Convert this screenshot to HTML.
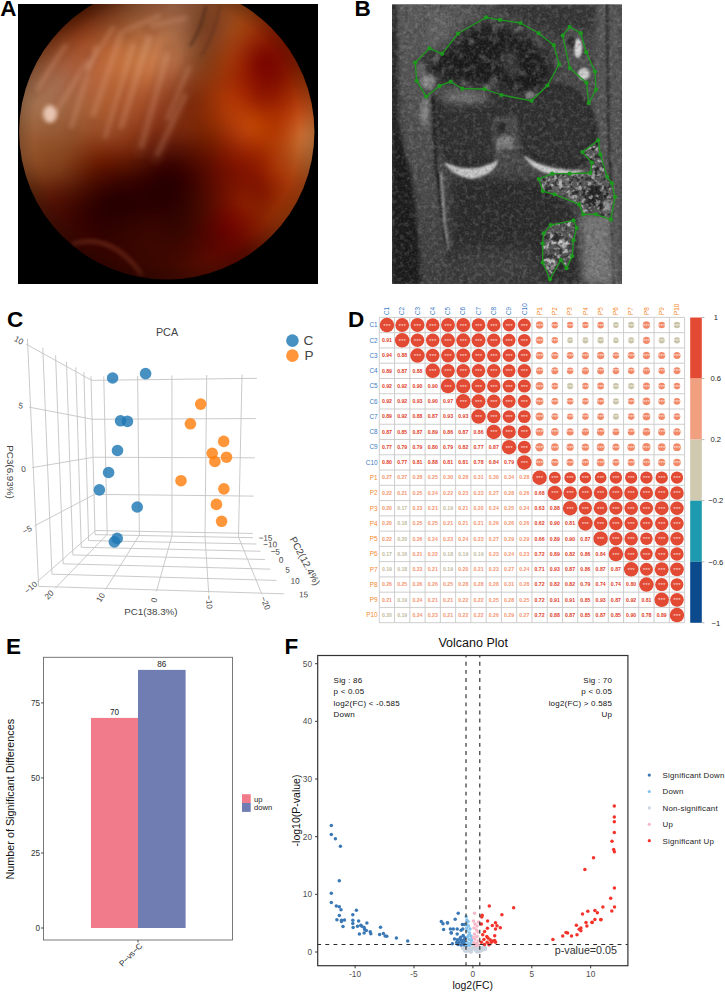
<!DOCTYPE html>
<html><head><meta charset="utf-8"><style>
html,body{margin:0;padding:0;background:#fff;}
svg{display:block;font-family:"Liberation Sans", sans-serif;}
</style></head><body>
<svg width="725" height="993" viewBox="0 0 725 993">
<rect width="725" height="993" fill="#fff"/>
<text x="0.3" y="16.3" font-size="22.5" font-weight="bold" fill="#000">A</text>
<defs>
<clipPath id="clipA"><circle cx="166.8" cy="132" r="147.6"/></clipPath>
<clipPath id="clipAr"><rect x="18" y="4" width="300" height="280"/></clipPath>
<filter id="bA1" x="-50%" y="-50%" width="200%" height="200%" color-interpolation-filters="sRGB"><feGaussianBlur stdDeviation="1.4"/></filter>
<filter id="bA2" x="-50%" y="-50%" width="200%" height="200%" color-interpolation-filters="sRGB"><feGaussianBlur stdDeviation="2"/></filter>
<filter id="bA4" x="-50%" y="-50%" width="200%" height="200%" color-interpolation-filters="sRGB"><feGaussianBlur stdDeviation="4"/></filter>
<filter id="bAm" x="0" y="0" width="100%" height="100%" color-interpolation-filters="sRGB"><feGaussianBlur stdDeviation="3" edgeMode="duplicate"/></filter>
<radialGradient id="vigA" cx="166.8" cy="132" r="147.6" gradientUnits="userSpaceOnUse">
<stop offset="0.9" stop-color="#000" stop-opacity="0"/>
<stop offset="1" stop-color="#000" stop-opacity="0.18"/>
</radialGradient>
</defs>
<rect x="18" y="4" width="300" height="280" fill="#000"/>
<g clip-path="url(#clipAr)"><g clip-path="url(#clipA)">
<g filter="url(#bAm)"><rect x="10" y="-8" width="6.5" height="6.5" fill="#420a00"/><rect x="16" y="-8" width="6.5" height="6.5" fill="#420900"/><rect x="22" y="-8" width="6.5" height="6.5" fill="#420900"/><rect x="28" y="-8" width="6.5" height="6.5" fill="#420800"/><rect x="34" y="-8" width="6.5" height="6.5" fill="#410800"/><rect x="40" y="-8" width="6.5" height="6.5" fill="#410700"/><rect x="46" y="-8" width="6.5" height="6.5" fill="#410700"/><rect x="52" y="-8" width="6.5" height="6.5" fill="#410700"/><rect x="58" y="-8" width="6.5" height="6.5" fill="#410800"/><rect x="64" y="-8" width="6.5" height="6.5" fill="#410900"/><rect x="70" y="-8" width="6.5" height="6.5" fill="#420b00"/><rect x="76" y="-8" width="6.5" height="6.5" fill="#440d00"/><rect x="82" y="-8" width="6.5" height="6.5" fill="#461100"/><rect x="88" y="-8" width="6.5" height="6.5" fill="#491500"/><rect x="94" y="-8" width="6.5" height="6.5" fill="#4d1904"/><rect x="100" y="-8" width="6.5" height="6.5" fill="#521e09"/><rect x="106" y="-8" width="6.5" height="6.5" fill="#56240d"/><rect x="112" y="-8" width="6.5" height="6.5" fill="#5c2912"/><rect x="118" y="-8" width="6.5" height="6.5" fill="#612f17"/><rect x="124" y="-8" width="6.5" height="6.5" fill="#66351c"/><rect x="130" y="-8" width="6.5" height="6.5" fill="#6c3a21"/><rect x="136" y="-8" width="6.5" height="6.5" fill="#714026"/><rect x="142" y="-8" width="6.5" height="6.5" fill="#76452a"/><rect x="148" y="-8" width="6.5" height="6.5" fill="#7b492e"/><rect x="154" y="-8" width="6.5" height="6.5" fill="#7f4d32"/><rect x="160" y="-8" width="6.5" height="6.5" fill="#815035"/><rect x="166" y="-8" width="6.5" height="6.5" fill="#835236"/><rect x="172" y="-8" width="6.5" height="6.5" fill="#845237"/><rect x="178" y="-8" width="6.5" height="6.5" fill="#835136"/><rect x="184" y="-8" width="6.5" height="6.5" fill="#814f33"/><rect x="190" y="-8" width="6.5" height="6.5" fill="#7f4c30"/><rect x="196" y="-8" width="6.5" height="6.5" fill="#7d492b"/><rect x="202" y="-8" width="6.5" height="6.5" fill="#7c4627"/><rect x="208" y="-8" width="6.5" height="6.5" fill="#7d4424"/><rect x="214" y="-8" width="6.5" height="6.5" fill="#7e4320"/><rect x="220" y="-8" width="6.5" height="6.5" fill="#81421d"/><rect x="226" y="-8" width="6.5" height="6.5" fill="#84411a"/><rect x="232" y="-8" width="6.5" height="6.5" fill="#874017"/><rect x="238" y="-8" width="6.5" height="6.5" fill="#893e15"/><rect x="244" y="-8" width="6.5" height="6.5" fill="#8b3c12"/><rect x="250" y="-8" width="6.5" height="6.5" fill="#8c3a0f"/><rect x="256" y="-8" width="6.5" height="6.5" fill="#8d380d"/><rect x="262" y="-8" width="6.5" height="6.5" fill="#8d360b"/><rect x="268" y="-8" width="6.5" height="6.5" fill="#8e3409"/><rect x="274" y="-8" width="6.5" height="6.5" fill="#8e3207"/><rect x="280" y="-8" width="6.5" height="6.5" fill="#8f3106"/><rect x="286" y="-8" width="6.5" height="6.5" fill="#903106"/><rect x="292" y="-8" width="6.5" height="6.5" fill="#913105"/><rect x="298" y="-8" width="6.5" height="6.5" fill="#933205"/><rect x="304" y="-8" width="6.5" height="6.5" fill="#953406"/><rect x="310" y="-8" width="6.5" height="6.5" fill="#973606"/><rect x="316" y="-8" width="6.5" height="6.5" fill="#993807"/><rect x="322" y="-8" width="6.5" height="6.5" fill="#9b3b08"/><rect x="10" y="-2" width="6.5" height="6.5" fill="#491000"/><rect x="16" y="-2" width="6.5" height="6.5" fill="#490f00"/><rect x="22" y="-2" width="6.5" height="6.5" fill="#490e00"/><rect x="28" y="-2" width="6.5" height="6.5" fill="#490d00"/><rect x="34" y="-2" width="6.5" height="6.5" fill="#480d00"/><rect x="40" y="-2" width="6.5" height="6.5" fill="#480c00"/><rect x="46" y="-2" width="6.5" height="6.5" fill="#480c00"/><rect x="52" y="-2" width="6.5" height="6.5" fill="#480c00"/><rect x="58" y="-2" width="6.5" height="6.5" fill="#480d00"/><rect x="64" y="-2" width="6.5" height="6.5" fill="#490e00"/><rect x="70" y="-2" width="6.5" height="6.5" fill="#490f00"/><rect x="76" y="-2" width="6.5" height="6.5" fill="#4b1200"/><rect x="82" y="-2" width="6.5" height="6.5" fill="#4e1500"/><rect x="88" y="-2" width="6.5" height="6.5" fill="#511903"/><rect x="94" y="-2" width="6.5" height="6.5" fill="#551e08"/><rect x="100" y="-2" width="6.5" height="6.5" fill="#59230c"/><rect x="106" y="-2" width="6.5" height="6.5" fill="#5e2911"/><rect x="112" y="-2" width="6.5" height="6.5" fill="#642f16"/><rect x="118" y="-2" width="6.5" height="6.5" fill="#69351b"/><rect x="124" y="-2" width="6.5" height="6.5" fill="#6f3b20"/><rect x="130" y="-2" width="6.5" height="6.5" fill="#744024"/><rect x="136" y="-2" width="6.5" height="6.5" fill="#7a4629"/><rect x="142" y="-2" width="6.5" height="6.5" fill="#7f4b2e"/><rect x="148" y="-2" width="6.5" height="6.5" fill="#834f32"/><rect x="154" y="-2" width="6.5" height="6.5" fill="#875336"/><rect x="160" y="-2" width="6.5" height="6.5" fill="#895639"/><rect x="166" y="-2" width="6.5" height="6.5" fill="#8b573b"/><rect x="172" y="-2" width="6.5" height="6.5" fill="#8b573b"/><rect x="178" y="-2" width="6.5" height="6.5" fill="#89563a"/><rect x="184" y="-2" width="6.5" height="6.5" fill="#865337"/><rect x="190" y="-2" width="6.5" height="6.5" fill="#824e32"/><rect x="196" y="-2" width="6.5" height="6.5" fill="#7f4a2c"/><rect x="202" y="-2" width="6.5" height="6.5" fill="#7d4628"/><rect x="208" y="-2" width="6.5" height="6.5" fill="#7d4424"/><rect x="214" y="-2" width="6.5" height="6.5" fill="#804321"/><rect x="220" y="-2" width="6.5" height="6.5" fill="#83431e"/><rect x="226" y="-2" width="6.5" height="6.5" fill="#87421b"/><rect x="232" y="-2" width="6.5" height="6.5" fill="#8a4118"/><rect x="238" y="-2" width="6.5" height="6.5" fill="#8c3f15"/><rect x="244" y="-2" width="6.5" height="6.5" fill="#8e3d12"/><rect x="250" y="-2" width="6.5" height="6.5" fill="#8f3a0f"/><rect x="256" y="-2" width="6.5" height="6.5" fill="#8f370c"/><rect x="262" y="-2" width="6.5" height="6.5" fill="#8f350a"/><rect x="268" y="-2" width="6.5" height="6.5" fill="#8f3208"/><rect x="274" y="-2" width="6.5" height="6.5" fill="#903107"/><rect x="280" y="-2" width="6.5" height="6.5" fill="#903005"/><rect x="286" y="-2" width="6.5" height="6.5" fill="#912f05"/><rect x="292" y="-2" width="6.5" height="6.5" fill="#923005"/><rect x="298" y="-2" width="6.5" height="6.5" fill="#933105"/><rect x="304" y="-2" width="6.5" height="6.5" fill="#953305"/><rect x="310" y="-2" width="6.5" height="6.5" fill="#973506"/><rect x="316" y="-2" width="6.5" height="6.5" fill="#9a3707"/><rect x="322" y="-2" width="6.5" height="6.5" fill="#9c3b08"/><rect x="10" y="4" width="6.5" height="6.5" fill="#501500"/><rect x="16" y="4" width="6.5" height="6.5" fill="#501500"/><rect x="22" y="4" width="6.5" height="6.5" fill="#501400"/><rect x="28" y="4" width="6.5" height="6.5" fill="#501300"/><rect x="34" y="4" width="6.5" height="6.5" fill="#501200"/><rect x="40" y="4" width="6.5" height="6.5" fill="#501200"/><rect x="46" y="4" width="6.5" height="6.5" fill="#501200"/><rect x="52" y="4" width="6.5" height="6.5" fill="#501200"/><rect x="58" y="4" width="6.5" height="6.5" fill="#501200"/><rect x="64" y="4" width="6.5" height="6.5" fill="#501300"/><rect x="70" y="4" width="6.5" height="6.5" fill="#511400"/><rect x="76" y="4" width="6.5" height="6.5" fill="#531700"/><rect x="82" y="4" width="6.5" height="6.5" fill="#561a03"/><rect x="88" y="4" width="6.5" height="6.5" fill="#591f07"/><rect x="94" y="4" width="6.5" height="6.5" fill="#5d240c"/><rect x="100" y="4" width="6.5" height="6.5" fill="#622910"/><rect x="106" y="4" width="6.5" height="6.5" fill="#672f15"/><rect x="112" y="4" width="6.5" height="6.5" fill="#6d351a"/><rect x="118" y="4" width="6.5" height="6.5" fill="#723b1f"/><rect x="124" y="4" width="6.5" height="6.5" fill="#784123"/><rect x="130" y="4" width="6.5" height="6.5" fill="#7d4628"/><rect x="136" y="4" width="6.5" height="6.5" fill="#824c2d"/><rect x="142" y="4" width="6.5" height="6.5" fill="#875132"/><rect x="148" y="4" width="6.5" height="6.5" fill="#8c5536"/><rect x="154" y="4" width="6.5" height="6.5" fill="#8f593a"/><rect x="160" y="4" width="6.5" height="6.5" fill="#915b3d"/><rect x="166" y="4" width="6.5" height="6.5" fill="#925d3f"/><rect x="172" y="4" width="6.5" height="6.5" fill="#925d40"/><rect x="178" y="4" width="6.5" height="6.5" fill="#8f5b3e"/><rect x="184" y="4" width="6.5" height="6.5" fill="#8a563a"/><rect x="190" y="4" width="6.5" height="6.5" fill="#845033"/><rect x="196" y="4" width="6.5" height="6.5" fill="#7f4a2c"/><rect x="202" y="4" width="6.5" height="6.5" fill="#7d4527"/><rect x="208" y="4" width="6.5" height="6.5" fill="#7d4323"/><rect x="214" y="4" width="6.5" height="6.5" fill="#804320"/><rect x="220" y="4" width="6.5" height="6.5" fill="#85431e"/><rect x="226" y="4" width="6.5" height="6.5" fill="#8a431b"/><rect x="232" y="4" width="6.5" height="6.5" fill="#8e4218"/><rect x="238" y="4" width="6.5" height="6.5" fill="#904014"/><rect x="244" y="4" width="6.5" height="6.5" fill="#913d11"/><rect x="250" y="4" width="6.5" height="6.5" fill="#913a0e"/><rect x="256" y="4" width="6.5" height="6.5" fill="#91360b"/><rect x="262" y="4" width="6.5" height="6.5" fill="#913309"/><rect x="268" y="4" width="6.5" height="6.5" fill="#913107"/><rect x="274" y="4" width="6.5" height="6.5" fill="#912f06"/><rect x="280" y="4" width="6.5" height="6.5" fill="#912e05"/><rect x="286" y="4" width="6.5" height="6.5" fill="#912d04"/><rect x="292" y="4" width="6.5" height="6.5" fill="#922e04"/><rect x="298" y="4" width="6.5" height="6.5" fill="#942f04"/><rect x="304" y="4" width="6.5" height="6.5" fill="#963105"/><rect x="310" y="4" width="6.5" height="6.5" fill="#983406"/><rect x="316" y="4" width="6.5" height="6.5" fill="#9a3707"/><rect x="322" y="4" width="6.5" height="6.5" fill="#9d3a08"/><rect x="10" y="10" width="6.5" height="6.5" fill="#571b00"/><rect x="16" y="10" width="6.5" height="6.5" fill="#571b00"/><rect x="22" y="10" width="6.5" height="6.5" fill="#581a00"/><rect x="28" y="10" width="6.5" height="6.5" fill="#581900"/><rect x="34" y="10" width="6.5" height="6.5" fill="#581800"/><rect x="40" y="10" width="6.5" height="6.5" fill="#581800"/><rect x="46" y="10" width="6.5" height="6.5" fill="#581800"/><rect x="52" y="10" width="6.5" height="6.5" fill="#581800"/><rect x="58" y="10" width="6.5" height="6.5" fill="#581800"/><rect x="64" y="10" width="6.5" height="6.5" fill="#591900"/><rect x="70" y="10" width="6.5" height="6.5" fill="#5a1a01"/><rect x="76" y="10" width="6.5" height="6.5" fill="#5c1d03"/><rect x="82" y="10" width="6.5" height="6.5" fill="#5f2007"/><rect x="88" y="10" width="6.5" height="6.5" fill="#63250b"/><rect x="94" y="10" width="6.5" height="6.5" fill="#672a10"/><rect x="100" y="10" width="6.5" height="6.5" fill="#6c3015"/><rect x="106" y="10" width="6.5" height="6.5" fill="#72361a"/><rect x="112" y="10" width="6.5" height="6.5" fill="#783c1e"/><rect x="118" y="10" width="6.5" height="6.5" fill="#7d4223"/><rect x="124" y="10" width="6.5" height="6.5" fill="#824827"/><rect x="130" y="10" width="6.5" height="6.5" fill="#874d2c"/><rect x="136" y="10" width="6.5" height="6.5" fill="#8c5231"/><rect x="142" y="10" width="6.5" height="6.5" fill="#915735"/><rect x="148" y="10" width="6.5" height="6.5" fill="#955b3a"/><rect x="154" y="10" width="6.5" height="6.5" fill="#975e3d"/><rect x="160" y="10" width="6.5" height="6.5" fill="#996040"/><rect x="166" y="10" width="6.5" height="6.5" fill="#9a6242"/><rect x="172" y="10" width="6.5" height="6.5" fill="#986143"/><rect x="178" y="10" width="6.5" height="6.5" fill="#955f42"/><rect x="184" y="10" width="6.5" height="6.5" fill="#8e593c"/><rect x="190" y="10" width="6.5" height="6.5" fill="#855033"/><rect x="196" y="10" width="6.5" height="6.5" fill="#7e482b"/><rect x="202" y="10" width="6.5" height="6.5" fill="#7b4325"/><rect x="208" y="10" width="6.5" height="6.5" fill="#7c4222"/><rect x="214" y="10" width="6.5" height="6.5" fill="#814220"/><rect x="220" y="10" width="6.5" height="6.5" fill="#87431e"/><rect x="226" y="10" width="6.5" height="6.5" fill="#8d441b"/><rect x="232" y="10" width="6.5" height="6.5" fill="#924417"/><rect x="238" y="10" width="6.5" height="6.5" fill="#944214"/><rect x="244" y="10" width="6.5" height="6.5" fill="#953e10"/><rect x="250" y="10" width="6.5" height="6.5" fill="#94390d"/><rect x="256" y="10" width="6.5" height="6.5" fill="#93350a"/><rect x="262" y="10" width="6.5" height="6.5" fill="#923108"/><rect x="268" y="10" width="6.5" height="6.5" fill="#912e06"/><rect x="274" y="10" width="6.5" height="6.5" fill="#912c05"/><rect x="280" y="10" width="6.5" height="6.5" fill="#912b04"/><rect x="286" y="10" width="6.5" height="6.5" fill="#912b03"/><rect x="292" y="10" width="6.5" height="6.5" fill="#922c03"/><rect x="298" y="10" width="6.5" height="6.5" fill="#942d03"/><rect x="304" y="10" width="6.5" height="6.5" fill="#963004"/><rect x="310" y="10" width="6.5" height="6.5" fill="#983205"/><rect x="316" y="10" width="6.5" height="6.5" fill="#9b3607"/><rect x="322" y="10" width="6.5" height="6.5" fill="#9e3a08"/><rect x="10" y="16" width="6.5" height="6.5" fill="#5e2203"/><rect x="16" y="16" width="6.5" height="6.5" fill="#5f2102"/><rect x="22" y="16" width="6.5" height="6.5" fill="#5f2002"/><rect x="28" y="16" width="6.5" height="6.5" fill="#601f01"/><rect x="34" y="16" width="6.5" height="6.5" fill="#601f01"/><rect x="40" y="16" width="6.5" height="6.5" fill="#601e01"/><rect x="46" y="16" width="6.5" height="6.5" fill="#611e01"/><rect x="52" y="16" width="6.5" height="6.5" fill="#611e02"/><rect x="58" y="16" width="6.5" height="6.5" fill="#621f03"/><rect x="64" y="16" width="6.5" height="6.5" fill="#632004"/><rect x="70" y="16" width="6.5" height="6.5" fill="#642106"/><rect x="76" y="16" width="6.5" height="6.5" fill="#662408"/><rect x="82" y="16" width="6.5" height="6.5" fill="#6a280c"/><rect x="88" y="16" width="6.5" height="6.5" fill="#6e2d10"/><rect x="94" y="16" width="6.5" height="6.5" fill="#733215"/><rect x="100" y="16" width="6.5" height="6.5" fill="#78381a"/><rect x="106" y="16" width="6.5" height="6.5" fill="#7e3f1f"/><rect x="112" y="16" width="6.5" height="6.5" fill="#844523"/><rect x="118" y="16" width="6.5" height="6.5" fill="#894a28"/><rect x="124" y="16" width="6.5" height="6.5" fill="#8d502c"/><rect x="130" y="16" width="6.5" height="6.5" fill="#925530"/><rect x="136" y="16" width="6.5" height="6.5" fill="#975a35"/><rect x="142" y="16" width="6.5" height="6.5" fill="#9b5e39"/><rect x="148" y="16" width="6.5" height="6.5" fill="#9e613d"/><rect x="154" y="16" width="6.5" height="6.5" fill="#a06340"/><rect x="160" y="16" width="6.5" height="6.5" fill="#a06543"/><rect x="166" y="16" width="6.5" height="6.5" fill="#a06645"/><rect x="172" y="16" width="6.5" height="6.5" fill="#9e6545"/><rect x="178" y="16" width="6.5" height="6.5" fill="#9a6244"/><rect x="184" y="16" width="6.5" height="6.5" fill="#915b3d"/><rect x="190" y="16" width="6.5" height="6.5" fill="#854f32"/><rect x="196" y="16" width="6.5" height="6.5" fill="#7b4527"/><rect x="202" y="16" width="6.5" height="6.5" fill="#784022"/><rect x="208" y="16" width="6.5" height="6.5" fill="#7b4021"/><rect x="214" y="16" width="6.5" height="6.5" fill="#824220"/><rect x="220" y="16" width="6.5" height="6.5" fill="#89441e"/><rect x="226" y="16" width="6.5" height="6.5" fill="#91451b"/><rect x="232" y="16" width="6.5" height="6.5" fill="#964517"/><rect x="238" y="16" width="6.5" height="6.5" fill="#994313"/><rect x="244" y="16" width="6.5" height="6.5" fill="#983e0f"/><rect x="250" y="16" width="6.5" height="6.5" fill="#97380c"/><rect x="256" y="16" width="6.5" height="6.5" fill="#943309"/><rect x="262" y="16" width="6.5" height="6.5" fill="#932f07"/><rect x="268" y="16" width="6.5" height="6.5" fill="#912b05"/><rect x="274" y="16" width="6.5" height="6.5" fill="#902903"/><rect x="280" y="16" width="6.5" height="6.5" fill="#902802"/><rect x="286" y="16" width="6.5" height="6.5" fill="#912802"/><rect x="292" y="16" width="6.5" height="6.5" fill="#922902"/><rect x="298" y="16" width="6.5" height="6.5" fill="#932b03"/><rect x="304" y="16" width="6.5" height="6.5" fill="#962e04"/><rect x="310" y="16" width="6.5" height="6.5" fill="#983105"/><rect x="316" y="16" width="6.5" height="6.5" fill="#9b3507"/><rect x="322" y="16" width="6.5" height="6.5" fill="#9e3909"/><rect x="10" y="22" width="6.5" height="6.5" fill="#662808"/><rect x="16" y="22" width="6.5" height="6.5" fill="#662708"/><rect x="22" y="22" width="6.5" height="6.5" fill="#672707"/><rect x="28" y="22" width="6.5" height="6.5" fill="#682607"/><rect x="34" y="22" width="6.5" height="6.5" fill="#682606"/><rect x="40" y="22" width="6.5" height="6.5" fill="#692506"/><rect x="46" y="22" width="6.5" height="6.5" fill="#6a2507"/><rect x="52" y="22" width="6.5" height="6.5" fill="#6b2607"/><rect x="58" y="22" width="6.5" height="6.5" fill="#6c2608"/><rect x="64" y="22" width="6.5" height="6.5" fill="#6d280a"/><rect x="70" y="22" width="6.5" height="6.5" fill="#6f290c"/><rect x="76" y="22" width="6.5" height="6.5" fill="#722c0e"/><rect x="82" y="22" width="6.5" height="6.5" fill="#773112"/><rect x="88" y="22" width="6.5" height="6.5" fill="#7c3616"/><rect x="94" y="22" width="6.5" height="6.5" fill="#813b1b"/><rect x="100" y="22" width="6.5" height="6.5" fill="#864120"/><rect x="106" y="22" width="6.5" height="6.5" fill="#8c4824"/><rect x="112" y="22" width="6.5" height="6.5" fill="#914e29"/><rect x="118" y="22" width="6.5" height="6.5" fill="#96532d"/><rect x="124" y="22" width="6.5" height="6.5" fill="#9a5831"/><rect x="130" y="22" width="6.5" height="6.5" fill="#9e5d35"/><rect x="136" y="22" width="6.5" height="6.5" fill="#a26139"/><rect x="142" y="22" width="6.5" height="6.5" fill="#a5653d"/><rect x="148" y="22" width="6.5" height="6.5" fill="#a76740"/><rect x="154" y="22" width="6.5" height="6.5" fill="#a86842"/><rect x="160" y="22" width="6.5" height="6.5" fill="#a76944"/><rect x="166" y="22" width="6.5" height="6.5" fill="#a56845"/><rect x="172" y="22" width="6.5" height="6.5" fill="#a26745"/><rect x="178" y="22" width="6.5" height="6.5" fill="#9c6343"/><rect x="184" y="22" width="6.5" height="6.5" fill="#915a3b"/><rect x="190" y="22" width="6.5" height="6.5" fill="#844e2f"/><rect x="196" y="22" width="6.5" height="6.5" fill="#794224"/><rect x="202" y="22" width="6.5" height="6.5" fill="#773e21"/><rect x="208" y="22" width="6.5" height="6.5" fill="#7b3f21"/><rect x="214" y="22" width="6.5" height="6.5" fill="#834121"/><rect x="220" y="22" width="6.5" height="6.5" fill="#8c441f"/><rect x="226" y="22" width="6.5" height="6.5" fill="#95461b"/><rect x="232" y="22" width="6.5" height="6.5" fill="#9b4616"/><rect x="238" y="22" width="6.5" height="6.5" fill="#9d4312"/><rect x="244" y="22" width="6.5" height="6.5" fill="#9b3d0e"/><rect x="250" y="22" width="6.5" height="6.5" fill="#98360b"/><rect x="256" y="22" width="6.5" height="6.5" fill="#953008"/><rect x="262" y="22" width="6.5" height="6.5" fill="#922b06"/><rect x="268" y="22" width="6.5" height="6.5" fill="#902704"/><rect x="274" y="22" width="6.5" height="6.5" fill="#8f2502"/><rect x="280" y="22" width="6.5" height="6.5" fill="#8f2401"/><rect x="286" y="22" width="6.5" height="6.5" fill="#902501"/><rect x="292" y="22" width="6.5" height="6.5" fill="#912601"/><rect x="298" y="22" width="6.5" height="6.5" fill="#932902"/><rect x="304" y="22" width="6.5" height="6.5" fill="#952c03"/><rect x="310" y="22" width="6.5" height="6.5" fill="#983005"/><rect x="316" y="22" width="6.5" height="6.5" fill="#9b3507"/><rect x="322" y="22" width="6.5" height="6.5" fill="#9f3909"/><rect x="10" y="28" width="6.5" height="6.5" fill="#6d2f0e"/><rect x="16" y="28" width="6.5" height="6.5" fill="#6e2e0d"/><rect x="22" y="28" width="6.5" height="6.5" fill="#6f2e0d"/><rect x="28" y="28" width="6.5" height="6.5" fill="#702d0d"/><rect x="34" y="28" width="6.5" height="6.5" fill="#712d0c"/><rect x="40" y="28" width="6.5" height="6.5" fill="#722d0c"/><rect x="46" y="28" width="6.5" height="6.5" fill="#732d0d"/><rect x="52" y="28" width="6.5" height="6.5" fill="#742d0e"/><rect x="58" y="28" width="6.5" height="6.5" fill="#762e0f"/><rect x="64" y="28" width="6.5" height="6.5" fill="#783010"/><rect x="70" y="28" width="6.5" height="6.5" fill="#7b3213"/><rect x="76" y="28" width="6.5" height="6.5" fill="#7f3615"/><rect x="82" y="28" width="6.5" height="6.5" fill="#843a19"/><rect x="88" y="28" width="6.5" height="6.5" fill="#8a401d"/><rect x="94" y="28" width="6.5" height="6.5" fill="#904621"/><rect x="100" y="28" width="6.5" height="6.5" fill="#964c26"/><rect x="106" y="28" width="6.5" height="6.5" fill="#9b512a"/><rect x="112" y="28" width="6.5" height="6.5" fill="#9f572e"/><rect x="118" y="28" width="6.5" height="6.5" fill="#a35c32"/><rect x="124" y="28" width="6.5" height="6.5" fill="#a76136"/><rect x="130" y="28" width="6.5" height="6.5" fill="#aa653a"/><rect x="136" y="28" width="6.5" height="6.5" fill="#ad693e"/><rect x="142" y="28" width="6.5" height="6.5" fill="#af6c41"/><rect x="148" y="28" width="6.5" height="6.5" fill="#b06d43"/><rect x="154" y="28" width="6.5" height="6.5" fill="#af6d45"/><rect x="160" y="28" width="6.5" height="6.5" fill="#ad6d46"/><rect x="166" y="28" width="6.5" height="6.5" fill="#aa6b46"/><rect x="172" y="28" width="6.5" height="6.5" fill="#a56845"/><rect x="178" y="28" width="6.5" height="6.5" fill="#9d6241"/><rect x="184" y="28" width="6.5" height="6.5" fill="#915939"/><rect x="190" y="28" width="6.5" height="6.5" fill="#854d2f"/><rect x="196" y="28" width="6.5" height="6.5" fill="#7b4325"/><rect x="202" y="28" width="6.5" height="6.5" fill="#793f22"/><rect x="208" y="28" width="6.5" height="6.5" fill="#7d3f22"/><rect x="214" y="28" width="6.5" height="6.5" fill="#854122"/><rect x="220" y="28" width="6.5" height="6.5" fill="#8e441e"/><rect x="226" y="28" width="6.5" height="6.5" fill="#984619"/><rect x="232" y="28" width="6.5" height="6.5" fill="#9e4615"/><rect x="238" y="28" width="6.5" height="6.5" fill="#a04110"/><rect x="244" y="28" width="6.5" height="6.5" fill="#9c3a0d"/><rect x="250" y="28" width="6.5" height="6.5" fill="#983209"/><rect x="256" y="28" width="6.5" height="6.5" fill="#932b07"/><rect x="262" y="28" width="6.5" height="6.5" fill="#902604"/><rect x="268" y="28" width="6.5" height="6.5" fill="#8e2202"/><rect x="274" y="28" width="6.5" height="6.5" fill="#8d2001"/><rect x="280" y="28" width="6.5" height="6.5" fill="#8d2000"/><rect x="286" y="28" width="6.5" height="6.5" fill="#8e2100"/><rect x="292" y="28" width="6.5" height="6.5" fill="#8f2401"/><rect x="298" y="28" width="6.5" height="6.5" fill="#922702"/><rect x="304" y="28" width="6.5" height="6.5" fill="#942b03"/><rect x="310" y="28" width="6.5" height="6.5" fill="#982f05"/><rect x="316" y="28" width="6.5" height="6.5" fill="#9b3407"/><rect x="322" y="28" width="6.5" height="6.5" fill="#9f3909"/><rect x="10" y="34" width="6.5" height="6.5" fill="#743614"/><rect x="16" y="34" width="6.5" height="6.5" fill="#753614"/><rect x="22" y="34" width="6.5" height="6.5" fill="#763513"/><rect x="28" y="34" width="6.5" height="6.5" fill="#773513"/><rect x="34" y="34" width="6.5" height="6.5" fill="#793413"/><rect x="40" y="34" width="6.5" height="6.5" fill="#7a3413"/><rect x="46" y="34" width="6.5" height="6.5" fill="#7c3513"/><rect x="52" y="34" width="6.5" height="6.5" fill="#7e3614"/><rect x="58" y="34" width="6.5" height="6.5" fill="#803716"/><rect x="64" y="34" width="6.5" height="6.5" fill="#833918"/><rect x="70" y="34" width="6.5" height="6.5" fill="#873c1a"/><rect x="76" y="34" width="6.5" height="6.5" fill="#8c3f1d"/><rect x="82" y="34" width="6.5" height="6.5" fill="#924420"/><rect x="88" y="34" width="6.5" height="6.5" fill="#994a24"/><rect x="94" y="34" width="6.5" height="6.5" fill="#9f5028"/><rect x="100" y="34" width="6.5" height="6.5" fill="#a5562c"/><rect x="106" y="34" width="6.5" height="6.5" fill="#a95b30"/><rect x="112" y="34" width="6.5" height="6.5" fill="#ad6033"/><rect x="118" y="34" width="6.5" height="6.5" fill="#b16537"/><rect x="124" y="34" width="6.5" height="6.5" fill="#b36a3b"/><rect x="130" y="34" width="6.5" height="6.5" fill="#b66d3e"/><rect x="136" y="34" width="6.5" height="6.5" fill="#b87042"/><rect x="142" y="34" width="6.5" height="6.5" fill="#b97244"/><rect x="148" y="34" width="6.5" height="6.5" fill="#b87346"/><rect x="154" y="34" width="6.5" height="6.5" fill="#b77248"/><rect x="160" y="34" width="6.5" height="6.5" fill="#b47148"/><rect x="166" y="34" width="6.5" height="6.5" fill="#af6e47"/><rect x="172" y="34" width="6.5" height="6.5" fill="#a86a45"/><rect x="178" y="34" width="6.5" height="6.5" fill="#9e6240"/><rect x="184" y="34" width="6.5" height="6.5" fill="#935938"/><rect x="190" y="34" width="6.5" height="6.5" fill="#874f2f"/><rect x="196" y="34" width="6.5" height="6.5" fill="#7f4627"/><rect x="202" y="34" width="6.5" height="6.5" fill="#7d4123"/><rect x="208" y="34" width="6.5" height="6.5" fill="#804021"/><rect x="214" y="34" width="6.5" height="6.5" fill="#88411f"/><rect x="220" y="34" width="6.5" height="6.5" fill="#91431b"/><rect x="226" y="34" width="6.5" height="6.5" fill="#994317"/><rect x="232" y="34" width="6.5" height="6.5" fill="#9e4213"/><rect x="238" y="34" width="6.5" height="6.5" fill="#9f3d0e"/><rect x="244" y="34" width="6.5" height="6.5" fill="#9b350b"/><rect x="250" y="34" width="6.5" height="6.5" fill="#962d08"/><rect x="256" y="34" width="6.5" height="6.5" fill="#902505"/><rect x="262" y="34" width="6.5" height="6.5" fill="#8c2003"/><rect x="268" y="34" width="6.5" height="6.5" fill="#8a1c01"/><rect x="274" y="34" width="6.5" height="6.5" fill="#891b00"/><rect x="280" y="34" width="6.5" height="6.5" fill="#8a1c00"/><rect x="286" y="34" width="6.5" height="6.5" fill="#8b1e00"/><rect x="292" y="34" width="6.5" height="6.5" fill="#8d2100"/><rect x="298" y="34" width="6.5" height="6.5" fill="#902501"/><rect x="304" y="34" width="6.5" height="6.5" fill="#942a03"/><rect x="310" y="34" width="6.5" height="6.5" fill="#972f05"/><rect x="316" y="34" width="6.5" height="6.5" fill="#9b3407"/><rect x="322" y="34" width="6.5" height="6.5" fill="#a03a0a"/><rect x="10" y="40" width="6.5" height="6.5" fill="#7b3d1a"/><rect x="16" y="40" width="6.5" height="6.5" fill="#7c3d1a"/><rect x="22" y="40" width="6.5" height="6.5" fill="#7d3d1a"/><rect x="28" y="40" width="6.5" height="6.5" fill="#7f3c1a"/><rect x="34" y="40" width="6.5" height="6.5" fill="#813c19"/><rect x="40" y="40" width="6.5" height="6.5" fill="#823c1a"/><rect x="46" y="40" width="6.5" height="6.5" fill="#843d1a"/><rect x="52" y="40" width="6.5" height="6.5" fill="#863e1c"/><rect x="58" y="40" width="6.5" height="6.5" fill="#893f1d"/><rect x="64" y="40" width="6.5" height="6.5" fill="#8d421f"/><rect x="70" y="40" width="6.5" height="6.5" fill="#924522"/><rect x="76" y="40" width="6.5" height="6.5" fill="#974924"/><rect x="82" y="40" width="6.5" height="6.5" fill="#9e4d27"/><rect x="88" y="40" width="6.5" height="6.5" fill="#a5532a"/><rect x="94" y="40" width="6.5" height="6.5" fill="#ad592e"/><rect x="100" y="40" width="6.5" height="6.5" fill="#b25f31"/><rect x="106" y="40" width="6.5" height="6.5" fill="#b66435"/><rect x="112" y="40" width="6.5" height="6.5" fill="#b96838"/><rect x="118" y="40" width="6.5" height="6.5" fill="#bc6d3c"/><rect x="124" y="40" width="6.5" height="6.5" fill="#be713f"/><rect x="130" y="40" width="6.5" height="6.5" fill="#c07542"/><rect x="136" y="40" width="6.5" height="6.5" fill="#c17745"/><rect x="142" y="40" width="6.5" height="6.5" fill="#c17848"/><rect x="148" y="40" width="6.5" height="6.5" fill="#c07849"/><rect x="154" y="40" width="6.5" height="6.5" fill="#be774a"/><rect x="160" y="40" width="6.5" height="6.5" fill="#ba754a"/><rect x="166" y="40" width="6.5" height="6.5" fill="#b47149"/><rect x="172" y="40" width="6.5" height="6.5" fill="#ac6c46"/><rect x="178" y="40" width="6.5" height="6.5" fill="#a16440"/><rect x="184" y="40" width="6.5" height="6.5" fill="#955a38"/><rect x="190" y="40" width="6.5" height="6.5" fill="#8a502f"/><rect x="196" y="40" width="6.5" height="6.5" fill="#824828"/><rect x="202" y="40" width="6.5" height="6.5" fill="#804222"/><rect x="208" y="40" width="6.5" height="6.5" fill="#83401f"/><rect x="214" y="40" width="6.5" height="6.5" fill="#8a401c"/><rect x="220" y="40" width="6.5" height="6.5" fill="#934018"/><rect x="226" y="40" width="6.5" height="6.5" fill="#9a4014"/><rect x="232" y="40" width="6.5" height="6.5" fill="#9d3d10"/><rect x="238" y="40" width="6.5" height="6.5" fill="#9c360c"/><rect x="244" y="40" width="6.5" height="6.5" fill="#982e09"/><rect x="250" y="40" width="6.5" height="6.5" fill="#922606"/><rect x="256" y="40" width="6.5" height="6.5" fill="#8c1e04"/><rect x="262" y="40" width="6.5" height="6.5" fill="#871902"/><rect x="268" y="40" width="6.5" height="6.5" fill="#851600"/><rect x="274" y="40" width="6.5" height="6.5" fill="#851600"/><rect x="280" y="40" width="6.5" height="6.5" fill="#861700"/><rect x="286" y="40" width="6.5" height="6.5" fill="#881b00"/><rect x="292" y="40" width="6.5" height="6.5" fill="#8b1f00"/><rect x="298" y="40" width="6.5" height="6.5" fill="#8f2401"/><rect x="304" y="40" width="6.5" height="6.5" fill="#932903"/><rect x="310" y="40" width="6.5" height="6.5" fill="#972f05"/><rect x="316" y="40" width="6.5" height="6.5" fill="#9c3508"/><rect x="322" y="40" width="6.5" height="6.5" fill="#a13b0b"/><rect x="10" y="46" width="6.5" height="6.5" fill="#814421"/><rect x="16" y="46" width="6.5" height="6.5" fill="#824421"/><rect x="22" y="46" width="6.5" height="6.5" fill="#844421"/><rect x="28" y="46" width="6.5" height="6.5" fill="#864421"/><rect x="34" y="46" width="6.5" height="6.5" fill="#884421"/><rect x="40" y="46" width="6.5" height="6.5" fill="#8a4421"/><rect x="46" y="46" width="6.5" height="6.5" fill="#8c4522"/><rect x="52" y="46" width="6.5" height="6.5" fill="#8e4624"/><rect x="58" y="46" width="6.5" height="6.5" fill="#914825"/><rect x="64" y="46" width="6.5" height="6.5" fill="#954a27"/><rect x="70" y="46" width="6.5" height="6.5" fill="#9a4d29"/><rect x="76" y="46" width="6.5" height="6.5" fill="#a0512b"/><rect x="82" y="46" width="6.5" height="6.5" fill="#a7552e"/><rect x="88" y="46" width="6.5" height="6.5" fill="#af5a30"/><rect x="94" y="46" width="6.5" height="6.5" fill="#b66033"/><rect x="100" y="46" width="6.5" height="6.5" fill="#bb6536"/><rect x="106" y="46" width="6.5" height="6.5" fill="#bf6a39"/><rect x="112" y="46" width="6.5" height="6.5" fill="#c26f3c"/><rect x="118" y="46" width="6.5" height="6.5" fill="#c5733f"/><rect x="124" y="46" width="6.5" height="6.5" fill="#c77843"/><rect x="130" y="46" width="6.5" height="6.5" fill="#c97b46"/><rect x="136" y="46" width="6.5" height="6.5" fill="#c97c48"/><rect x="142" y="46" width="6.5" height="6.5" fill="#c87d4a"/><rect x="148" y="46" width="6.5" height="6.5" fill="#c67c4b"/><rect x="154" y="46" width="6.5" height="6.5" fill="#c37a4c"/><rect x="160" y="46" width="6.5" height="6.5" fill="#bf784c"/><rect x="166" y="46" width="6.5" height="6.5" fill="#b8744a"/><rect x="172" y="46" width="6.5" height="6.5" fill="#b06e46"/><rect x="178" y="46" width="6.5" height="6.5" fill="#a46540"/><rect x="184" y="46" width="6.5" height="6.5" fill="#975b38"/><rect x="190" y="46" width="6.5" height="6.5" fill="#8c502f"/><rect x="196" y="46" width="6.5" height="6.5" fill="#844827"/><rect x="202" y="46" width="6.5" height="6.5" fill="#814221"/><rect x="208" y="46" width="6.5" height="6.5" fill="#85401c"/><rect x="214" y="46" width="6.5" height="6.5" fill="#8c3f18"/><rect x="220" y="46" width="6.5" height="6.5" fill="#953e14"/><rect x="226" y="46" width="6.5" height="6.5" fill="#9b3c10"/><rect x="232" y="46" width="6.5" height="6.5" fill="#9d380d"/><rect x="238" y="46" width="6.5" height="6.5" fill="#9a3009"/><rect x="244" y="46" width="6.5" height="6.5" fill="#942707"/><rect x="250" y="46" width="6.5" height="6.5" fill="#8d1e04"/><rect x="256" y="46" width="6.5" height="6.5" fill="#861602"/><rect x="262" y="46" width="6.5" height="6.5" fill="#821200"/><rect x="268" y="46" width="6.5" height="6.5" fill="#801000"/><rect x="274" y="46" width="6.5" height="6.5" fill="#811100"/><rect x="280" y="46" width="6.5" height="6.5" fill="#831400"/><rect x="286" y="46" width="6.5" height="6.5" fill="#861800"/><rect x="292" y="46" width="6.5" height="6.5" fill="#891d00"/><rect x="298" y="46" width="6.5" height="6.5" fill="#8e2301"/><rect x="304" y="46" width="6.5" height="6.5" fill="#922903"/><rect x="310" y="46" width="6.5" height="6.5" fill="#973006"/><rect x="316" y="46" width="6.5" height="6.5" fill="#9c3609"/><rect x="322" y="46" width="6.5" height="6.5" fill="#a23d0c"/><rect x="10" y="52" width="6.5" height="6.5" fill="#874b28"/><rect x="16" y="52" width="6.5" height="6.5" fill="#884b28"/><rect x="22" y="52" width="6.5" height="6.5" fill="#8a4c29"/><rect x="28" y="52" width="6.5" height="6.5" fill="#8c4c29"/><rect x="34" y="52" width="6.5" height="6.5" fill="#8e4c29"/><rect x="40" y="52" width="6.5" height="6.5" fill="#904c29"/><rect x="46" y="52" width="6.5" height="6.5" fill="#924d2b"/><rect x="52" y="52" width="6.5" height="6.5" fill="#954e2c"/><rect x="58" y="52" width="6.5" height="6.5" fill="#98502e"/><rect x="64" y="52" width="6.5" height="6.5" fill="#9c522f"/><rect x="70" y="52" width="6.5" height="6.5" fill="#a15431"/><rect x="76" y="52" width="6.5" height="6.5" fill="#a75832"/><rect x="82" y="52" width="6.5" height="6.5" fill="#ae5c34"/><rect x="88" y="52" width="6.5" height="6.5" fill="#b56036"/><rect x="94" y="52" width="6.5" height="6.5" fill="#bb6538"/><rect x="100" y="52" width="6.5" height="6.5" fill="#c16a3a"/><rect x="106" y="52" width="6.5" height="6.5" fill="#c56e3c"/><rect x="112" y="52" width="6.5" height="6.5" fill="#c8733f"/><rect x="118" y="52" width="6.5" height="6.5" fill="#cb7842"/><rect x="124" y="52" width="6.5" height="6.5" fill="#cd7c45"/><rect x="130" y="52" width="6.5" height="6.5" fill="#cf7e47"/><rect x="136" y="52" width="6.5" height="6.5" fill="#ce7f49"/><rect x="142" y="52" width="6.5" height="6.5" fill="#cc7f4b"/><rect x="148" y="52" width="6.5" height="6.5" fill="#ca7d4c"/><rect x="154" y="52" width="6.5" height="6.5" fill="#c67b4c"/><rect x="160" y="52" width="6.5" height="6.5" fill="#c2794c"/><rect x="166" y="52" width="6.5" height="6.5" fill="#bb754a"/><rect x="172" y="52" width="6.5" height="6.5" fill="#b36f47"/><rect x="178" y="52" width="6.5" height="6.5" fill="#a66540"/><rect x="184" y="52" width="6.5" height="6.5" fill="#995a37"/><rect x="190" y="52" width="6.5" height="6.5" fill="#8d502e"/><rect x="196" y="52" width="6.5" height="6.5" fill="#844725"/><rect x="202" y="52" width="6.5" height="6.5" fill="#82411e"/><rect x="208" y="52" width="6.5" height="6.5" fill="#863e19"/><rect x="214" y="52" width="6.5" height="6.5" fill="#8e3d14"/><rect x="220" y="52" width="6.5" height="6.5" fill="#973c10"/><rect x="226" y="52" width="6.5" height="6.5" fill="#9d390d"/><rect x="232" y="52" width="6.5" height="6.5" fill="#9e3409"/><rect x="238" y="52" width="6.5" height="6.5" fill="#992b07"/><rect x="244" y="52" width="6.5" height="6.5" fill="#912104"/><rect x="250" y="52" width="6.5" height="6.5" fill="#881702"/><rect x="256" y="52" width="6.5" height="6.5" fill="#810f01"/><rect x="262" y="52" width="6.5" height="6.5" fill="#7d0b00"/><rect x="268" y="52" width="6.5" height="6.5" fill="#7c0b00"/><rect x="274" y="52" width="6.5" height="6.5" fill="#7d0d00"/><rect x="280" y="52" width="6.5" height="6.5" fill="#801100"/><rect x="286" y="52" width="6.5" height="6.5" fill="#841600"/><rect x="292" y="52" width="6.5" height="6.5" fill="#881c00"/><rect x="298" y="52" width="6.5" height="6.5" fill="#8d2301"/><rect x="304" y="52" width="6.5" height="6.5" fill="#922a04"/><rect x="310" y="52" width="6.5" height="6.5" fill="#983107"/><rect x="316" y="52" width="6.5" height="6.5" fill="#9e380a"/><rect x="322" y="52" width="6.5" height="6.5" fill="#a43f0d"/><rect x="10" y="58" width="6.5" height="6.5" fill="#8c522e"/><rect x="16" y="58" width="6.5" height="6.5" fill="#8e532f"/><rect x="22" y="58" width="6.5" height="6.5" fill="#905330"/><rect x="28" y="58" width="6.5" height="6.5" fill="#915331"/><rect x="34" y="58" width="6.5" height="6.5" fill="#935431"/><rect x="40" y="58" width="6.5" height="6.5" fill="#955432"/><rect x="46" y="58" width="6.5" height="6.5" fill="#975533"/><rect x="52" y="58" width="6.5" height="6.5" fill="#9a5635"/><rect x="58" y="58" width="6.5" height="6.5" fill="#9d5736"/><rect x="64" y="58" width="6.5" height="6.5" fill="#a15937"/><rect x="70" y="58" width="6.5" height="6.5" fill="#a65b37"/><rect x="76" y="58" width="6.5" height="6.5" fill="#ac5d38"/><rect x="82" y="58" width="6.5" height="6.5" fill="#b26139"/><rect x="88" y="58" width="6.5" height="6.5" fill="#b8643a"/><rect x="94" y="58" width="6.5" height="6.5" fill="#be683b"/><rect x="100" y="58" width="6.5" height="6.5" fill="#c36c3c"/><rect x="106" y="58" width="6.5" height="6.5" fill="#c7713e"/><rect x="112" y="58" width="6.5" height="6.5" fill="#ca7540"/><rect x="118" y="58" width="6.5" height="6.5" fill="#cd7943"/><rect x="124" y="58" width="6.5" height="6.5" fill="#d07d45"/><rect x="130" y="58" width="6.5" height="6.5" fill="#d18048"/><rect x="136" y="58" width="6.5" height="6.5" fill="#d08049"/><rect x="142" y="58" width="6.5" height="6.5" fill="#ce7e4a"/><rect x="148" y="58" width="6.5" height="6.5" fill="#ca7c4a"/><rect x="154" y="58" width="6.5" height="6.5" fill="#c67a4b"/><rect x="160" y="58" width="6.5" height="6.5" fill="#c1774a"/><rect x="166" y="58" width="6.5" height="6.5" fill="#bb7348"/><rect x="172" y="58" width="6.5" height="6.5" fill="#b36d45"/><rect x="178" y="58" width="6.5" height="6.5" fill="#a6633d"/><rect x="184" y="58" width="6.5" height="6.5" fill="#995834"/><rect x="190" y="58" width="6.5" height="6.5" fill="#8d4e2b"/><rect x="196" y="58" width="6.5" height="6.5" fill="#844522"/><rect x="202" y="58" width="6.5" height="6.5" fill="#823f1b"/><rect x="208" y="58" width="6.5" height="6.5" fill="#883c15"/><rect x="214" y="58" width="6.5" height="6.5" fill="#903b11"/><rect x="220" y="58" width="6.5" height="6.5" fill="#993a0d"/><rect x="226" y="58" width="6.5" height="6.5" fill="#9f370a"/><rect x="232" y="58" width="6.5" height="6.5" fill="#9e3007"/><rect x="238" y="58" width="6.5" height="6.5" fill="#982705"/><rect x="244" y="58" width="6.5" height="6.5" fill="#901d03"/><rect x="250" y="58" width="6.5" height="6.5" fill="#861201"/><rect x="256" y="58" width="6.5" height="6.5" fill="#7d0a00"/><rect x="262" y="58" width="6.5" height="6.5" fill="#7a0700"/><rect x="268" y="58" width="6.5" height="6.5" fill="#7a0800"/><rect x="274" y="58" width="6.5" height="6.5" fill="#7b0b00"/><rect x="280" y="58" width="6.5" height="6.5" fill="#7f1000"/><rect x="286" y="58" width="6.5" height="6.5" fill="#831600"/><rect x="292" y="58" width="6.5" height="6.5" fill="#881d00"/><rect x="298" y="58" width="6.5" height="6.5" fill="#8d2402"/><rect x="304" y="58" width="6.5" height="6.5" fill="#932c04"/><rect x="310" y="58" width="6.5" height="6.5" fill="#993308"/><rect x="316" y="58" width="6.5" height="6.5" fill="#a03a0b"/><rect x="322" y="58" width="6.5" height="6.5" fill="#a6410f"/><rect x="10" y="64" width="6.5" height="6.5" fill="#915935"/><rect x="16" y="64" width="6.5" height="6.5" fill="#935936"/><rect x="22" y="64" width="6.5" height="6.5" fill="#955a38"/><rect x="28" y="64" width="6.5" height="6.5" fill="#965b39"/><rect x="34" y="64" width="6.5" height="6.5" fill="#985b3a"/><rect x="40" y="64" width="6.5" height="6.5" fill="#995c3b"/><rect x="46" y="64" width="6.5" height="6.5" fill="#9b5c3c"/><rect x="52" y="64" width="6.5" height="6.5" fill="#9e5d3d"/><rect x="58" y="64" width="6.5" height="6.5" fill="#a15e3e"/><rect x="64" y="64" width="6.5" height="6.5" fill="#a55f3e"/><rect x="70" y="64" width="6.5" height="6.5" fill="#aa603e"/><rect x="76" y="64" width="6.5" height="6.5" fill="#af623d"/><rect x="82" y="64" width="6.5" height="6.5" fill="#b5643d"/><rect x="88" y="64" width="6.5" height="6.5" fill="#ba673d"/><rect x="94" y="64" width="6.5" height="6.5" fill="#bf6a3d"/><rect x="100" y="64" width="6.5" height="6.5" fill="#c36d3e"/><rect x="106" y="64" width="6.5" height="6.5" fill="#c7713f"/><rect x="112" y="64" width="6.5" height="6.5" fill="#ca7440"/><rect x="118" y="64" width="6.5" height="6.5" fill="#cc7842"/><rect x="124" y="64" width="6.5" height="6.5" fill="#cf7b44"/><rect x="130" y="64" width="6.5" height="6.5" fill="#d07d46"/><rect x="136" y="64" width="6.5" height="6.5" fill="#cf7d47"/><rect x="142" y="64" width="6.5" height="6.5" fill="#cc7b47"/><rect x="148" y="64" width="6.5" height="6.5" fill="#c87847"/><rect x="154" y="64" width="6.5" height="6.5" fill="#c37547"/><rect x="160" y="64" width="6.5" height="6.5" fill="#be7246"/><rect x="166" y="64" width="6.5" height="6.5" fill="#b76d44"/><rect x="172" y="64" width="6.5" height="6.5" fill="#ae673f"/><rect x="178" y="64" width="6.5" height="6.5" fill="#a35e39"/><rect x="184" y="64" width="6.5" height="6.5" fill="#975430"/><rect x="190" y="64" width="6.5" height="6.5" fill="#8d4a27"/><rect x="196" y="64" width="6.5" height="6.5" fill="#86431f"/><rect x="202" y="64" width="6.5" height="6.5" fill="#863d18"/><rect x="208" y="64" width="6.5" height="6.5" fill="#8a3a13"/><rect x="214" y="64" width="6.5" height="6.5" fill="#92390e"/><rect x="220" y="64" width="6.5" height="6.5" fill="#9a370b"/><rect x="226" y="64" width="6.5" height="6.5" fill="#9e3308"/><rect x="232" y="64" width="6.5" height="6.5" fill="#9d2d05"/><rect x="238" y="64" width="6.5" height="6.5" fill="#982403"/><rect x="244" y="64" width="6.5" height="6.5" fill="#8f1a01"/><rect x="250" y="64" width="6.5" height="6.5" fill="#861100"/><rect x="256" y="64" width="6.5" height="6.5" fill="#7e0a00"/><rect x="262" y="64" width="6.5" height="6.5" fill="#7a0700"/><rect x="268" y="64" width="6.5" height="6.5" fill="#7a0700"/><rect x="274" y="64" width="6.5" height="6.5" fill="#7c0b00"/><rect x="280" y="64" width="6.5" height="6.5" fill="#7f1000"/><rect x="286" y="64" width="6.5" height="6.5" fill="#831700"/><rect x="292" y="64" width="6.5" height="6.5" fill="#891e00"/><rect x="298" y="64" width="6.5" height="6.5" fill="#8f2603"/><rect x="304" y="64" width="6.5" height="6.5" fill="#952e05"/><rect x="310" y="64" width="6.5" height="6.5" fill="#9c3609"/><rect x="316" y="64" width="6.5" height="6.5" fill="#a33d0d"/><rect x="322" y="64" width="6.5" height="6.5" fill="#a94511"/><rect x="10" y="70" width="6.5" height="6.5" fill="#965f3b"/><rect x="16" y="70" width="6.5" height="6.5" fill="#97603d"/><rect x="22" y="70" width="6.5" height="6.5" fill="#99613e"/><rect x="28" y="70" width="6.5" height="6.5" fill="#9a6140"/><rect x="34" y="70" width="6.5" height="6.5" fill="#9b6241"/><rect x="40" y="70" width="6.5" height="6.5" fill="#9d6242"/><rect x="46" y="70" width="6.5" height="6.5" fill="#9e6343"/><rect x="52" y="70" width="6.5" height="6.5" fill="#a06344"/><rect x="58" y="70" width="6.5" height="6.5" fill="#a36344"/><rect x="64" y="70" width="6.5" height="6.5" fill="#a76444"/><rect x="70" y="70" width="6.5" height="6.5" fill="#ac6443"/><rect x="76" y="70" width="6.5" height="6.5" fill="#b06541"/><rect x="82" y="70" width="6.5" height="6.5" fill="#b56740"/><rect x="88" y="70" width="6.5" height="6.5" fill="#ba683f"/><rect x="94" y="70" width="6.5" height="6.5" fill="#be6a3e"/><rect x="100" y="70" width="6.5" height="6.5" fill="#c26d3e"/><rect x="106" y="70" width="6.5" height="6.5" fill="#c56f3e"/><rect x="112" y="70" width="6.5" height="6.5" fill="#c7713e"/><rect x="118" y="70" width="6.5" height="6.5" fill="#c9743f"/><rect x="124" y="70" width="6.5" height="6.5" fill="#ca7641"/><rect x="130" y="70" width="6.5" height="6.5" fill="#cb7742"/><rect x="136" y="70" width="6.5" height="6.5" fill="#ca7743"/><rect x="142" y="70" width="6.5" height="6.5" fill="#c77543"/><rect x="148" y="70" width="6.5" height="6.5" fill="#c37243"/><rect x="154" y="70" width="6.5" height="6.5" fill="#be6e42"/><rect x="160" y="70" width="6.5" height="6.5" fill="#b86a40"/><rect x="166" y="70" width="6.5" height="6.5" fill="#b0653d"/><rect x="172" y="70" width="6.5" height="6.5" fill="#a85e39"/><rect x="178" y="70" width="6.5" height="6.5" fill="#9e5632"/><rect x="184" y="70" width="6.5" height="6.5" fill="#944e2b"/><rect x="190" y="70" width="6.5" height="6.5" fill="#8c4623"/><rect x="196" y="70" width="6.5" height="6.5" fill="#883f1c"/><rect x="202" y="70" width="6.5" height="6.5" fill="#893b15"/><rect x="208" y="70" width="6.5" height="6.5" fill="#8d3910"/><rect x="214" y="70" width="6.5" height="6.5" fill="#94370c"/><rect x="220" y="70" width="6.5" height="6.5" fill="#9a3509"/><rect x="226" y="70" width="6.5" height="6.5" fill="#9e3106"/><rect x="232" y="70" width="6.5" height="6.5" fill="#9d2b04"/><rect x="238" y="70" width="6.5" height="6.5" fill="#982302"/><rect x="244" y="70" width="6.5" height="6.5" fill="#911a01"/><rect x="250" y="70" width="6.5" height="6.5" fill="#881200"/><rect x="256" y="70" width="6.5" height="6.5" fill="#810b00"/><rect x="262" y="70" width="6.5" height="6.5" fill="#7d0800"/><rect x="268" y="70" width="6.5" height="6.5" fill="#7c0900"/><rect x="274" y="70" width="6.5" height="6.5" fill="#7e0d00"/><rect x="280" y="70" width="6.5" height="6.5" fill="#811200"/><rect x="286" y="70" width="6.5" height="6.5" fill="#861900"/><rect x="292" y="70" width="6.5" height="6.5" fill="#8b2101"/><rect x="298" y="70" width="6.5" height="6.5" fill="#912904"/><rect x="304" y="70" width="6.5" height="6.5" fill="#983107"/><rect x="310" y="70" width="6.5" height="6.5" fill="#9f390b"/><rect x="316" y="70" width="6.5" height="6.5" fill="#a6410f"/><rect x="322" y="70" width="6.5" height="6.5" fill="#ad4913"/><rect x="10" y="76" width="6.5" height="6.5" fill="#996440"/><rect x="16" y="76" width="6.5" height="6.5" fill="#9b6542"/><rect x="22" y="76" width="6.5" height="6.5" fill="#9c6744"/><rect x="28" y="76" width="6.5" height="6.5" fill="#9e6746"/><rect x="34" y="76" width="6.5" height="6.5" fill="#9f6847"/><rect x="40" y="76" width="6.5" height="6.5" fill="#a06848"/><rect x="46" y="76" width="6.5" height="6.5" fill="#a16849"/><rect x="52" y="76" width="6.5" height="6.5" fill="#a2684a"/><rect x="58" y="76" width="6.5" height="6.5" fill="#a5684a"/><rect x="64" y="76" width="6.5" height="6.5" fill="#a86848"/><rect x="70" y="76" width="6.5" height="6.5" fill="#ac6746"/><rect x="76" y="76" width="6.5" height="6.5" fill="#b16844"/><rect x="82" y="76" width="6.5" height="6.5" fill="#b56842"/><rect x="88" y="76" width="6.5" height="6.5" fill="#b96940"/><rect x="94" y="76" width="6.5" height="6.5" fill="#bd6a3f"/><rect x="100" y="76" width="6.5" height="6.5" fill="#c06b3d"/><rect x="106" y="76" width="6.5" height="6.5" fill="#c26c3c"/><rect x="112" y="76" width="6.5" height="6.5" fill="#c36d3c"/><rect x="118" y="76" width="6.5" height="6.5" fill="#c46f3c"/><rect x="124" y="76" width="6.5" height="6.5" fill="#c5703d"/><rect x="130" y="76" width="6.5" height="6.5" fill="#c5703e"/><rect x="136" y="76" width="6.5" height="6.5" fill="#c36f3e"/><rect x="142" y="76" width="6.5" height="6.5" fill="#c06c3d"/><rect x="148" y="76" width="6.5" height="6.5" fill="#bc693d"/><rect x="154" y="76" width="6.5" height="6.5" fill="#b6653b"/><rect x="160" y="76" width="6.5" height="6.5" fill="#b06139"/><rect x="166" y="76" width="6.5" height="6.5" fill="#a85b36"/><rect x="172" y="76" width="6.5" height="6.5" fill="#a05531"/><rect x="178" y="76" width="6.5" height="6.5" fill="#974e2b"/><rect x="184" y="76" width="6.5" height="6.5" fill="#904724"/><rect x="190" y="76" width="6.5" height="6.5" fill="#8a401e"/><rect x="196" y="76" width="6.5" height="6.5" fill="#883b17"/><rect x="202" y="76" width="6.5" height="6.5" fill="#8b3812"/><rect x="208" y="76" width="6.5" height="6.5" fill="#90370e"/><rect x="214" y="76" width="6.5" height="6.5" fill="#96350a"/><rect x="220" y="76" width="6.5" height="6.5" fill="#9c3307"/><rect x="226" y="76" width="6.5" height="6.5" fill="#9f3005"/><rect x="232" y="76" width="6.5" height="6.5" fill="#9f2a03"/><rect x="238" y="76" width="6.5" height="6.5" fill="#9a2302"/><rect x="244" y="76" width="6.5" height="6.5" fill="#931b00"/><rect x="250" y="76" width="6.5" height="6.5" fill="#8b1400"/><rect x="256" y="76" width="6.5" height="6.5" fill="#850e00"/><rect x="262" y="76" width="6.5" height="6.5" fill="#810b00"/><rect x="268" y="76" width="6.5" height="6.5" fill="#800c00"/><rect x="274" y="76" width="6.5" height="6.5" fill="#810f00"/><rect x="280" y="76" width="6.5" height="6.5" fill="#851500"/><rect x="286" y="76" width="6.5" height="6.5" fill="#8a1c00"/><rect x="292" y="76" width="6.5" height="6.5" fill="#8f2502"/><rect x="298" y="76" width="6.5" height="6.5" fill="#962d05"/><rect x="304" y="76" width="6.5" height="6.5" fill="#9d3508"/><rect x="310" y="76" width="6.5" height="6.5" fill="#a43d0d"/><rect x="316" y="76" width="6.5" height="6.5" fill="#ab4511"/><rect x="322" y="76" width="6.5" height="6.5" fill="#b24d16"/><rect x="10" y="82" width="6.5" height="6.5" fill="#9d6844"/><rect x="16" y="82" width="6.5" height="6.5" fill="#9e6a47"/><rect x="22" y="82" width="6.5" height="6.5" fill="#a06b49"/><rect x="28" y="82" width="6.5" height="6.5" fill="#a16c4b"/><rect x="34" y="82" width="6.5" height="6.5" fill="#a16d4c"/><rect x="40" y="82" width="6.5" height="6.5" fill="#a26c4d"/><rect x="46" y="82" width="6.5" height="6.5" fill="#a36c4d"/><rect x="52" y="82" width="6.5" height="6.5" fill="#a46b4d"/><rect x="58" y="82" width="6.5" height="6.5" fill="#a66b4c"/><rect x="64" y="82" width="6.5" height="6.5" fill="#a96a4a"/><rect x="70" y="82" width="6.5" height="6.5" fill="#ac6948"/><rect x="76" y="82" width="6.5" height="6.5" fill="#b06945"/><rect x="82" y="82" width="6.5" height="6.5" fill="#b46842"/><rect x="88" y="82" width="6.5" height="6.5" fill="#b86840"/><rect x="94" y="82" width="6.5" height="6.5" fill="#bb693e"/><rect x="100" y="82" width="6.5" height="6.5" fill="#bd693c"/><rect x="106" y="82" width="6.5" height="6.5" fill="#be6a3a"/><rect x="112" y="82" width="6.5" height="6.5" fill="#bf6a39"/><rect x="118" y="82" width="6.5" height="6.5" fill="#bf6a39"/><rect x="124" y="82" width="6.5" height="6.5" fill="#bf6a39"/><rect x="130" y="82" width="6.5" height="6.5" fill="#be6939"/><rect x="136" y="82" width="6.5" height="6.5" fill="#bc6739"/><rect x="142" y="82" width="6.5" height="6.5" fill="#b96438"/><rect x="148" y="82" width="6.5" height="6.5" fill="#b46036"/><rect x="154" y="82" width="6.5" height="6.5" fill="#ae5c35"/><rect x="160" y="82" width="6.5" height="6.5" fill="#a85732"/><rect x="166" y="82" width="6.5" height="6.5" fill="#a0522e"/><rect x="172" y="82" width="6.5" height="6.5" fill="#984c2a"/><rect x="178" y="82" width="6.5" height="6.5" fill="#904524"/><rect x="184" y="82" width="6.5" height="6.5" fill="#8a3f1e"/><rect x="190" y="82" width="6.5" height="6.5" fill="#873a18"/><rect x="196" y="82" width="6.5" height="6.5" fill="#873713"/><rect x="202" y="82" width="6.5" height="6.5" fill="#8b350f"/><rect x="208" y="82" width="6.5" height="6.5" fill="#92350b"/><rect x="214" y="82" width="6.5" height="6.5" fill="#993409"/><rect x="220" y="82" width="6.5" height="6.5" fill="#9f3306"/><rect x="226" y="82" width="6.5" height="6.5" fill="#a33005"/><rect x="232" y="82" width="6.5" height="6.5" fill="#a22c03"/><rect x="238" y="82" width="6.5" height="6.5" fill="#9e2502"/><rect x="244" y="82" width="6.5" height="6.5" fill="#971e00"/><rect x="250" y="82" width="6.5" height="6.5" fill="#8f1700"/><rect x="256" y="82" width="6.5" height="6.5" fill="#891200"/><rect x="262" y="82" width="6.5" height="6.5" fill="#850f00"/><rect x="268" y="82" width="6.5" height="6.5" fill="#851000"/><rect x="274" y="82" width="6.5" height="6.5" fill="#861300"/><rect x="280" y="82" width="6.5" height="6.5" fill="#8a1900"/><rect x="286" y="82" width="6.5" height="6.5" fill="#8f2001"/><rect x="292" y="82" width="6.5" height="6.5" fill="#952903"/><rect x="298" y="82" width="6.5" height="6.5" fill="#9c3107"/><rect x="304" y="82" width="6.5" height="6.5" fill="#a33a0b"/><rect x="310" y="82" width="6.5" height="6.5" fill="#ab420f"/><rect x="316" y="82" width="6.5" height="6.5" fill="#b14a14"/><rect x="322" y="82" width="6.5" height="6.5" fill="#b85219"/><rect x="10" y="88" width="6.5" height="6.5" fill="#9f6c47"/><rect x="16" y="88" width="6.5" height="6.5" fill="#a16e4a"/><rect x="22" y="88" width="6.5" height="6.5" fill="#a26f4c"/><rect x="28" y="88" width="6.5" height="6.5" fill="#a3704e"/><rect x="34" y="88" width="6.5" height="6.5" fill="#a3704f"/><rect x="40" y="88" width="6.5" height="6.5" fill="#a36f4f"/><rect x="46" y="88" width="6.5" height="6.5" fill="#a46e4f"/><rect x="52" y="88" width="6.5" height="6.5" fill="#a56d4e"/><rect x="58" y="88" width="6.5" height="6.5" fill="#a66c4d"/><rect x="64" y="88" width="6.5" height="6.5" fill="#a96b4b"/><rect x="70" y="88" width="6.5" height="6.5" fill="#ac6a48"/><rect x="76" y="88" width="6.5" height="6.5" fill="#af6945"/><rect x="82" y="88" width="6.5" height="6.5" fill="#b36841"/><rect x="88" y="88" width="6.5" height="6.5" fill="#b6683e"/><rect x="94" y="88" width="6.5" height="6.5" fill="#b8673c"/><rect x="100" y="88" width="6.5" height="6.5" fill="#ba673a"/><rect x="106" y="88" width="6.5" height="6.5" fill="#bb6738"/><rect x="112" y="88" width="6.5" height="6.5" fill="#bb6637"/><rect x="118" y="88" width="6.5" height="6.5" fill="#bb6536"/><rect x="124" y="88" width="6.5" height="6.5" fill="#ba6435"/><rect x="130" y="88" width="6.5" height="6.5" fill="#b86235"/><rect x="136" y="88" width="6.5" height="6.5" fill="#b65f34"/><rect x="142" y="88" width="6.5" height="6.5" fill="#b15c32"/><rect x="148" y="88" width="6.5" height="6.5" fill="#ac5830"/><rect x="154" y="88" width="6.5" height="6.5" fill="#a7532e"/><rect x="160" y="88" width="6.5" height="6.5" fill="#a04f2b"/><rect x="166" y="88" width="6.5" height="6.5" fill="#994928"/><rect x="172" y="88" width="6.5" height="6.5" fill="#914323"/><rect x="178" y="88" width="6.5" height="6.5" fill="#8a3d1e"/><rect x="184" y="88" width="6.5" height="6.5" fill="#843718"/><rect x="190" y="88" width="6.5" height="6.5" fill="#833413"/><rect x="196" y="88" width="6.5" height="6.5" fill="#85320f"/><rect x="202" y="88" width="6.5" height="6.5" fill="#8b320c"/><rect x="208" y="88" width="6.5" height="6.5" fill="#933309"/><rect x="214" y="88" width="6.5" height="6.5" fill="#9b3407"/><rect x="220" y="88" width="6.5" height="6.5" fill="#a33406"/><rect x="226" y="88" width="6.5" height="6.5" fill="#a73204"/><rect x="232" y="88" width="6.5" height="6.5" fill="#a72f03"/><rect x="238" y="88" width="6.5" height="6.5" fill="#a32902"/><rect x="244" y="88" width="6.5" height="6.5" fill="#9c2201"/><rect x="250" y="88" width="6.5" height="6.5" fill="#941b00"/><rect x="256" y="88" width="6.5" height="6.5" fill="#8e1600"/><rect x="262" y="88" width="6.5" height="6.5" fill="#8a1400"/><rect x="268" y="88" width="6.5" height="6.5" fill="#8a1400"/><rect x="274" y="88" width="6.5" height="6.5" fill="#8d1800"/><rect x="280" y="88" width="6.5" height="6.5" fill="#911e00"/><rect x="286" y="88" width="6.5" height="6.5" fill="#972502"/><rect x="292" y="88" width="6.5" height="6.5" fill="#9d2d05"/><rect x="298" y="88" width="6.5" height="6.5" fill="#a43609"/><rect x="304" y="88" width="6.5" height="6.5" fill="#ab3e0d"/><rect x="310" y="88" width="6.5" height="6.5" fill="#b24712"/><rect x="316" y="88" width="6.5" height="6.5" fill="#b84f18"/><rect x="322" y="88" width="6.5" height="6.5" fill="#be571d"/><rect x="10" y="94" width="6.5" height="6.5" fill="#a16e49"/><rect x="16" y="94" width="6.5" height="6.5" fill="#a3704b"/><rect x="22" y="94" width="6.5" height="6.5" fill="#a4714e"/><rect x="28" y="94" width="6.5" height="6.5" fill="#a47250"/><rect x="34" y="94" width="6.5" height="6.5" fill="#a47250"/><rect x="40" y="94" width="6.5" height="6.5" fill="#a47150"/><rect x="46" y="94" width="6.5" height="6.5" fill="#a46f4f"/><rect x="52" y="94" width="6.5" height="6.5" fill="#a56e4e"/><rect x="58" y="94" width="6.5" height="6.5" fill="#a66d4c"/><rect x="64" y="94" width="6.5" height="6.5" fill="#a86b49"/><rect x="70" y="94" width="6.5" height="6.5" fill="#aa6a46"/><rect x="76" y="94" width="6.5" height="6.5" fill="#ad6843"/><rect x="82" y="94" width="6.5" height="6.5" fill="#b06740"/><rect x="88" y="94" width="6.5" height="6.5" fill="#b3663c"/><rect x="94" y="94" width="6.5" height="6.5" fill="#b56539"/><rect x="100" y="94" width="6.5" height="6.5" fill="#b76537"/><rect x="106" y="94" width="6.5" height="6.5" fill="#b76435"/><rect x="112" y="94" width="6.5" height="6.5" fill="#b76234"/><rect x="118" y="94" width="6.5" height="6.5" fill="#b66133"/><rect x="124" y="94" width="6.5" height="6.5" fill="#b55f32"/><rect x="130" y="94" width="6.5" height="6.5" fill="#b35c31"/><rect x="136" y="94" width="6.5" height="6.5" fill="#af592f"/><rect x="142" y="94" width="6.5" height="6.5" fill="#ab552d"/><rect x="148" y="94" width="6.5" height="6.5" fill="#a6502b"/><rect x="154" y="94" width="6.5" height="6.5" fill="#a04c29"/><rect x="160" y="94" width="6.5" height="6.5" fill="#994726"/><rect x="166" y="94" width="6.5" height="6.5" fill="#924222"/><rect x="172" y="94" width="6.5" height="6.5" fill="#8b3c1d"/><rect x="178" y="94" width="6.5" height="6.5" fill="#843618"/><rect x="184" y="94" width="6.5" height="6.5" fill="#7f3113"/><rect x="190" y="94" width="6.5" height="6.5" fill="#7f2e0f"/><rect x="196" y="94" width="6.5" height="6.5" fill="#832e0c"/><rect x="202" y="94" width="6.5" height="6.5" fill="#8b3009"/><rect x="208" y="94" width="6.5" height="6.5" fill="#943208"/><rect x="214" y="94" width="6.5" height="6.5" fill="#9e3406"/><rect x="220" y="94" width="6.5" height="6.5" fill="#a63505"/><rect x="226" y="94" width="6.5" height="6.5" fill="#ac3504"/><rect x="232" y="94" width="6.5" height="6.5" fill="#ac3204"/><rect x="238" y="94" width="6.5" height="6.5" fill="#a82d02"/><rect x="244" y="94" width="6.5" height="6.5" fill="#a22701"/><rect x="250" y="94" width="6.5" height="6.5" fill="#9a2000"/><rect x="256" y="94" width="6.5" height="6.5" fill="#931b00"/><rect x="262" y="94" width="6.5" height="6.5" fill="#901900"/><rect x="268" y="94" width="6.5" height="6.5" fill="#911a00"/><rect x="274" y="94" width="6.5" height="6.5" fill="#941d00"/><rect x="280" y="94" width="6.5" height="6.5" fill="#982301"/><rect x="286" y="94" width="6.5" height="6.5" fill="#9e2a04"/><rect x="292" y="94" width="6.5" height="6.5" fill="#a53207"/><rect x="298" y="94" width="6.5" height="6.5" fill="#ad3b0b"/><rect x="304" y="94" width="6.5" height="6.5" fill="#b34411"/><rect x="310" y="94" width="6.5" height="6.5" fill="#ba4d16"/><rect x="316" y="94" width="6.5" height="6.5" fill="#bf551c"/><rect x="322" y="94" width="6.5" height="6.5" fill="#c45d21"/><rect x="10" y="100" width="6.5" height="6.5" fill="#a26e49"/><rect x="16" y="100" width="6.5" height="6.5" fill="#a3704b"/><rect x="22" y="100" width="6.5" height="6.5" fill="#a4714d"/><rect x="28" y="100" width="6.5" height="6.5" fill="#a4724f"/><rect x="34" y="100" width="6.5" height="6.5" fill="#a4714f"/><rect x="40" y="100" width="6.5" height="6.5" fill="#a4704e"/><rect x="46" y="100" width="6.5" height="6.5" fill="#a46f4d"/><rect x="52" y="100" width="6.5" height="6.5" fill="#a46d4c"/><rect x="58" y="100" width="6.5" height="6.5" fill="#a56b49"/><rect x="64" y="100" width="6.5" height="6.5" fill="#a66a47"/><rect x="70" y="100" width="6.5" height="6.5" fill="#a86844"/><rect x="76" y="100" width="6.5" height="6.5" fill="#ab6740"/><rect x="82" y="100" width="6.5" height="6.5" fill="#ae653d"/><rect x="88" y="100" width="6.5" height="6.5" fill="#b06439"/><rect x="94" y="100" width="6.5" height="6.5" fill="#b26336"/><rect x="100" y="100" width="6.5" height="6.5" fill="#b46234"/><rect x="106" y="100" width="6.5" height="6.5" fill="#b46032"/><rect x="112" y="100" width="6.5" height="6.5" fill="#b35e31"/><rect x="118" y="100" width="6.5" height="6.5" fill="#b25c30"/><rect x="124" y="100" width="6.5" height="6.5" fill="#b05a2f"/><rect x="130" y="100" width="6.5" height="6.5" fill="#ad562d"/><rect x="136" y="100" width="6.5" height="6.5" fill="#a9532b"/><rect x="142" y="100" width="6.5" height="6.5" fill="#a54f29"/><rect x="148" y="100" width="6.5" height="6.5" fill="#9f4a27"/><rect x="154" y="100" width="6.5" height="6.5" fill="#9a4624"/><rect x="160" y="100" width="6.5" height="6.5" fill="#934121"/><rect x="166" y="100" width="6.5" height="6.5" fill="#8d3c1d"/><rect x="172" y="100" width="6.5" height="6.5" fill="#863619"/><rect x="178" y="100" width="6.5" height="6.5" fill="#803114"/><rect x="184" y="100" width="6.5" height="6.5" fill="#7d2d0f"/><rect x="190" y="100" width="6.5" height="6.5" fill="#7d2b0c"/><rect x="196" y="100" width="6.5" height="6.5" fill="#832c09"/><rect x="202" y="100" width="6.5" height="6.5" fill="#8b2e08"/><rect x="208" y="100" width="6.5" height="6.5" fill="#943106"/><rect x="214" y="100" width="6.5" height="6.5" fill="#9e3406"/><rect x="220" y="100" width="6.5" height="6.5" fill="#a83605"/><rect x="226" y="100" width="6.5" height="6.5" fill="#af3805"/><rect x="232" y="100" width="6.5" height="6.5" fill="#b03604"/><rect x="238" y="100" width="6.5" height="6.5" fill="#ae3303"/><rect x="244" y="100" width="6.5" height="6.5" fill="#a82e02"/><rect x="250" y="100" width="6.5" height="6.5" fill="#a12801"/><rect x="256" y="100" width="6.5" height="6.5" fill="#9b2200"/><rect x="262" y="100" width="6.5" height="6.5" fill="#982000"/><rect x="268" y="100" width="6.5" height="6.5" fill="#992100"/><rect x="274" y="100" width="6.5" height="6.5" fill="#9c2400"/><rect x="280" y="100" width="6.5" height="6.5" fill="#a02902"/><rect x="286" y="100" width="6.5" height="6.5" fill="#a73005"/><rect x="292" y="100" width="6.5" height="6.5" fill="#ae380a"/><rect x="298" y="100" width="6.5" height="6.5" fill="#b5410f"/><rect x="304" y="100" width="6.5" height="6.5" fill="#bc4a15"/><rect x="310" y="100" width="6.5" height="6.5" fill="#c1531b"/><rect x="316" y="100" width="6.5" height="6.5" fill="#c65c21"/><rect x="322" y="100" width="6.5" height="6.5" fill="#ca6426"/><rect x="10" y="106" width="6.5" height="6.5" fill="#a36d47"/><rect x="16" y="106" width="6.5" height="6.5" fill="#a36f49"/><rect x="22" y="106" width="6.5" height="6.5" fill="#a4704b"/><rect x="28" y="106" width="6.5" height="6.5" fill="#a4704c"/><rect x="34" y="106" width="6.5" height="6.5" fill="#a36f4c"/><rect x="40" y="106" width="6.5" height="6.5" fill="#a36e4b"/><rect x="46" y="106" width="6.5" height="6.5" fill="#a26d4a"/><rect x="52" y="106" width="6.5" height="6.5" fill="#a26b48"/><rect x="58" y="106" width="6.5" height="6.5" fill="#a26946"/><rect x="64" y="106" width="6.5" height="6.5" fill="#a36743"/><rect x="70" y="106" width="6.5" height="6.5" fill="#a56640"/><rect x="76" y="106" width="6.5" height="6.5" fill="#a7643d"/><rect x="82" y="106" width="6.5" height="6.5" fill="#aa633a"/><rect x="88" y="106" width="6.5" height="6.5" fill="#ac6136"/><rect x="94" y="106" width="6.5" height="6.5" fill="#ae6033"/><rect x="100" y="106" width="6.5" height="6.5" fill="#b05e31"/><rect x="106" y="106" width="6.5" height="6.5" fill="#b05d30"/><rect x="112" y="106" width="6.5" height="6.5" fill="#af5b2f"/><rect x="118" y="106" width="6.5" height="6.5" fill="#ad582d"/><rect x="124" y="106" width="6.5" height="6.5" fill="#ab552b"/><rect x="130" y="106" width="6.5" height="6.5" fill="#a7512a"/><rect x="136" y="106" width="6.5" height="6.5" fill="#a34d27"/><rect x="142" y="106" width="6.5" height="6.5" fill="#9f4925"/><rect x="148" y="106" width="6.5" height="6.5" fill="#9a4423"/><rect x="154" y="106" width="6.5" height="6.5" fill="#944020"/><rect x="160" y="106" width="6.5" height="6.5" fill="#8e3c1d"/><rect x="166" y="106" width="6.5" height="6.5" fill="#89371a"/><rect x="172" y="106" width="6.5" height="6.5" fill="#833316"/><rect x="178" y="106" width="6.5" height="6.5" fill="#7f2e12"/><rect x="184" y="106" width="6.5" height="6.5" fill="#7d2b0e"/><rect x="190" y="106" width="6.5" height="6.5" fill="#7e2a0a"/><rect x="196" y="106" width="6.5" height="6.5" fill="#822b08"/><rect x="202" y="106" width="6.5" height="6.5" fill="#8a2d06"/><rect x="208" y="106" width="6.5" height="6.5" fill="#933006"/><rect x="214" y="106" width="6.5" height="6.5" fill="#9e3305"/><rect x="220" y="106" width="6.5" height="6.5" fill="#a73705"/><rect x="226" y="106" width="6.5" height="6.5" fill="#af3905"/><rect x="232" y="106" width="6.5" height="6.5" fill="#b23a05"/><rect x="238" y="106" width="6.5" height="6.5" fill="#b23804"/><rect x="244" y="106" width="6.5" height="6.5" fill="#af3503"/><rect x="250" y="106" width="6.5" height="6.5" fill="#aa3101"/><rect x="256" y="106" width="6.5" height="6.5" fill="#a52c00"/><rect x="262" y="106" width="6.5" height="6.5" fill="#a22900"/><rect x="268" y="106" width="6.5" height="6.5" fill="#a22800"/><rect x="274" y="106" width="6.5" height="6.5" fill="#a42a00"/><rect x="280" y="106" width="6.5" height="6.5" fill="#a82f03"/><rect x="286" y="106" width="6.5" height="6.5" fill="#ae3608"/><rect x="292" y="106" width="6.5" height="6.5" fill="#b53f0d"/><rect x="298" y="106" width="6.5" height="6.5" fill="#bd4813"/><rect x="304" y="106" width="6.5" height="6.5" fill="#c3511a"/><rect x="310" y="106" width="6.5" height="6.5" fill="#c85b21"/><rect x="316" y="106" width="6.5" height="6.5" fill="#cc6327"/><rect x="322" y="106" width="6.5" height="6.5" fill="#d06b2c"/><rect x="10" y="112" width="6.5" height="6.5" fill="#a26c45"/><rect x="16" y="112" width="6.5" height="6.5" fill="#a36c46"/><rect x="22" y="112" width="6.5" height="6.5" fill="#a36d47"/><rect x="28" y="112" width="6.5" height="6.5" fill="#a26c47"/><rect x="34" y="112" width="6.5" height="6.5" fill="#a16c47"/><rect x="40" y="112" width="6.5" height="6.5" fill="#a16b46"/><rect x="46" y="112" width="6.5" height="6.5" fill="#a06945"/><rect x="52" y="112" width="6.5" height="6.5" fill="#9f6844"/><rect x="58" y="112" width="6.5" height="6.5" fill="#9f6642"/><rect x="64" y="112" width="6.5" height="6.5" fill="#a0643f"/><rect x="70" y="112" width="6.5" height="6.5" fill="#a1623c"/><rect x="76" y="112" width="6.5" height="6.5" fill="#a36139"/><rect x="82" y="112" width="6.5" height="6.5" fill="#a65f36"/><rect x="88" y="112" width="6.5" height="6.5" fill="#a85e33"/><rect x="94" y="112" width="6.5" height="6.5" fill="#aa5c31"/><rect x="100" y="112" width="6.5" height="6.5" fill="#ab5b2f"/><rect x="106" y="112" width="6.5" height="6.5" fill="#ab592d"/><rect x="112" y="112" width="6.5" height="6.5" fill="#aa562c"/><rect x="118" y="112" width="6.5" height="6.5" fill="#a8532a"/><rect x="124" y="112" width="6.5" height="6.5" fill="#a55028"/><rect x="130" y="112" width="6.5" height="6.5" fill="#a24c26"/><rect x="136" y="112" width="6.5" height="6.5" fill="#9e4824"/><rect x="142" y="112" width="6.5" height="6.5" fill="#994422"/><rect x="148" y="112" width="6.5" height="6.5" fill="#943f1f"/><rect x="154" y="112" width="6.5" height="6.5" fill="#8f3b1d"/><rect x="160" y="112" width="6.5" height="6.5" fill="#8a371a"/><rect x="166" y="112" width="6.5" height="6.5" fill="#853317"/><rect x="172" y="112" width="6.5" height="6.5" fill="#813014"/><rect x="178" y="112" width="6.5" height="6.5" fill="#7e2d10"/><rect x="184" y="112" width="6.5" height="6.5" fill="#7d2b0d"/><rect x="190" y="112" width="6.5" height="6.5" fill="#7e2a0a"/><rect x="196" y="112" width="6.5" height="6.5" fill="#822a07"/><rect x="202" y="112" width="6.5" height="6.5" fill="#892c06"/><rect x="208" y="112" width="6.5" height="6.5" fill="#912f05"/><rect x="214" y="112" width="6.5" height="6.5" fill="#9b3205"/><rect x="220" y="112" width="6.5" height="6.5" fill="#a53606"/><rect x="226" y="112" width="6.5" height="6.5" fill="#ad3a06"/><rect x="232" y="112" width="6.5" height="6.5" fill="#b33c06"/><rect x="238" y="112" width="6.5" height="6.5" fill="#b63d06"/><rect x="244" y="112" width="6.5" height="6.5" fill="#b63d04"/><rect x="250" y="112" width="6.5" height="6.5" fill="#b33a01"/><rect x="256" y="112" width="6.5" height="6.5" fill="#af3500"/><rect x="262" y="112" width="6.5" height="6.5" fill="#ab3100"/><rect x="268" y="112" width="6.5" height="6.5" fill="#aa2f00"/><rect x="274" y="112" width="6.5" height="6.5" fill="#ab3001"/><rect x="280" y="112" width="6.5" height="6.5" fill="#ae3505"/><rect x="286" y="112" width="6.5" height="6.5" fill="#b43d0b"/><rect x="292" y="112" width="6.5" height="6.5" fill="#bb4612"/><rect x="298" y="112" width="6.5" height="6.5" fill="#c2501a"/><rect x="304" y="112" width="6.5" height="6.5" fill="#c95a21"/><rect x="310" y="112" width="6.5" height="6.5" fill="#cd6328"/><rect x="316" y="112" width="6.5" height="6.5" fill="#d16b2e"/><rect x="322" y="112" width="6.5" height="6.5" fill="#d47233"/><rect x="10" y="118" width="6.5" height="6.5" fill="#a26941"/><rect x="16" y="118" width="6.5" height="6.5" fill="#a26942"/><rect x="22" y="118" width="6.5" height="6.5" fill="#a16942"/><rect x="28" y="118" width="6.5" height="6.5" fill="#a06842"/><rect x="34" y="118" width="6.5" height="6.5" fill="#9f6742"/><rect x="40" y="118" width="6.5" height="6.5" fill="#9e6641"/><rect x="46" y="118" width="6.5" height="6.5" fill="#9d6540"/><rect x="52" y="118" width="6.5" height="6.5" fill="#9c633f"/><rect x="58" y="118" width="6.5" height="6.5" fill="#9c623d"/><rect x="64" y="118" width="6.5" height="6.5" fill="#9c603b"/><rect x="70" y="118" width="6.5" height="6.5" fill="#9d5e38"/><rect x="76" y="118" width="6.5" height="6.5" fill="#9f5c35"/><rect x="82" y="118" width="6.5" height="6.5" fill="#a15b32"/><rect x="88" y="118" width="6.5" height="6.5" fill="#a35930"/><rect x="94" y="118" width="6.5" height="6.5" fill="#a4572e"/><rect x="100" y="118" width="6.5" height="6.5" fill="#a5562c"/><rect x="106" y="118" width="6.5" height="6.5" fill="#a5542b"/><rect x="112" y="118" width="6.5" height="6.5" fill="#a4522a"/><rect x="118" y="118" width="6.5" height="6.5" fill="#a24f28"/><rect x="124" y="118" width="6.5" height="6.5" fill="#9f4b25"/><rect x="130" y="118" width="6.5" height="6.5" fill="#9c4723"/><rect x="136" y="118" width="6.5" height="6.5" fill="#974320"/><rect x="142" y="118" width="6.5" height="6.5" fill="#933e1e"/><rect x="148" y="118" width="6.5" height="6.5" fill="#8e3a1c"/><rect x="154" y="118" width="6.5" height="6.5" fill="#893619"/><rect x="160" y="118" width="6.5" height="6.5" fill="#843317"/><rect x="166" y="118" width="6.5" height="6.5" fill="#813014"/><rect x="172" y="118" width="6.5" height="6.5" fill="#7e2d12"/><rect x="178" y="118" width="6.5" height="6.5" fill="#7d2c0f"/><rect x="184" y="118" width="6.5" height="6.5" fill="#7c2a0c"/><rect x="190" y="118" width="6.5" height="6.5" fill="#7d2909"/><rect x="196" y="118" width="6.5" height="6.5" fill="#802906"/><rect x="202" y="118" width="6.5" height="6.5" fill="#862a05"/><rect x="208" y="118" width="6.5" height="6.5" fill="#8e2d04"/><rect x="214" y="118" width="6.5" height="6.5" fill="#973005"/><rect x="220" y="118" width="6.5" height="6.5" fill="#a13506"/><rect x="226" y="118" width="6.5" height="6.5" fill="#ab3907"/><rect x="232" y="118" width="6.5" height="6.5" fill="#b23d08"/><rect x="238" y="118" width="6.5" height="6.5" fill="#b84007"/><rect x="244" y="118" width="6.5" height="6.5" fill="#bb4205"/><rect x="250" y="118" width="6.5" height="6.5" fill="#ba4102"/><rect x="256" y="118" width="6.5" height="6.5" fill="#b63c00"/><rect x="262" y="118" width="6.5" height="6.5" fill="#b23700"/><rect x="268" y="118" width="6.5" height="6.5" fill="#af3500"/><rect x="274" y="118" width="6.5" height="6.5" fill="#b03501"/><rect x="280" y="118" width="6.5" height="6.5" fill="#b33a06"/><rect x="286" y="118" width="6.5" height="6.5" fill="#b8430e"/><rect x="292" y="118" width="6.5" height="6.5" fill="#bf4e18"/><rect x="298" y="118" width="6.5" height="6.5" fill="#c65a21"/><rect x="304" y="118" width="6.5" height="6.5" fill="#cc6429"/><rect x="310" y="118" width="6.5" height="6.5" fill="#d16c30"/><rect x="316" y="118" width="6.5" height="6.5" fill="#d47335"/><rect x="322" y="118" width="6.5" height="6.5" fill="#d77939"/><rect x="10" y="124" width="6.5" height="6.5" fill="#a1663e"/><rect x="16" y="124" width="6.5" height="6.5" fill="#a0653e"/><rect x="22" y="124" width="6.5" height="6.5" fill="#9f653d"/><rect x="28" y="124" width="6.5" height="6.5" fill="#9e643d"/><rect x="34" y="124" width="6.5" height="6.5" fill="#9d633c"/><rect x="40" y="124" width="6.5" height="6.5" fill="#9b613b"/><rect x="46" y="124" width="6.5" height="6.5" fill="#9a603a"/><rect x="52" y="124" width="6.5" height="6.5" fill="#995f39"/><rect x="58" y="124" width="6.5" height="6.5" fill="#985d37"/><rect x="64" y="124" width="6.5" height="6.5" fill="#985b35"/><rect x="70" y="124" width="6.5" height="6.5" fill="#985933"/><rect x="76" y="124" width="6.5" height="6.5" fill="#9a5730"/><rect x="82" y="124" width="6.5" height="6.5" fill="#9b552e"/><rect x="88" y="124" width="6.5" height="6.5" fill="#9d532c"/><rect x="94" y="124" width="6.5" height="6.5" fill="#9e522a"/><rect x="100" y="124" width="6.5" height="6.5" fill="#9f5029"/><rect x="106" y="124" width="6.5" height="6.5" fill="#9f4f28"/><rect x="112" y="124" width="6.5" height="6.5" fill="#9e4c27"/><rect x="118" y="124" width="6.5" height="6.5" fill="#9c4924"/><rect x="124" y="124" width="6.5" height="6.5" fill="#994521"/><rect x="130" y="124" width="6.5" height="6.5" fill="#95411f"/><rect x="136" y="124" width="6.5" height="6.5" fill="#903d1c"/><rect x="142" y="124" width="6.5" height="6.5" fill="#8c391a"/><rect x="148" y="124" width="6.5" height="6.5" fill="#873418"/><rect x="154" y="124" width="6.5" height="6.5" fill="#823116"/><rect x="160" y="124" width="6.5" height="6.5" fill="#7e2e14"/><rect x="166" y="124" width="6.5" height="6.5" fill="#7b2c12"/><rect x="172" y="124" width="6.5" height="6.5" fill="#7a2a10"/><rect x="178" y="124" width="6.5" height="6.5" fill="#7a290e"/><rect x="184" y="124" width="6.5" height="6.5" fill="#7a290b"/><rect x="190" y="124" width="6.5" height="6.5" fill="#7a2708"/><rect x="196" y="124" width="6.5" height="6.5" fill="#7d2705"/><rect x="202" y="124" width="6.5" height="6.5" fill="#812804"/><rect x="208" y="124" width="6.5" height="6.5" fill="#892a03"/><rect x="214" y="124" width="6.5" height="6.5" fill="#922d04"/><rect x="220" y="124" width="6.5" height="6.5" fill="#9c3105"/><rect x="226" y="124" width="6.5" height="6.5" fill="#a63607"/><rect x="232" y="124" width="6.5" height="6.5" fill="#af3b09"/><rect x="238" y="124" width="6.5" height="6.5" fill="#b73f0a"/><rect x="244" y="124" width="6.5" height="6.5" fill="#bc4407"/><rect x="250" y="124" width="6.5" height="6.5" fill="#bd4403"/><rect x="256" y="124" width="6.5" height="6.5" fill="#b94000"/><rect x="262" y="124" width="6.5" height="6.5" fill="#b53b00"/><rect x="268" y="124" width="6.5" height="6.5" fill="#b23800"/><rect x="274" y="124" width="6.5" height="6.5" fill="#b23801"/><rect x="280" y="124" width="6.5" height="6.5" fill="#b53e08"/><rect x="286" y="124" width="6.5" height="6.5" fill="#ba4912"/><rect x="292" y="124" width="6.5" height="6.5" fill="#c1551d"/><rect x="298" y="124" width="6.5" height="6.5" fill="#c86228"/><rect x="304" y="124" width="6.5" height="6.5" fill="#ce6d31"/><rect x="310" y="124" width="6.5" height="6.5" fill="#d37537"/><rect x="316" y="124" width="6.5" height="6.5" fill="#d67a3b"/><rect x="322" y="124" width="6.5" height="6.5" fill="#d97f3e"/><rect x="10" y="130" width="6.5" height="6.5" fill="#a0633b"/><rect x="16" y="130" width="6.5" height="6.5" fill="#9f623a"/><rect x="22" y="130" width="6.5" height="6.5" fill="#9e6139"/><rect x="28" y="130" width="6.5" height="6.5" fill="#9c5f38"/><rect x="34" y="130" width="6.5" height="6.5" fill="#9a5e37"/><rect x="40" y="130" width="6.5" height="6.5" fill="#985c35"/><rect x="46" y="130" width="6.5" height="6.5" fill="#975b34"/><rect x="52" y="130" width="6.5" height="6.5" fill="#955933"/><rect x="58" y="130" width="6.5" height="6.5" fill="#945832"/><rect x="64" y="130" width="6.5" height="6.5" fill="#945630"/><rect x="70" y="130" width="6.5" height="6.5" fill="#94542d"/><rect x="76" y="130" width="6.5" height="6.5" fill="#94512b"/><rect x="82" y="130" width="6.5" height="6.5" fill="#964f28"/><rect x="88" y="130" width="6.5" height="6.5" fill="#974c26"/><rect x="94" y="130" width="6.5" height="6.5" fill="#984b25"/><rect x="100" y="130" width="6.5" height="6.5" fill="#984a25"/><rect x="106" y="130" width="6.5" height="6.5" fill="#984824"/><rect x="112" y="130" width="6.5" height="6.5" fill="#974622"/><rect x="118" y="130" width="6.5" height="6.5" fill="#954320"/><rect x="124" y="130" width="6.5" height="6.5" fill="#923f1d"/><rect x="130" y="130" width="6.5" height="6.5" fill="#8e3b1a"/><rect x="136" y="130" width="6.5" height="6.5" fill="#893718"/><rect x="142" y="130" width="6.5" height="6.5" fill="#843216"/><rect x="148" y="130" width="6.5" height="6.5" fill="#7f2f14"/><rect x="154" y="130" width="6.5" height="6.5" fill="#7a2b13"/><rect x="160" y="130" width="6.5" height="6.5" fill="#772811"/><rect x="166" y="130" width="6.5" height="6.5" fill="#74270f"/><rect x="172" y="130" width="6.5" height="6.5" fill="#73260e"/><rect x="178" y="130" width="6.5" height="6.5" fill="#74250c"/><rect x="184" y="130" width="6.5" height="6.5" fill="#74250a"/><rect x="190" y="130" width="6.5" height="6.5" fill="#752407"/><rect x="196" y="130" width="6.5" height="6.5" fill="#772304"/><rect x="202" y="130" width="6.5" height="6.5" fill="#7b2402"/><rect x="208" y="130" width="6.5" height="6.5" fill="#822602"/><rect x="214" y="130" width="6.5" height="6.5" fill="#8b2903"/><rect x="220" y="130" width="6.5" height="6.5" fill="#952d04"/><rect x="226" y="130" width="6.5" height="6.5" fill="#a03107"/><rect x="232" y="130" width="6.5" height="6.5" fill="#a93609"/><rect x="238" y="130" width="6.5" height="6.5" fill="#b13b0a"/><rect x="244" y="130" width="6.5" height="6.5" fill="#b73f08"/><rect x="250" y="130" width="6.5" height="6.5" fill="#b94004"/><rect x="256" y="130" width="6.5" height="6.5" fill="#b73e01"/><rect x="262" y="130" width="6.5" height="6.5" fill="#b43b00"/><rect x="268" y="130" width="6.5" height="6.5" fill="#b33900"/><rect x="274" y="130" width="6.5" height="6.5" fill="#b33b03"/><rect x="280" y="130" width="6.5" height="6.5" fill="#b6420a"/><rect x="286" y="130" width="6.5" height="6.5" fill="#bb4d15"/><rect x="292" y="130" width="6.5" height="6.5" fill="#c25b22"/><rect x="298" y="130" width="6.5" height="6.5" fill="#c9692e"/><rect x="304" y="130" width="6.5" height="6.5" fill="#cf7438"/><rect x="310" y="130" width="6.5" height="6.5" fill="#d37a3d"/><rect x="316" y="130" width="6.5" height="6.5" fill="#d67f40"/><rect x="322" y="130" width="6.5" height="6.5" fill="#d98342"/><rect x="10" y="136" width="6.5" height="6.5" fill="#9f6138"/><rect x="16" y="136" width="6.5" height="6.5" fill="#9e6037"/><rect x="22" y="136" width="6.5" height="6.5" fill="#9c5e35"/><rect x="28" y="136" width="6.5" height="6.5" fill="#9a5b33"/><rect x="34" y="136" width="6.5" height="6.5" fill="#975931"/><rect x="40" y="136" width="6.5" height="6.5" fill="#955730"/><rect x="46" y="136" width="6.5" height="6.5" fill="#93562e"/><rect x="52" y="136" width="6.5" height="6.5" fill="#92542d"/><rect x="58" y="136" width="6.5" height="6.5" fill="#91532c"/><rect x="64" y="136" width="6.5" height="6.5" fill="#90502a"/><rect x="70" y="136" width="6.5" height="6.5" fill="#8f4e27"/><rect x="76" y="136" width="6.5" height="6.5" fill="#8f4a25"/><rect x="82" y="136" width="6.5" height="6.5" fill="#8f4722"/><rect x="88" y="136" width="6.5" height="6.5" fill="#904420"/><rect x="94" y="136" width="6.5" height="6.5" fill="#90421e"/><rect x="100" y="136" width="6.5" height="6.5" fill="#90411e"/><rect x="106" y="136" width="6.5" height="6.5" fill="#90401e"/><rect x="112" y="136" width="6.5" height="6.5" fill="#8f3e1c"/><rect x="118" y="136" width="6.5" height="6.5" fill="#8d3b1a"/><rect x="124" y="136" width="6.5" height="6.5" fill="#893817"/><rect x="130" y="136" width="6.5" height="6.5" fill="#853415"/><rect x="136" y="136" width="6.5" height="6.5" fill="#803013"/><rect x="142" y="136" width="6.5" height="6.5" fill="#7b2c12"/><rect x="148" y="136" width="6.5" height="6.5" fill="#752810"/><rect x="154" y="136" width="6.5" height="6.5" fill="#71250f"/><rect x="160" y="136" width="6.5" height="6.5" fill="#6d220e"/><rect x="166" y="136" width="6.5" height="6.5" fill="#6b210c"/><rect x="172" y="136" width="6.5" height="6.5" fill="#6a200b"/><rect x="178" y="136" width="6.5" height="6.5" fill="#6b2009"/><rect x="184" y="136" width="6.5" height="6.5" fill="#6c1f07"/><rect x="190" y="136" width="6.5" height="6.5" fill="#6d1f05"/><rect x="196" y="136" width="6.5" height="6.5" fill="#701f02"/><rect x="202" y="136" width="6.5" height="6.5" fill="#741f00"/><rect x="208" y="136" width="6.5" height="6.5" fill="#7a2100"/><rect x="214" y="136" width="6.5" height="6.5" fill="#832401"/><rect x="220" y="136" width="6.5" height="6.5" fill="#8e2703"/><rect x="226" y="136" width="6.5" height="6.5" fill="#982b05"/><rect x="232" y="136" width="6.5" height="6.5" fill="#a13007"/><rect x="238" y="136" width="6.5" height="6.5" fill="#a93408"/><rect x="244" y="136" width="6.5" height="6.5" fill="#ae3707"/><rect x="250" y="136" width="6.5" height="6.5" fill="#b13904"/><rect x="256" y="136" width="6.5" height="6.5" fill="#b13902"/><rect x="262" y="136" width="6.5" height="6.5" fill="#b13901"/><rect x="268" y="136" width="6.5" height="6.5" fill="#b13902"/><rect x="274" y="136" width="6.5" height="6.5" fill="#b23d06"/><rect x="280" y="136" width="6.5" height="6.5" fill="#b5450d"/><rect x="286" y="136" width="6.5" height="6.5" fill="#ba5018"/><rect x="292" y="136" width="6.5" height="6.5" fill="#c05d24"/><rect x="298" y="136" width="6.5" height="6.5" fill="#c66b30"/><rect x="304" y="136" width="6.5" height="6.5" fill="#cc7539"/><rect x="310" y="136" width="6.5" height="6.5" fill="#d07c3e"/><rect x="316" y="136" width="6.5" height="6.5" fill="#d48042"/><rect x="322" y="136" width="6.5" height="6.5" fill="#d78444"/><rect x="10" y="142" width="6.5" height="6.5" fill="#9e5f36"/><rect x="16" y="142" width="6.5" height="6.5" fill="#9d5d34"/><rect x="22" y="142" width="6.5" height="6.5" fill="#9b5b32"/><rect x="28" y="142" width="6.5" height="6.5" fill="#98582f"/><rect x="34" y="142" width="6.5" height="6.5" fill="#95542c"/><rect x="40" y="142" width="6.5" height="6.5" fill="#92522a"/><rect x="46" y="142" width="6.5" height="6.5" fill="#905129"/><rect x="52" y="142" width="6.5" height="6.5" fill="#8f5028"/><rect x="58" y="142" width="6.5" height="6.5" fill="#8e4e27"/><rect x="64" y="142" width="6.5" height="6.5" fill="#8c4b25"/><rect x="70" y="142" width="6.5" height="6.5" fill="#8b4722"/><rect x="76" y="142" width="6.5" height="6.5" fill="#8a431e"/><rect x="82" y="142" width="6.5" height="6.5" fill="#893f1b"/><rect x="88" y="142" width="6.5" height="6.5" fill="#883b18"/><rect x="94" y="142" width="6.5" height="6.5" fill="#883816"/><rect x="100" y="142" width="6.5" height="6.5" fill="#873715"/><rect x="106" y="142" width="6.5" height="6.5" fill="#863515"/><rect x="112" y="142" width="6.5" height="6.5" fill="#853414"/><rect x="118" y="142" width="6.5" height="6.5" fill="#833213"/><rect x="124" y="142" width="6.5" height="6.5" fill="#803011"/><rect x="130" y="142" width="6.5" height="6.5" fill="#7c2d10"/><rect x="136" y="142" width="6.5" height="6.5" fill="#76290e"/><rect x="142" y="142" width="6.5" height="6.5" fill="#70250d"/><rect x="148" y="142" width="6.5" height="6.5" fill="#6b210d"/><rect x="154" y="142" width="6.5" height="6.5" fill="#661e0c"/><rect x="160" y="142" width="6.5" height="6.5" fill="#621c0b"/><rect x="166" y="142" width="6.5" height="6.5" fill="#601a09"/><rect x="172" y="142" width="6.5" height="6.5" fill="#5f1908"/><rect x="178" y="142" width="6.5" height="6.5" fill="#601907"/><rect x="184" y="142" width="6.5" height="6.5" fill="#621905"/><rect x="190" y="142" width="6.5" height="6.5" fill="#641903"/><rect x="196" y="142" width="6.5" height="6.5" fill="#681901"/><rect x="202" y="142" width="6.5" height="6.5" fill="#6d1a00"/><rect x="208" y="142" width="6.5" height="6.5" fill="#731c00"/><rect x="214" y="142" width="6.5" height="6.5" fill="#7c1e00"/><rect x="220" y="142" width="6.5" height="6.5" fill="#862102"/><rect x="226" y="142" width="6.5" height="6.5" fill="#902403"/><rect x="232" y="142" width="6.5" height="6.5" fill="#982805"/><rect x="238" y="142" width="6.5" height="6.5" fill="#9f2c05"/><rect x="244" y="142" width="6.5" height="6.5" fill="#a42f04"/><rect x="250" y="142" width="6.5" height="6.5" fill="#a73103"/><rect x="256" y="142" width="6.5" height="6.5" fill="#a93201"/><rect x="262" y="142" width="6.5" height="6.5" fill="#ab3401"/><rect x="268" y="142" width="6.5" height="6.5" fill="#ad3803"/><rect x="274" y="142" width="6.5" height="6.5" fill="#b03e08"/><rect x="280" y="142" width="6.5" height="6.5" fill="#b3460f"/><rect x="286" y="142" width="6.5" height="6.5" fill="#b85019"/><rect x="292" y="142" width="6.5" height="6.5" fill="#bc5d23"/><rect x="298" y="142" width="6.5" height="6.5" fill="#c2682e"/><rect x="304" y="142" width="6.5" height="6.5" fill="#c77237"/><rect x="310" y="142" width="6.5" height="6.5" fill="#cc7a3d"/><rect x="316" y="142" width="6.5" height="6.5" fill="#d07f41"/><rect x="322" y="142" width="6.5" height="6.5" fill="#d48343"/><rect x="10" y="148" width="6.5" height="6.5" fill="#9c5d33"/><rect x="16" y="148" width="6.5" height="6.5" fill="#9b5b32"/><rect x="22" y="148" width="6.5" height="6.5" fill="#995930"/><rect x="28" y="148" width="6.5" height="6.5" fill="#96552d"/><rect x="34" y="148" width="6.5" height="6.5" fill="#925129"/><rect x="40" y="148" width="6.5" height="6.5" fill="#8f4e26"/><rect x="46" y="148" width="6.5" height="6.5" fill="#8d4d25"/><rect x="52" y="148" width="6.5" height="6.5" fill="#8c4b24"/><rect x="58" y="148" width="6.5" height="6.5" fill="#8a4922"/><rect x="64" y="148" width="6.5" height="6.5" fill="#884620"/><rect x="70" y="148" width="6.5" height="6.5" fill="#86411c"/><rect x="76" y="148" width="6.5" height="6.5" fill="#843c18"/><rect x="82" y="148" width="6.5" height="6.5" fill="#823714"/><rect x="88" y="148" width="6.5" height="6.5" fill="#803211"/><rect x="94" y="148" width="6.5" height="6.5" fill="#7e2e0e"/><rect x="100" y="148" width="6.5" height="6.5" fill="#7d2c0c"/><rect x="106" y="148" width="6.5" height="6.5" fill="#7b2a0c"/><rect x="112" y="148" width="6.5" height="6.5" fill="#7a2a0c"/><rect x="118" y="148" width="6.5" height="6.5" fill="#78290c"/><rect x="124" y="148" width="6.5" height="6.5" fill="#75270b"/><rect x="130" y="148" width="6.5" height="6.5" fill="#71250a"/><rect x="136" y="148" width="6.5" height="6.5" fill="#6b210a"/><rect x="142" y="148" width="6.5" height="6.5" fill="#651e09"/><rect x="148" y="148" width="6.5" height="6.5" fill="#5f1a09"/><rect x="154" y="148" width="6.5" height="6.5" fill="#5a1708"/><rect x="160" y="148" width="6.5" height="6.5" fill="#561507"/><rect x="166" y="148" width="6.5" height="6.5" fill="#541306"/><rect x="172" y="148" width="6.5" height="6.5" fill="#541205"/><rect x="178" y="148" width="6.5" height="6.5" fill="#551204"/><rect x="184" y="148" width="6.5" height="6.5" fill="#581303"/><rect x="190" y="148" width="6.5" height="6.5" fill="#5c1401"/><rect x="196" y="148" width="6.5" height="6.5" fill="#601400"/><rect x="202" y="148" width="6.5" height="6.5" fill="#661500"/><rect x="208" y="148" width="6.5" height="6.5" fill="#6d1700"/><rect x="214" y="148" width="6.5" height="6.5" fill="#761900"/><rect x="220" y="148" width="6.5" height="6.5" fill="#7f1b00"/><rect x="226" y="148" width="6.5" height="6.5" fill="#881e02"/><rect x="232" y="148" width="6.5" height="6.5" fill="#902103"/><rect x="238" y="148" width="6.5" height="6.5" fill="#962403"/><rect x="244" y="148" width="6.5" height="6.5" fill="#9a2602"/><rect x="250" y="148" width="6.5" height="6.5" fill="#9e2901"/><rect x="256" y="148" width="6.5" height="6.5" fill="#a12b01"/><rect x="262" y="148" width="6.5" height="6.5" fill="#a42f01"/><rect x="268" y="148" width="6.5" height="6.5" fill="#a93504"/><rect x="274" y="148" width="6.5" height="6.5" fill="#ad3c08"/><rect x="280" y="148" width="6.5" height="6.5" fill="#b1450f"/><rect x="286" y="148" width="6.5" height="6.5" fill="#b44f18"/><rect x="292" y="148" width="6.5" height="6.5" fill="#b85921"/><rect x="298" y="148" width="6.5" height="6.5" fill="#bc642b"/><rect x="304" y="148" width="6.5" height="6.5" fill="#c16d33"/><rect x="310" y="148" width="6.5" height="6.5" fill="#c77539"/><rect x="316" y="148" width="6.5" height="6.5" fill="#cc7b3e"/><rect x="322" y="148" width="6.5" height="6.5" fill="#d18041"/><rect x="10" y="154" width="6.5" height="6.5" fill="#995a31"/><rect x="16" y="154" width="6.5" height="6.5" fill="#995830"/><rect x="22" y="154" width="6.5" height="6.5" fill="#97562e"/><rect x="28" y="154" width="6.5" height="6.5" fill="#94522a"/><rect x="34" y="154" width="6.5" height="6.5" fill="#8f4e26"/><rect x="40" y="154" width="6.5" height="6.5" fill="#8c4b23"/><rect x="46" y="154" width="6.5" height="6.5" fill="#8a4922"/><rect x="52" y="154" width="6.5" height="6.5" fill="#894821"/><rect x="58" y="154" width="6.5" height="6.5" fill="#87451f"/><rect x="64" y="154" width="6.5" height="6.5" fill="#84411c"/><rect x="70" y="154" width="6.5" height="6.5" fill="#813c18"/><rect x="76" y="154" width="6.5" height="6.5" fill="#7d3513"/><rect x="82" y="154" width="6.5" height="6.5" fill="#7a2f0e"/><rect x="88" y="154" width="6.5" height="6.5" fill="#77290a"/><rect x="94" y="154" width="6.5" height="6.5" fill="#742406"/><rect x="100" y="154" width="6.5" height="6.5" fill="#722104"/><rect x="106" y="154" width="6.5" height="6.5" fill="#702005"/><rect x="112" y="154" width="6.5" height="6.5" fill="#6e2005"/><rect x="118" y="154" width="6.5" height="6.5" fill="#6c1f06"/><rect x="124" y="154" width="6.5" height="6.5" fill="#691e06"/><rect x="130" y="154" width="6.5" height="6.5" fill="#651c06"/><rect x="136" y="154" width="6.5" height="6.5" fill="#5f1906"/><rect x="142" y="154" width="6.5" height="6.5" fill="#591606"/><rect x="148" y="154" width="6.5" height="6.5" fill="#531306"/><rect x="154" y="154" width="6.5" height="6.5" fill="#4e1005"/><rect x="160" y="154" width="6.5" height="6.5" fill="#4a0d05"/><rect x="166" y="154" width="6.5" height="6.5" fill="#480c04"/><rect x="172" y="154" width="6.5" height="6.5" fill="#480c03"/><rect x="178" y="154" width="6.5" height="6.5" fill="#4b0c02"/><rect x="184" y="154" width="6.5" height="6.5" fill="#4e0d01"/><rect x="190" y="154" width="6.5" height="6.5" fill="#530e00"/><rect x="196" y="154" width="6.5" height="6.5" fill="#590f00"/><rect x="202" y="154" width="6.5" height="6.5" fill="#601100"/><rect x="208" y="154" width="6.5" height="6.5" fill="#681200"/><rect x="214" y="154" width="6.5" height="6.5" fill="#701400"/><rect x="220" y="154" width="6.5" height="6.5" fill="#791600"/><rect x="226" y="154" width="6.5" height="6.5" fill="#811800"/><rect x="232" y="154" width="6.5" height="6.5" fill="#881a01"/><rect x="238" y="154" width="6.5" height="6.5" fill="#8d1d01"/><rect x="244" y="154" width="6.5" height="6.5" fill="#911f00"/><rect x="250" y="154" width="6.5" height="6.5" fill="#952100"/><rect x="256" y="154" width="6.5" height="6.5" fill="#982500"/><rect x="262" y="154" width="6.5" height="6.5" fill="#9e2a01"/><rect x="268" y="154" width="6.5" height="6.5" fill="#a53204"/><rect x="274" y="154" width="6.5" height="6.5" fill="#ab3a08"/><rect x="280" y="154" width="6.5" height="6.5" fill="#ae430e"/><rect x="286" y="154" width="6.5" height="6.5" fill="#b14c16"/><rect x="292" y="154" width="6.5" height="6.5" fill="#b3551e"/><rect x="298" y="154" width="6.5" height="6.5" fill="#b75e26"/><rect x="304" y="154" width="6.5" height="6.5" fill="#bc672e"/><rect x="310" y="154" width="6.5" height="6.5" fill="#c26f34"/><rect x="316" y="154" width="6.5" height="6.5" fill="#c87539"/><rect x="322" y="154" width="6.5" height="6.5" fill="#cd7b3e"/><rect x="10" y="160" width="6.5" height="6.5" fill="#94552d"/><rect x="16" y="160" width="6.5" height="6.5" fill="#94542c"/><rect x="22" y="160" width="6.5" height="6.5" fill="#93522a"/><rect x="28" y="160" width="6.5" height="6.5" fill="#8f4e27"/><rect x="34" y="160" width="6.5" height="6.5" fill="#8b4a23"/><rect x="40" y="160" width="6.5" height="6.5" fill="#894721"/><rect x="46" y="160" width="6.5" height="6.5" fill="#87451f"/><rect x="52" y="160" width="6.5" height="6.5" fill="#85441e"/><rect x="58" y="160" width="6.5" height="6.5" fill="#83411c"/><rect x="64" y="160" width="6.5" height="6.5" fill="#7f3c18"/><rect x="70" y="160" width="6.5" height="6.5" fill="#7a3614"/><rect x="76" y="160" width="6.5" height="6.5" fill="#762f0f"/><rect x="82" y="160" width="6.5" height="6.5" fill="#71280a"/><rect x="88" y="160" width="6.5" height="6.5" fill="#6d2105"/><rect x="94" y="160" width="6.5" height="6.5" fill="#6a1c01"/><rect x="100" y="160" width="6.5" height="6.5" fill="#671900"/><rect x="106" y="160" width="6.5" height="6.5" fill="#641800"/><rect x="112" y="160" width="6.5" height="6.5" fill="#621701"/><rect x="118" y="160" width="6.5" height="6.5" fill="#5f1702"/><rect x="124" y="160" width="6.5" height="6.5" fill="#5c1602"/><rect x="130" y="160" width="6.5" height="6.5" fill="#581403"/><rect x="136" y="160" width="6.5" height="6.5" fill="#531203"/><rect x="142" y="160" width="6.5" height="6.5" fill="#4e0f03"/><rect x="148" y="160" width="6.5" height="6.5" fill="#480c03"/><rect x="154" y="160" width="6.5" height="6.5" fill="#430903"/><rect x="160" y="160" width="6.5" height="6.5" fill="#3f0702"/><rect x="166" y="160" width="6.5" height="6.5" fill="#3d0501"/><rect x="172" y="160" width="6.5" height="6.5" fill="#3e0501"/><rect x="178" y="160" width="6.5" height="6.5" fill="#410700"/><rect x="184" y="160" width="6.5" height="6.5" fill="#460800"/><rect x="190" y="160" width="6.5" height="6.5" fill="#4c0a00"/><rect x="196" y="160" width="6.5" height="6.5" fill="#530c00"/><rect x="202" y="160" width="6.5" height="6.5" fill="#5b0d00"/><rect x="208" y="160" width="6.5" height="6.5" fill="#630f00"/><rect x="214" y="160" width="6.5" height="6.5" fill="#6c1000"/><rect x="220" y="160" width="6.5" height="6.5" fill="#741200"/><rect x="226" y="160" width="6.5" height="6.5" fill="#7c1300"/><rect x="232" y="160" width="6.5" height="6.5" fill="#821500"/><rect x="238" y="160" width="6.5" height="6.5" fill="#871700"/><rect x="244" y="160" width="6.5" height="6.5" fill="#8a1900"/><rect x="250" y="160" width="6.5" height="6.5" fill="#8e1c00"/><rect x="256" y="160" width="6.5" height="6.5" fill="#922000"/><rect x="262" y="160" width="6.5" height="6.5" fill="#9a2600"/><rect x="268" y="160" width="6.5" height="6.5" fill="#a22f03"/><rect x="274" y="160" width="6.5" height="6.5" fill="#a93807"/><rect x="280" y="160" width="6.5" height="6.5" fill="#ac400d"/><rect x="286" y="160" width="6.5" height="6.5" fill="#ae4813"/><rect x="292" y="160" width="6.5" height="6.5" fill="#b0501a"/><rect x="298" y="160" width="6.5" height="6.5" fill="#b35821"/><rect x="304" y="160" width="6.5" height="6.5" fill="#b86028"/><rect x="310" y="160" width="6.5" height="6.5" fill="#be682f"/><rect x="316" y="160" width="6.5" height="6.5" fill="#c46f35"/><rect x="322" y="160" width="6.5" height="6.5" fill="#ca7639"/><rect x="10" y="166" width="6.5" height="6.5" fill="#8e5028"/><rect x="16" y="166" width="6.5" height="6.5" fill="#8d4e27"/><rect x="22" y="166" width="6.5" height="6.5" fill="#8b4b25"/><rect x="28" y="166" width="6.5" height="6.5" fill="#884822"/><rect x="34" y="166" width="6.5" height="6.5" fill="#85441f"/><rect x="40" y="166" width="6.5" height="6.5" fill="#83421d"/><rect x="46" y="166" width="6.5" height="6.5" fill="#81401c"/><rect x="52" y="166" width="6.5" height="6.5" fill="#7f3f1a"/><rect x="58" y="166" width="6.5" height="6.5" fill="#7d3c19"/><rect x="64" y="166" width="6.5" height="6.5" fill="#783615"/><rect x="70" y="166" width="6.5" height="6.5" fill="#732f10"/><rect x="76" y="166" width="6.5" height="6.5" fill="#6d280b"/><rect x="82" y="166" width="6.5" height="6.5" fill="#682106"/><rect x="88" y="166" width="6.5" height="6.5" fill="#631b02"/><rect x="94" y="166" width="6.5" height="6.5" fill="#5f1600"/><rect x="100" y="166" width="6.5" height="6.5" fill="#5b1200"/><rect x="106" y="166" width="6.5" height="6.5" fill="#581100"/><rect x="112" y="166" width="6.5" height="6.5" fill="#551000"/><rect x="118" y="166" width="6.5" height="6.5" fill="#531000"/><rect x="124" y="166" width="6.5" height="6.5" fill="#500f00"/><rect x="130" y="166" width="6.5" height="6.5" fill="#4c0e01"/><rect x="136" y="166" width="6.5" height="6.5" fill="#480c01"/><rect x="142" y="166" width="6.5" height="6.5" fill="#430901"/><rect x="148" y="166" width="6.5" height="6.5" fill="#3e0701"/><rect x="154" y="166" width="6.5" height="6.5" fill="#390401"/><rect x="160" y="166" width="6.5" height="6.5" fill="#350200"/><rect x="166" y="166" width="6.5" height="6.5" fill="#330000"/><rect x="172" y="166" width="6.5" height="6.5" fill="#350100"/><rect x="178" y="166" width="6.5" height="6.5" fill="#390200"/><rect x="184" y="166" width="6.5" height="6.5" fill="#3f0400"/><rect x="190" y="166" width="6.5" height="6.5" fill="#460700"/><rect x="196" y="166" width="6.5" height="6.5" fill="#4e0900"/><rect x="202" y="166" width="6.5" height="6.5" fill="#560b00"/><rect x="208" y="166" width="6.5" height="6.5" fill="#5f0c00"/><rect x="214" y="166" width="6.5" height="6.5" fill="#680e00"/><rect x="220" y="166" width="6.5" height="6.5" fill="#701000"/><rect x="226" y="166" width="6.5" height="6.5" fill="#771100"/><rect x="232" y="166" width="6.5" height="6.5" fill="#7d1300"/><rect x="238" y="166" width="6.5" height="6.5" fill="#821400"/><rect x="244" y="166" width="6.5" height="6.5" fill="#851600"/><rect x="250" y="166" width="6.5" height="6.5" fill="#891800"/><rect x="256" y="166" width="6.5" height="6.5" fill="#8e1c00"/><rect x="262" y="166" width="6.5" height="6.5" fill="#962300"/><rect x="268" y="166" width="6.5" height="6.5" fill="#9f2c02"/><rect x="274" y="166" width="6.5" height="6.5" fill="#a73506"/><rect x="280" y="166" width="6.5" height="6.5" fill="#aa3c0b"/><rect x="286" y="166" width="6.5" height="6.5" fill="#ac4310"/><rect x="292" y="166" width="6.5" height="6.5" fill="#ae4a16"/><rect x="298" y="166" width="6.5" height="6.5" fill="#b1521d"/><rect x="304" y="166" width="6.5" height="6.5" fill="#b55a23"/><rect x="310" y="166" width="6.5" height="6.5" fill="#bb622a"/><rect x="316" y="166" width="6.5" height="6.5" fill="#c16930"/><rect x="322" y="166" width="6.5" height="6.5" fill="#c77035"/><rect x="10" y="172" width="6.5" height="6.5" fill="#864a23"/><rect x="16" y="172" width="6.5" height="6.5" fill="#844721"/><rect x="22" y="172" width="6.5" height="6.5" fill="#82441f"/><rect x="28" y="172" width="6.5" height="6.5" fill="#7f401c"/><rect x="34" y="172" width="6.5" height="6.5" fill="#7d3d1a"/><rect x="40" y="172" width="6.5" height="6.5" fill="#7b3a18"/><rect x="46" y="172" width="6.5" height="6.5" fill="#793817"/><rect x="52" y="172" width="6.5" height="6.5" fill="#773616"/><rect x="58" y="172" width="6.5" height="6.5" fill="#753414"/><rect x="64" y="172" width="6.5" height="6.5" fill="#702e11"/><rect x="70" y="172" width="6.5" height="6.5" fill="#6a280d"/><rect x="76" y="172" width="6.5" height="6.5" fill="#642209"/><rect x="82" y="172" width="6.5" height="6.5" fill="#5f1b04"/><rect x="88" y="172" width="6.5" height="6.5" fill="#591501"/><rect x="94" y="172" width="6.5" height="6.5" fill="#541100"/><rect x="100" y="172" width="6.5" height="6.5" fill="#500e00"/><rect x="106" y="172" width="6.5" height="6.5" fill="#4d0c00"/><rect x="112" y="172" width="6.5" height="6.5" fill="#4a0b00"/><rect x="118" y="172" width="6.5" height="6.5" fill="#470a00"/><rect x="124" y="172" width="6.5" height="6.5" fill="#440900"/><rect x="130" y="172" width="6.5" height="6.5" fill="#410800"/><rect x="136" y="172" width="6.5" height="6.5" fill="#3d0700"/><rect x="142" y="172" width="6.5" height="6.5" fill="#390500"/><rect x="148" y="172" width="6.5" height="6.5" fill="#350200"/><rect x="154" y="172" width="6.5" height="6.5" fill="#310000"/><rect x="160" y="172" width="6.5" height="6.5" fill="#2e0000"/><rect x="166" y="172" width="6.5" height="6.5" fill="#2d0000"/><rect x="172" y="172" width="6.5" height="6.5" fill="#2f0000"/><rect x="178" y="172" width="6.5" height="6.5" fill="#340000"/><rect x="184" y="172" width="6.5" height="6.5" fill="#3a0200"/><rect x="190" y="172" width="6.5" height="6.5" fill="#410500"/><rect x="196" y="172" width="6.5" height="6.5" fill="#4a0700"/><rect x="202" y="172" width="6.5" height="6.5" fill="#530900"/><rect x="208" y="172" width="6.5" height="6.5" fill="#5c0b00"/><rect x="214" y="172" width="6.5" height="6.5" fill="#650d00"/><rect x="220" y="172" width="6.5" height="6.5" fill="#6d0f00"/><rect x="226" y="172" width="6.5" height="6.5" fill="#741000"/><rect x="232" y="172" width="6.5" height="6.5" fill="#7a1200"/><rect x="238" y="172" width="6.5" height="6.5" fill="#7e1300"/><rect x="244" y="172" width="6.5" height="6.5" fill="#821400"/><rect x="250" y="172" width="6.5" height="6.5" fill="#851600"/><rect x="256" y="172" width="6.5" height="6.5" fill="#891900"/><rect x="262" y="172" width="6.5" height="6.5" fill="#912000"/><rect x="268" y="172" width="6.5" height="6.5" fill="#9a2802"/><rect x="274" y="172" width="6.5" height="6.5" fill="#a13005"/><rect x="280" y="172" width="6.5" height="6.5" fill="#a63809"/><rect x="286" y="172" width="6.5" height="6.5" fill="#a93e0d"/><rect x="292" y="172" width="6.5" height="6.5" fill="#ab4513"/><rect x="298" y="172" width="6.5" height="6.5" fill="#af4c18"/><rect x="304" y="172" width="6.5" height="6.5" fill="#b3541f"/><rect x="310" y="172" width="6.5" height="6.5" fill="#b95b25"/><rect x="316" y="172" width="6.5" height="6.5" fill="#bf632b"/><rect x="322" y="172" width="6.5" height="6.5" fill="#c56b31"/><rect x="10" y="178" width="6.5" height="6.5" fill="#7e431e"/><rect x="16" y="178" width="6.5" height="6.5" fill="#7c3f1b"/><rect x="22" y="178" width="6.5" height="6.5" fill="#793c19"/><rect x="28" y="178" width="6.5" height="6.5" fill="#763816"/><rect x="34" y="178" width="6.5" height="6.5" fill="#733414"/><rect x="40" y="178" width="6.5" height="6.5" fill="#723113"/><rect x="46" y="178" width="6.5" height="6.5" fill="#702f12"/><rect x="52" y="178" width="6.5" height="6.5" fill="#6e2d11"/><rect x="58" y="178" width="6.5" height="6.5" fill="#6b2a0f"/><rect x="64" y="178" width="6.5" height="6.5" fill="#66260d"/><rect x="70" y="178" width="6.5" height="6.5" fill="#61200a"/><rect x="76" y="178" width="6.5" height="6.5" fill="#5b1b06"/><rect x="82" y="178" width="6.5" height="6.5" fill="#551503"/><rect x="88" y="178" width="6.5" height="6.5" fill="#4f1000"/><rect x="94" y="178" width="6.5" height="6.5" fill="#4a0c00"/><rect x="100" y="178" width="6.5" height="6.5" fill="#460900"/><rect x="106" y="178" width="6.5" height="6.5" fill="#420700"/><rect x="112" y="178" width="6.5" height="6.5" fill="#3f0600"/><rect x="118" y="178" width="6.5" height="6.5" fill="#3c0600"/><rect x="124" y="178" width="6.5" height="6.5" fill="#3a0500"/><rect x="130" y="178" width="6.5" height="6.5" fill="#380400"/><rect x="136" y="178" width="6.5" height="6.5" fill="#350300"/><rect x="142" y="178" width="6.5" height="6.5" fill="#320100"/><rect x="148" y="178" width="6.5" height="6.5" fill="#2f0000"/><rect x="154" y="178" width="6.5" height="6.5" fill="#2c0000"/><rect x="160" y="178" width="6.5" height="6.5" fill="#2a0000"/><rect x="166" y="178" width="6.5" height="6.5" fill="#2a0000"/><rect x="172" y="178" width="6.5" height="6.5" fill="#2c0000"/><rect x="178" y="178" width="6.5" height="6.5" fill="#300000"/><rect x="184" y="178" width="6.5" height="6.5" fill="#370100"/><rect x="190" y="178" width="6.5" height="6.5" fill="#3e0400"/><rect x="196" y="178" width="6.5" height="6.5" fill="#470600"/><rect x="202" y="178" width="6.5" height="6.5" fill="#500900"/><rect x="208" y="178" width="6.5" height="6.5" fill="#5a0b00"/><rect x="214" y="178" width="6.5" height="6.5" fill="#630d00"/><rect x="220" y="178" width="6.5" height="6.5" fill="#6c0f00"/><rect x="226" y="178" width="6.5" height="6.5" fill="#731100"/><rect x="232" y="178" width="6.5" height="6.5" fill="#791300"/><rect x="238" y="178" width="6.5" height="6.5" fill="#7d1400"/><rect x="244" y="178" width="6.5" height="6.5" fill="#801400"/><rect x="250" y="178" width="6.5" height="6.5" fill="#811500"/><rect x="256" y="178" width="6.5" height="6.5" fill="#841700"/><rect x="262" y="178" width="6.5" height="6.5" fill="#8b1c00"/><rect x="268" y="178" width="6.5" height="6.5" fill="#932401"/><rect x="274" y="178" width="6.5" height="6.5" fill="#9b2c04"/><rect x="280" y="178" width="6.5" height="6.5" fill="#a13307"/><rect x="286" y="178" width="6.5" height="6.5" fill="#a53a0b"/><rect x="292" y="178" width="6.5" height="6.5" fill="#a9400f"/><rect x="298" y="178" width="6.5" height="6.5" fill="#ad4714"/><rect x="304" y="178" width="6.5" height="6.5" fill="#b24e1a"/><rect x="310" y="178" width="6.5" height="6.5" fill="#b75620"/><rect x="316" y="178" width="6.5" height="6.5" fill="#bd5e27"/><rect x="322" y="178" width="6.5" height="6.5" fill="#c4662d"/><rect x="10" y="184" width="6.5" height="6.5" fill="#773d19"/><rect x="16" y="184" width="6.5" height="6.5" fill="#733916"/><rect x="22" y="184" width="6.5" height="6.5" fill="#703413"/><rect x="28" y="184" width="6.5" height="6.5" fill="#6c2f10"/><rect x="34" y="184" width="6.5" height="6.5" fill="#6a2c0f"/><rect x="40" y="184" width="6.5" height="6.5" fill="#68280e"/><rect x="46" y="184" width="6.5" height="6.5" fill="#66250d"/><rect x="52" y="184" width="6.5" height="6.5" fill="#64230c"/><rect x="58" y="184" width="6.5" height="6.5" fill="#61200b"/><rect x="64" y="184" width="6.5" height="6.5" fill="#5c1d09"/><rect x="70" y="184" width="6.5" height="6.5" fill="#571907"/><rect x="76" y="184" width="6.5" height="6.5" fill="#511404"/><rect x="82" y="184" width="6.5" height="6.5" fill="#4b1002"/><rect x="88" y="184" width="6.5" height="6.5" fill="#460c00"/><rect x="94" y="184" width="6.5" height="6.5" fill="#400800"/><rect x="100" y="184" width="6.5" height="6.5" fill="#3c0600"/><rect x="106" y="184" width="6.5" height="6.5" fill="#380400"/><rect x="112" y="184" width="6.5" height="6.5" fill="#350300"/><rect x="118" y="184" width="6.5" height="6.5" fill="#330200"/><rect x="124" y="184" width="6.5" height="6.5" fill="#320200"/><rect x="130" y="184" width="6.5" height="6.5" fill="#310100"/><rect x="136" y="184" width="6.5" height="6.5" fill="#2f0000"/><rect x="142" y="184" width="6.5" height="6.5" fill="#2d0000"/><rect x="148" y="184" width="6.5" height="6.5" fill="#2b0000"/><rect x="154" y="184" width="6.5" height="6.5" fill="#290000"/><rect x="160" y="184" width="6.5" height="6.5" fill="#280000"/><rect x="166" y="184" width="6.5" height="6.5" fill="#280000"/><rect x="172" y="184" width="6.5" height="6.5" fill="#2b0000"/><rect x="178" y="184" width="6.5" height="6.5" fill="#2f0000"/><rect x="184" y="184" width="6.5" height="6.5" fill="#350200"/><rect x="190" y="184" width="6.5" height="6.5" fill="#3d0400"/><rect x="196" y="184" width="6.5" height="6.5" fill="#450600"/><rect x="202" y="184" width="6.5" height="6.5" fill="#4f0900"/><rect x="208" y="184" width="6.5" height="6.5" fill="#580b00"/><rect x="214" y="184" width="6.5" height="6.5" fill="#620d00"/><rect x="220" y="184" width="6.5" height="6.5" fill="#6b0f00"/><rect x="226" y="184" width="6.5" height="6.5" fill="#741200"/><rect x="232" y="184" width="6.5" height="6.5" fill="#7a1400"/><rect x="238" y="184" width="6.5" height="6.5" fill="#7e1600"/><rect x="244" y="184" width="6.5" height="6.5" fill="#801600"/><rect x="250" y="184" width="6.5" height="6.5" fill="#801500"/><rect x="256" y="184" width="6.5" height="6.5" fill="#801500"/><rect x="262" y="184" width="6.5" height="6.5" fill="#861a00"/><rect x="268" y="184" width="6.5" height="6.5" fill="#8e2101"/><rect x="274" y="184" width="6.5" height="6.5" fill="#962903"/><rect x="280" y="184" width="6.5" height="6.5" fill="#9c3006"/><rect x="286" y="184" width="6.5" height="6.5" fill="#a23709"/><rect x="292" y="184" width="6.5" height="6.5" fill="#a73d0d"/><rect x="298" y="184" width="6.5" height="6.5" fill="#ac4311"/><rect x="304" y="184" width="6.5" height="6.5" fill="#b14917"/><rect x="310" y="184" width="6.5" height="6.5" fill="#b7521d"/><rect x="316" y="184" width="6.5" height="6.5" fill="#bd5a23"/><rect x="322" y="184" width="6.5" height="6.5" fill="#c3622a"/><rect x="10" y="190" width="6.5" height="6.5" fill="#703715"/><rect x="16" y="190" width="6.5" height="6.5" fill="#6c3312"/><rect x="22" y="190" width="6.5" height="6.5" fill="#682e0f"/><rect x="28" y="190" width="6.5" height="6.5" fill="#65290c"/><rect x="34" y="190" width="6.5" height="6.5" fill="#62240b"/><rect x="40" y="190" width="6.5" height="6.5" fill="#602009"/><rect x="46" y="190" width="6.5" height="6.5" fill="#5d1c08"/><rect x="52" y="190" width="6.5" height="6.5" fill="#5b1907"/><rect x="58" y="190" width="6.5" height="6.5" fill="#571707"/><rect x="64" y="190" width="6.5" height="6.5" fill="#531506"/><rect x="70" y="190" width="6.5" height="6.5" fill="#4e1204"/><rect x="76" y="190" width="6.5" height="6.5" fill="#490e02"/><rect x="82" y="190" width="6.5" height="6.5" fill="#430b01"/><rect x="88" y="190" width="6.5" height="6.5" fill="#3d0800"/><rect x="94" y="190" width="6.5" height="6.5" fill="#380500"/><rect x="100" y="190" width="6.5" height="6.5" fill="#340300"/><rect x="106" y="190" width="6.5" height="6.5" fill="#300200"/><rect x="112" y="190" width="6.5" height="6.5" fill="#2d0100"/><rect x="118" y="190" width="6.5" height="6.5" fill="#2c0000"/><rect x="124" y="190" width="6.5" height="6.5" fill="#2c0000"/><rect x="130" y="190" width="6.5" height="6.5" fill="#2c0000"/><rect x="136" y="190" width="6.5" height="6.5" fill="#2b0000"/><rect x="142" y="190" width="6.5" height="6.5" fill="#2a0000"/><rect x="148" y="190" width="6.5" height="6.5" fill="#290000"/><rect x="154" y="190" width="6.5" height="6.5" fill="#280000"/><rect x="160" y="190" width="6.5" height="6.5" fill="#270000"/><rect x="166" y="190" width="6.5" height="6.5" fill="#280000"/><rect x="172" y="190" width="6.5" height="6.5" fill="#2b0000"/><rect x="178" y="190" width="6.5" height="6.5" fill="#2f0100"/><rect x="184" y="190" width="6.5" height="6.5" fill="#340300"/><rect x="190" y="190" width="6.5" height="6.5" fill="#3c0500"/><rect x="196" y="190" width="6.5" height="6.5" fill="#440700"/><rect x="202" y="190" width="6.5" height="6.5" fill="#4e0900"/><rect x="208" y="190" width="6.5" height="6.5" fill="#580b00"/><rect x="214" y="190" width="6.5" height="6.5" fill="#620d00"/><rect x="220" y="190" width="6.5" height="6.5" fill="#6c1000"/><rect x="226" y="190" width="6.5" height="6.5" fill="#751300"/><rect x="232" y="190" width="6.5" height="6.5" fill="#7c1600"/><rect x="238" y="190" width="6.5" height="6.5" fill="#811900"/><rect x="244" y="190" width="6.5" height="6.5" fill="#821900"/><rect x="250" y="190" width="6.5" height="6.5" fill="#811800"/><rect x="256" y="190" width="6.5" height="6.5" fill="#801700"/><rect x="262" y="190" width="6.5" height="6.5" fill="#841a00"/><rect x="268" y="190" width="6.5" height="6.5" fill="#8b2101"/><rect x="274" y="190" width="6.5" height="6.5" fill="#922803"/><rect x="280" y="190" width="6.5" height="6.5" fill="#992f05"/><rect x="286" y="190" width="6.5" height="6.5" fill="#a03608"/><rect x="292" y="190" width="6.5" height="6.5" fill="#a53b0b"/><rect x="298" y="190" width="6.5" height="6.5" fill="#ab4110"/><rect x="304" y="190" width="6.5" height="6.5" fill="#b04715"/><rect x="310" y="190" width="6.5" height="6.5" fill="#b64f1b"/><rect x="316" y="190" width="6.5" height="6.5" fill="#bc5721"/><rect x="322" y="190" width="6.5" height="6.5" fill="#c25f27"/><rect x="10" y="196" width="6.5" height="6.5" fill="#6a3313"/><rect x="16" y="196" width="6.5" height="6.5" fill="#662e10"/><rect x="22" y="196" width="6.5" height="6.5" fill="#62290d"/><rect x="28" y="196" width="6.5" height="6.5" fill="#5f240a"/><rect x="34" y="196" width="6.5" height="6.5" fill="#5c1f08"/><rect x="40" y="196" width="6.5" height="6.5" fill="#591a07"/><rect x="46" y="196" width="6.5" height="6.5" fill="#561505"/><rect x="52" y="196" width="6.5" height="6.5" fill="#531204"/><rect x="58" y="196" width="6.5" height="6.5" fill="#501104"/><rect x="64" y="196" width="6.5" height="6.5" fill="#4c0f03"/><rect x="70" y="196" width="6.5" height="6.5" fill="#470c02"/><rect x="76" y="196" width="6.5" height="6.5" fill="#420a01"/><rect x="82" y="196" width="6.5" height="6.5" fill="#3c0700"/><rect x="88" y="196" width="6.5" height="6.5" fill="#370500"/><rect x="94" y="196" width="6.5" height="6.5" fill="#320300"/><rect x="100" y="196" width="6.5" height="6.5" fill="#2e0100"/><rect x="106" y="196" width="6.5" height="6.5" fill="#2a0000"/><rect x="112" y="196" width="6.5" height="6.5" fill="#280000"/><rect x="118" y="196" width="6.5" height="6.5" fill="#280000"/><rect x="124" y="196" width="6.5" height="6.5" fill="#280000"/><rect x="130" y="196" width="6.5" height="6.5" fill="#290000"/><rect x="136" y="196" width="6.5" height="6.5" fill="#290000"/><rect x="142" y="196" width="6.5" height="6.5" fill="#290000"/><rect x="148" y="196" width="6.5" height="6.5" fill="#290000"/><rect x="154" y="196" width="6.5" height="6.5" fill="#280000"/><rect x="160" y="196" width="6.5" height="6.5" fill="#280000"/><rect x="166" y="196" width="6.5" height="6.5" fill="#290000"/><rect x="172" y="196" width="6.5" height="6.5" fill="#2b0000"/><rect x="178" y="196" width="6.5" height="6.5" fill="#2f0200"/><rect x="184" y="196" width="6.5" height="6.5" fill="#340400"/><rect x="190" y="196" width="6.5" height="6.5" fill="#3b0600"/><rect x="196" y="196" width="6.5" height="6.5" fill="#440800"/><rect x="202" y="196" width="6.5" height="6.5" fill="#4d0a00"/><rect x="208" y="196" width="6.5" height="6.5" fill="#580b00"/><rect x="214" y="196" width="6.5" height="6.5" fill="#620d00"/><rect x="220" y="196" width="6.5" height="6.5" fill="#6c1000"/><rect x="226" y="196" width="6.5" height="6.5" fill="#761300"/><rect x="232" y="196" width="6.5" height="6.5" fill="#7e1700"/><rect x="238" y="196" width="6.5" height="6.5" fill="#841b00"/><rect x="244" y="196" width="6.5" height="6.5" fill="#861d00"/><rect x="250" y="196" width="6.5" height="6.5" fill="#841c00"/><rect x="256" y="196" width="6.5" height="6.5" fill="#831b00"/><rect x="262" y="196" width="6.5" height="6.5" fill="#861e00"/><rect x="268" y="196" width="6.5" height="6.5" fill="#8b2301"/><rect x="274" y="196" width="6.5" height="6.5" fill="#912a02"/><rect x="280" y="196" width="6.5" height="6.5" fill="#983005"/><rect x="286" y="196" width="6.5" height="6.5" fill="#9f3608"/><rect x="292" y="196" width="6.5" height="6.5" fill="#a53b0b"/><rect x="298" y="196" width="6.5" height="6.5" fill="#ab410f"/><rect x="304" y="196" width="6.5" height="6.5" fill="#b04714"/><rect x="310" y="196" width="6.5" height="6.5" fill="#b64e1a"/><rect x="316" y="196" width="6.5" height="6.5" fill="#bd5620"/><rect x="322" y="196" width="6.5" height="6.5" fill="#c35e26"/><rect x="10" y="202" width="6.5" height="6.5" fill="#652f11"/><rect x="16" y="202" width="6.5" height="6.5" fill="#622b0e"/><rect x="22" y="202" width="6.5" height="6.5" fill="#5e260c"/><rect x="28" y="202" width="6.5" height="6.5" fill="#5b2109"/><rect x="34" y="202" width="6.5" height="6.5" fill="#571c07"/><rect x="40" y="202" width="6.5" height="6.5" fill="#541605"/><rect x="46" y="202" width="6.5" height="6.5" fill="#511204"/><rect x="52" y="202" width="6.5" height="6.5" fill="#4e0f03"/><rect x="58" y="202" width="6.5" height="6.5" fill="#4a0d02"/><rect x="64" y="202" width="6.5" height="6.5" fill="#460b02"/><rect x="70" y="202" width="6.5" height="6.5" fill="#410901"/><rect x="76" y="202" width="6.5" height="6.5" fill="#3c0600"/><rect x="82" y="202" width="6.5" height="6.5" fill="#370400"/><rect x="88" y="202" width="6.5" height="6.5" fill="#320300"/><rect x="94" y="202" width="6.5" height="6.5" fill="#2e0100"/><rect x="100" y="202" width="6.5" height="6.5" fill="#2b0000"/><rect x="106" y="202" width="6.5" height="6.5" fill="#280000"/><rect x="112" y="202" width="6.5" height="6.5" fill="#260000"/><rect x="118" y="202" width="6.5" height="6.5" fill="#270000"/><rect x="124" y="202" width="6.5" height="6.5" fill="#280000"/><rect x="130" y="202" width="6.5" height="6.5" fill="#290000"/><rect x="136" y="202" width="6.5" height="6.5" fill="#2a0000"/><rect x="142" y="202" width="6.5" height="6.5" fill="#2a0000"/><rect x="148" y="202" width="6.5" height="6.5" fill="#2a0000"/><rect x="154" y="202" width="6.5" height="6.5" fill="#2a0000"/><rect x="160" y="202" width="6.5" height="6.5" fill="#2a0000"/><rect x="166" y="202" width="6.5" height="6.5" fill="#2b0000"/><rect x="172" y="202" width="6.5" height="6.5" fill="#2d0200"/><rect x="178" y="202" width="6.5" height="6.5" fill="#300300"/><rect x="184" y="202" width="6.5" height="6.5" fill="#350500"/><rect x="190" y="202" width="6.5" height="6.5" fill="#3c0700"/><rect x="196" y="202" width="6.5" height="6.5" fill="#440900"/><rect x="202" y="202" width="6.5" height="6.5" fill="#4d0a00"/><rect x="208" y="202" width="6.5" height="6.5" fill="#580b00"/><rect x="214" y="202" width="6.5" height="6.5" fill="#620c00"/><rect x="220" y="202" width="6.5" height="6.5" fill="#6c0e00"/><rect x="226" y="202" width="6.5" height="6.5" fill="#761100"/><rect x="232" y="202" width="6.5" height="6.5" fill="#7e1500"/><rect x="238" y="202" width="6.5" height="6.5" fill="#841a00"/><rect x="244" y="202" width="6.5" height="6.5" fill="#871d00"/><rect x="250" y="202" width="6.5" height="6.5" fill="#861d00"/><rect x="256" y="202" width="6.5" height="6.5" fill="#861e00"/><rect x="262" y="202" width="6.5" height="6.5" fill="#882100"/><rect x="268" y="202" width="6.5" height="6.5" fill="#8c2601"/><rect x="274" y="202" width="6.5" height="6.5" fill="#922c03"/><rect x="280" y="202" width="6.5" height="6.5" fill="#983205"/><rect x="286" y="202" width="6.5" height="6.5" fill="#9f3808"/><rect x="292" y="202" width="6.5" height="6.5" fill="#a53d0c"/><rect x="298" y="202" width="6.5" height="6.5" fill="#ab4210"/><rect x="304" y="202" width="6.5" height="6.5" fill="#b14815"/><rect x="310" y="202" width="6.5" height="6.5" fill="#b74f1a"/><rect x="316" y="202" width="6.5" height="6.5" fill="#bd5620"/><rect x="322" y="202" width="6.5" height="6.5" fill="#c35d25"/><rect x="10" y="208" width="6.5" height="6.5" fill="#612c0f"/><rect x="16" y="208" width="6.5" height="6.5" fill="#5e280d"/><rect x="22" y="208" width="6.5" height="6.5" fill="#5b240b"/><rect x="28" y="208" width="6.5" height="6.5" fill="#581f09"/><rect x="34" y="208" width="6.5" height="6.5" fill="#541b07"/><rect x="40" y="208" width="6.5" height="6.5" fill="#511606"/><rect x="46" y="208" width="6.5" height="6.5" fill="#4d1104"/><rect x="52" y="208" width="6.5" height="6.5" fill="#4a0d03"/><rect x="58" y="208" width="6.5" height="6.5" fill="#460b02"/><rect x="64" y="208" width="6.5" height="6.5" fill="#420801"/><rect x="70" y="208" width="6.5" height="6.5" fill="#3e0600"/><rect x="76" y="208" width="6.5" height="6.5" fill="#390500"/><rect x="82" y="208" width="6.5" height="6.5" fill="#350300"/><rect x="88" y="208" width="6.5" height="6.5" fill="#300100"/><rect x="94" y="208" width="6.5" height="6.5" fill="#2d0000"/><rect x="100" y="208" width="6.5" height="6.5" fill="#2a0000"/><rect x="106" y="208" width="6.5" height="6.5" fill="#280000"/><rect x="112" y="208" width="6.5" height="6.5" fill="#270000"/><rect x="118" y="208" width="6.5" height="6.5" fill="#280000"/><rect x="124" y="208" width="6.5" height="6.5" fill="#290000"/><rect x="130" y="208" width="6.5" height="6.5" fill="#2b0000"/><rect x="136" y="208" width="6.5" height="6.5" fill="#2c0100"/><rect x="142" y="208" width="6.5" height="6.5" fill="#2d0100"/><rect x="148" y="208" width="6.5" height="6.5" fill="#2d0100"/><rect x="154" y="208" width="6.5" height="6.5" fill="#2d0100"/><rect x="160" y="208" width="6.5" height="6.5" fill="#2d0100"/><rect x="166" y="208" width="6.5" height="6.5" fill="#2d0200"/><rect x="172" y="208" width="6.5" height="6.5" fill="#2f0300"/><rect x="178" y="208" width="6.5" height="6.5" fill="#310400"/><rect x="184" y="208" width="6.5" height="6.5" fill="#360600"/><rect x="190" y="208" width="6.5" height="6.5" fill="#3c0800"/><rect x="196" y="208" width="6.5" height="6.5" fill="#440900"/><rect x="202" y="208" width="6.5" height="6.5" fill="#4d0a00"/><rect x="208" y="208" width="6.5" height="6.5" fill="#570a00"/><rect x="214" y="208" width="6.5" height="6.5" fill="#620a00"/><rect x="220" y="208" width="6.5" height="6.5" fill="#6c0b00"/><rect x="226" y="208" width="6.5" height="6.5" fill="#750d00"/><rect x="232" y="208" width="6.5" height="6.5" fill="#7c1100"/><rect x="238" y="208" width="6.5" height="6.5" fill="#821600"/><rect x="244" y="208" width="6.5" height="6.5" fill="#851a00"/><rect x="250" y="208" width="6.5" height="6.5" fill="#861d00"/><rect x="256" y="208" width="6.5" height="6.5" fill="#871f00"/><rect x="262" y="208" width="6.5" height="6.5" fill="#892301"/><rect x="268" y="208" width="6.5" height="6.5" fill="#8d2902"/><rect x="274" y="208" width="6.5" height="6.5" fill="#932f04"/><rect x="280" y="208" width="6.5" height="6.5" fill="#993506"/><rect x="286" y="208" width="6.5" height="6.5" fill="#9f3a09"/><rect x="292" y="208" width="6.5" height="6.5" fill="#a63f0d"/><rect x="298" y="208" width="6.5" height="6.5" fill="#ac4411"/><rect x="304" y="208" width="6.5" height="6.5" fill="#b24a16"/><rect x="310" y="208" width="6.5" height="6.5" fill="#b8501b"/><rect x="316" y="208" width="6.5" height="6.5" fill="#be5720"/><rect x="322" y="208" width="6.5" height="6.5" fill="#c45e25"/><rect x="10" y="214" width="6.5" height="6.5" fill="#5e2a0e"/><rect x="16" y="214" width="6.5" height="6.5" fill="#5b260d"/><rect x="22" y="214" width="6.5" height="6.5" fill="#58220b"/><rect x="28" y="214" width="6.5" height="6.5" fill="#551f09"/><rect x="34" y="214" width="6.5" height="6.5" fill="#521b08"/><rect x="40" y="214" width="6.5" height="6.5" fill="#4f1606"/><rect x="46" y="214" width="6.5" height="6.5" fill="#4b1104"/><rect x="52" y="214" width="6.5" height="6.5" fill="#470d03"/><rect x="58" y="214" width="6.5" height="6.5" fill="#430a02"/><rect x="64" y="214" width="6.5" height="6.5" fill="#3f0701"/><rect x="70" y="214" width="6.5" height="6.5" fill="#3b0500"/><rect x="76" y="214" width="6.5" height="6.5" fill="#370400"/><rect x="82" y="214" width="6.5" height="6.5" fill="#340200"/><rect x="88" y="214" width="6.5" height="6.5" fill="#300100"/><rect x="94" y="214" width="6.5" height="6.5" fill="#2d0000"/><rect x="100" y="214" width="6.5" height="6.5" fill="#2b0000"/><rect x="106" y="214" width="6.5" height="6.5" fill="#2a0000"/><rect x="112" y="214" width="6.5" height="6.5" fill="#2a0100"/><rect x="118" y="214" width="6.5" height="6.5" fill="#2b0100"/><rect x="124" y="214" width="6.5" height="6.5" fill="#2c0100"/><rect x="130" y="214" width="6.5" height="6.5" fill="#2e0200"/><rect x="136" y="214" width="6.5" height="6.5" fill="#2f0200"/><rect x="142" y="214" width="6.5" height="6.5" fill="#300200"/><rect x="148" y="214" width="6.5" height="6.5" fill="#310200"/><rect x="154" y="214" width="6.5" height="6.5" fill="#310200"/><rect x="160" y="214" width="6.5" height="6.5" fill="#300300"/><rect x="166" y="214" width="6.5" height="6.5" fill="#300300"/><rect x="172" y="214" width="6.5" height="6.5" fill="#310400"/><rect x="178" y="214" width="6.5" height="6.5" fill="#330500"/><rect x="184" y="214" width="6.5" height="6.5" fill="#370600"/><rect x="190" y="214" width="6.5" height="6.5" fill="#3d0700"/><rect x="196" y="214" width="6.5" height="6.5" fill="#450800"/><rect x="202" y="214" width="6.5" height="6.5" fill="#4e0800"/><rect x="208" y="214" width="6.5" height="6.5" fill="#570800"/><rect x="214" y="214" width="6.5" height="6.5" fill="#610700"/><rect x="220" y="214" width="6.5" height="6.5" fill="#6a0800"/><rect x="226" y="214" width="6.5" height="6.5" fill="#730900"/><rect x="232" y="214" width="6.5" height="6.5" fill="#790d00"/><rect x="238" y="214" width="6.5" height="6.5" fill="#7e1200"/><rect x="244" y="214" width="6.5" height="6.5" fill="#811600"/><rect x="250" y="214" width="6.5" height="6.5" fill="#841b00"/><rect x="256" y="214" width="6.5" height="6.5" fill="#861f01"/><rect x="262" y="214" width="6.5" height="6.5" fill="#892402"/><rect x="268" y="214" width="6.5" height="6.5" fill="#8d2a03"/><rect x="274" y="214" width="6.5" height="6.5" fill="#933005"/><rect x="280" y="214" width="6.5" height="6.5" fill="#9a3608"/><rect x="286" y="214" width="6.5" height="6.5" fill="#a03c0b"/><rect x="292" y="214" width="6.5" height="6.5" fill="#a7410f"/><rect x="298" y="214" width="6.5" height="6.5" fill="#ad4613"/><rect x="304" y="214" width="6.5" height="6.5" fill="#b44c18"/><rect x="310" y="214" width="6.5" height="6.5" fill="#b9521c"/><rect x="316" y="214" width="6.5" height="6.5" fill="#bf5821"/><rect x="322" y="214" width="6.5" height="6.5" fill="#c55e26"/><rect x="10" y="220" width="6.5" height="6.5" fill="#5b280e"/><rect x="16" y="220" width="6.5" height="6.5" fill="#59250c"/><rect x="22" y="220" width="6.5" height="6.5" fill="#56210b"/><rect x="28" y="220" width="6.5" height="6.5" fill="#531e0a"/><rect x="34" y="220" width="6.5" height="6.5" fill="#501a08"/><rect x="40" y="220" width="6.5" height="6.5" fill="#4d1607"/><rect x="46" y="220" width="6.5" height="6.5" fill="#491205"/><rect x="52" y="220" width="6.5" height="6.5" fill="#450d03"/><rect x="58" y="220" width="6.5" height="6.5" fill="#420a02"/><rect x="64" y="220" width="6.5" height="6.5" fill="#3e0701"/><rect x="70" y="220" width="6.5" height="6.5" fill="#3a0500"/><rect x="76" y="220" width="6.5" height="6.5" fill="#370300"/><rect x="82" y="220" width="6.5" height="6.5" fill="#330200"/><rect x="88" y="220" width="6.5" height="6.5" fill="#310100"/><rect x="94" y="220" width="6.5" height="6.5" fill="#2e0100"/><rect x="100" y="220" width="6.5" height="6.5" fill="#2d0100"/><rect x="106" y="220" width="6.5" height="6.5" fill="#2c0100"/><rect x="112" y="220" width="6.5" height="6.5" fill="#2d0200"/><rect x="118" y="220" width="6.5" height="6.5" fill="#2e0200"/><rect x="124" y="220" width="6.5" height="6.5" fill="#2f0300"/><rect x="130" y="220" width="6.5" height="6.5" fill="#310300"/><rect x="136" y="220" width="6.5" height="6.5" fill="#330300"/><rect x="142" y="220" width="6.5" height="6.5" fill="#350400"/><rect x="148" y="220" width="6.5" height="6.5" fill="#350400"/><rect x="154" y="220" width="6.5" height="6.5" fill="#340400"/><rect x="160" y="220" width="6.5" height="6.5" fill="#330400"/><rect x="166" y="220" width="6.5" height="6.5" fill="#320400"/><rect x="172" y="220" width="6.5" height="6.5" fill="#330500"/><rect x="178" y="220" width="6.5" height="6.5" fill="#350500"/><rect x="184" y="220" width="6.5" height="6.5" fill="#390600"/><rect x="190" y="220" width="6.5" height="6.5" fill="#3f0700"/><rect x="196" y="220" width="6.5" height="6.5" fill="#460700"/><rect x="202" y="220" width="6.5" height="6.5" fill="#4e0700"/><rect x="208" y="220" width="6.5" height="6.5" fill="#570600"/><rect x="214" y="220" width="6.5" height="6.5" fill="#600600"/><rect x="220" y="220" width="6.5" height="6.5" fill="#680500"/><rect x="226" y="220" width="6.5" height="6.5" fill="#700600"/><rect x="232" y="220" width="6.5" height="6.5" fill="#750900"/><rect x="238" y="220" width="6.5" height="6.5" fill="#7a0e00"/><rect x="244" y="220" width="6.5" height="6.5" fill="#7d1300"/><rect x="250" y="220" width="6.5" height="6.5" fill="#801800"/><rect x="256" y="220" width="6.5" height="6.5" fill="#831e01"/><rect x="262" y="220" width="6.5" height="6.5" fill="#882302"/><rect x="268" y="220" width="6.5" height="6.5" fill="#8d2a04"/><rect x="274" y="220" width="6.5" height="6.5" fill="#933007"/><rect x="280" y="220" width="6.5" height="6.5" fill="#9a370a"/><rect x="286" y="220" width="6.5" height="6.5" fill="#a13d0e"/><rect x="292" y="220" width="6.5" height="6.5" fill="#a84312"/><rect x="298" y="220" width="6.5" height="6.5" fill="#af4816"/><rect x="304" y="220" width="6.5" height="6.5" fill="#b54e1a"/><rect x="310" y="220" width="6.5" height="6.5" fill="#bb531e"/><rect x="316" y="220" width="6.5" height="6.5" fill="#c05923"/><rect x="322" y="220" width="6.5" height="6.5" fill="#c55f27"/><rect x="10" y="226" width="6.5" height="6.5" fill="#59270d"/><rect x="16" y="226" width="6.5" height="6.5" fill="#56240c"/><rect x="22" y="226" width="6.5" height="6.5" fill="#54200b"/><rect x="28" y="226" width="6.5" height="6.5" fill="#511d09"/><rect x="34" y="226" width="6.5" height="6.5" fill="#4e1a08"/><rect x="40" y="226" width="6.5" height="6.5" fill="#4b1607"/><rect x="46" y="226" width="6.5" height="6.5" fill="#481205"/><rect x="52" y="226" width="6.5" height="6.5" fill="#440e03"/><rect x="58" y="226" width="6.5" height="6.5" fill="#410a02"/><rect x="64" y="226" width="6.5" height="6.5" fill="#3d0801"/><rect x="70" y="226" width="6.5" height="6.5" fill="#3a0500"/><rect x="76" y="226" width="6.5" height="6.5" fill="#370400"/><rect x="82" y="226" width="6.5" height="6.5" fill="#340200"/><rect x="88" y="226" width="6.5" height="6.5" fill="#320200"/><rect x="94" y="226" width="6.5" height="6.5" fill="#300100"/><rect x="100" y="226" width="6.5" height="6.5" fill="#2f0200"/><rect x="106" y="226" width="6.5" height="6.5" fill="#2f0200"/><rect x="112" y="226" width="6.5" height="6.5" fill="#300300"/><rect x="118" y="226" width="6.5" height="6.5" fill="#310300"/><rect x="124" y="226" width="6.5" height="6.5" fill="#330400"/><rect x="130" y="226" width="6.5" height="6.5" fill="#340400"/><rect x="136" y="226" width="6.5" height="6.5" fill="#360500"/><rect x="142" y="226" width="6.5" height="6.5" fill="#380500"/><rect x="148" y="226" width="6.5" height="6.5" fill="#390500"/><rect x="154" y="226" width="6.5" height="6.5" fill="#380500"/><rect x="160" y="226" width="6.5" height="6.5" fill="#360500"/><rect x="166" y="226" width="6.5" height="6.5" fill="#350500"/><rect x="172" y="226" width="6.5" height="6.5" fill="#350500"/><rect x="178" y="226" width="6.5" height="6.5" fill="#370600"/><rect x="184" y="226" width="6.5" height="6.5" fill="#3b0600"/><rect x="190" y="226" width="6.5" height="6.5" fill="#410600"/><rect x="196" y="226" width="6.5" height="6.5" fill="#470600"/><rect x="202" y="226" width="6.5" height="6.5" fill="#4f0600"/><rect x="208" y="226" width="6.5" height="6.5" fill="#570500"/><rect x="214" y="226" width="6.5" height="6.5" fill="#5e0400"/><rect x="220" y="226" width="6.5" height="6.5" fill="#650400"/><rect x="226" y="226" width="6.5" height="6.5" fill="#6b0500"/><rect x="232" y="226" width="6.5" height="6.5" fill="#700800"/><rect x="238" y="226" width="6.5" height="6.5" fill="#740c00"/><rect x="244" y="226" width="6.5" height="6.5" fill="#781100"/><rect x="250" y="226" width="6.5" height="6.5" fill="#7c1600"/><rect x="256" y="226" width="6.5" height="6.5" fill="#801c01"/><rect x="262" y="226" width="6.5" height="6.5" fill="#852203"/><rect x="268" y="226" width="6.5" height="6.5" fill="#8b2906"/><rect x="274" y="226" width="6.5" height="6.5" fill="#923009"/><rect x="280" y="226" width="6.5" height="6.5" fill="#9a370c"/><rect x="286" y="226" width="6.5" height="6.5" fill="#a23e10"/><rect x="292" y="226" width="6.5" height="6.5" fill="#a94414"/><rect x="298" y="226" width="6.5" height="6.5" fill="#b04a18"/><rect x="304" y="226" width="6.5" height="6.5" fill="#b64f1c"/><rect x="310" y="226" width="6.5" height="6.5" fill="#bb5520"/><rect x="316" y="226" width="6.5" height="6.5" fill="#c15a24"/><rect x="322" y="226" width="6.5" height="6.5" fill="#c66028"/><rect x="10" y="232" width="6.5" height="6.5" fill="#57250d"/><rect x="16" y="232" width="6.5" height="6.5" fill="#54220c"/><rect x="22" y="232" width="6.5" height="6.5" fill="#521f0a"/><rect x="28" y="232" width="6.5" height="6.5" fill="#4f1c09"/><rect x="34" y="232" width="6.5" height="6.5" fill="#4c1908"/><rect x="40" y="232" width="6.5" height="6.5" fill="#491506"/><rect x="46" y="232" width="6.5" height="6.5" fill="#461105"/><rect x="52" y="232" width="6.5" height="6.5" fill="#430e03"/><rect x="58" y="232" width="6.5" height="6.5" fill="#400b02"/><rect x="64" y="232" width="6.5" height="6.5" fill="#3d0801"/><rect x="70" y="232" width="6.5" height="6.5" fill="#3a0600"/><rect x="76" y="232" width="6.5" height="6.5" fill="#380400"/><rect x="82" y="232" width="6.5" height="6.5" fill="#350300"/><rect x="88" y="232" width="6.5" height="6.5" fill="#330200"/><rect x="94" y="232" width="6.5" height="6.5" fill="#320200"/><rect x="100" y="232" width="6.5" height="6.5" fill="#310200"/><rect x="106" y="232" width="6.5" height="6.5" fill="#310300"/><rect x="112" y="232" width="6.5" height="6.5" fill="#320300"/><rect x="118" y="232" width="6.5" height="6.5" fill="#340400"/><rect x="124" y="232" width="6.5" height="6.5" fill="#350500"/><rect x="130" y="232" width="6.5" height="6.5" fill="#370500"/><rect x="136" y="232" width="6.5" height="6.5" fill="#390500"/><rect x="142" y="232" width="6.5" height="6.5" fill="#3a0600"/><rect x="148" y="232" width="6.5" height="6.5" fill="#3b0600"/><rect x="154" y="232" width="6.5" height="6.5" fill="#3a0600"/><rect x="160" y="232" width="6.5" height="6.5" fill="#380600"/><rect x="166" y="232" width="6.5" height="6.5" fill="#370600"/><rect x="172" y="232" width="6.5" height="6.5" fill="#380600"/><rect x="178" y="232" width="6.5" height="6.5" fill="#390600"/><rect x="184" y="232" width="6.5" height="6.5" fill="#3d0600"/><rect x="190" y="232" width="6.5" height="6.5" fill="#430600"/><rect x="196" y="232" width="6.5" height="6.5" fill="#490600"/><rect x="202" y="232" width="6.5" height="6.5" fill="#500600"/><rect x="208" y="232" width="6.5" height="6.5" fill="#560500"/><rect x="214" y="232" width="6.5" height="6.5" fill="#5d0400"/><rect x="220" y="232" width="6.5" height="6.5" fill="#620400"/><rect x="226" y="232" width="6.5" height="6.5" fill="#670500"/><rect x="232" y="232" width="6.5" height="6.5" fill="#6b0700"/><rect x="238" y="232" width="6.5" height="6.5" fill="#6f0a00"/><rect x="244" y="232" width="6.5" height="6.5" fill="#720f00"/><rect x="250" y="232" width="6.5" height="6.5" fill="#771400"/><rect x="256" y="232" width="6.5" height="6.5" fill="#7c1a02"/><rect x="262" y="232" width="6.5" height="6.5" fill="#822104"/><rect x="268" y="232" width="6.5" height="6.5" fill="#892807"/><rect x="274" y="232" width="6.5" height="6.5" fill="#91300a"/><rect x="280" y="232" width="6.5" height="6.5" fill="#99370e"/><rect x="286" y="232" width="6.5" height="6.5" fill="#a23e13"/><rect x="292" y="232" width="6.5" height="6.5" fill="#aa4517"/><rect x="298" y="232" width="6.5" height="6.5" fill="#b04b1b"/><rect x="304" y="232" width="6.5" height="6.5" fill="#b6501e"/><rect x="310" y="232" width="6.5" height="6.5" fill="#bc5622"/><rect x="316" y="232" width="6.5" height="6.5" fill="#c15b26"/><rect x="322" y="232" width="6.5" height="6.5" fill="#c66029"/><rect x="10" y="238" width="6.5" height="6.5" fill="#55240c"/><rect x="16" y="238" width="6.5" height="6.5" fill="#52210b"/><rect x="22" y="238" width="6.5" height="6.5" fill="#501e0a"/><rect x="28" y="238" width="6.5" height="6.5" fill="#4d1b09"/><rect x="34" y="238" width="6.5" height="6.5" fill="#4b1808"/><rect x="40" y="238" width="6.5" height="6.5" fill="#481506"/><rect x="46" y="238" width="6.5" height="6.5" fill="#451105"/><rect x="52" y="238" width="6.5" height="6.5" fill="#430e03"/><rect x="58" y="238" width="6.5" height="6.5" fill="#400b02"/><rect x="64" y="238" width="6.5" height="6.5" fill="#3d0901"/><rect x="70" y="238" width="6.5" height="6.5" fill="#3b0600"/><rect x="76" y="238" width="6.5" height="6.5" fill="#390500"/><rect x="82" y="238" width="6.5" height="6.5" fill="#360400"/><rect x="88" y="238" width="6.5" height="6.5" fill="#350300"/><rect x="94" y="238" width="6.5" height="6.5" fill="#340300"/><rect x="100" y="238" width="6.5" height="6.5" fill="#330300"/><rect x="106" y="238" width="6.5" height="6.5" fill="#330300"/><rect x="112" y="238" width="6.5" height="6.5" fill="#340400"/><rect x="118" y="238" width="6.5" height="6.5" fill="#350400"/><rect x="124" y="238" width="6.5" height="6.5" fill="#360500"/><rect x="130" y="238" width="6.5" height="6.5" fill="#380500"/><rect x="136" y="238" width="6.5" height="6.5" fill="#390600"/><rect x="142" y="238" width="6.5" height="6.5" fill="#3b0600"/><rect x="148" y="238" width="6.5" height="6.5" fill="#3b0600"/><rect x="154" y="238" width="6.5" height="6.5" fill="#3b0600"/><rect x="160" y="238" width="6.5" height="6.5" fill="#3a0600"/><rect x="166" y="238" width="6.5" height="6.5" fill="#3a0600"/><rect x="172" y="238" width="6.5" height="6.5" fill="#3a0600"/><rect x="178" y="238" width="6.5" height="6.5" fill="#3d0600"/><rect x="184" y="238" width="6.5" height="6.5" fill="#400700"/><rect x="190" y="238" width="6.5" height="6.5" fill="#450700"/><rect x="196" y="238" width="6.5" height="6.5" fill="#4b0700"/><rect x="202" y="238" width="6.5" height="6.5" fill="#510600"/><rect x="208" y="238" width="6.5" height="6.5" fill="#560500"/><rect x="214" y="238" width="6.5" height="6.5" fill="#5b0500"/><rect x="220" y="238" width="6.5" height="6.5" fill="#600500"/><rect x="226" y="238" width="6.5" height="6.5" fill="#640500"/><rect x="232" y="238" width="6.5" height="6.5" fill="#670700"/><rect x="238" y="238" width="6.5" height="6.5" fill="#690900"/><rect x="244" y="238" width="6.5" height="6.5" fill="#6d0d00"/><rect x="250" y="238" width="6.5" height="6.5" fill="#711300"/><rect x="256" y="238" width="6.5" height="6.5" fill="#771902"/><rect x="262" y="238" width="6.5" height="6.5" fill="#7e2005"/><rect x="268" y="238" width="6.5" height="6.5" fill="#862708"/><rect x="274" y="238" width="6.5" height="6.5" fill="#8f2f0c"/><rect x="280" y="238" width="6.5" height="6.5" fill="#983710"/><rect x="286" y="238" width="6.5" height="6.5" fill="#a13e14"/><rect x="292" y="238" width="6.5" height="6.5" fill="#a94519"/><rect x="298" y="238" width="6.5" height="6.5" fill="#b04b1c"/><rect x="304" y="238" width="6.5" height="6.5" fill="#b65120"/><rect x="310" y="238" width="6.5" height="6.5" fill="#bc5623"/><rect x="316" y="238" width="6.5" height="6.5" fill="#c15b27"/><rect x="322" y="238" width="6.5" height="6.5" fill="#c6612a"/><rect x="10" y="244" width="6.5" height="6.5" fill="#53230c"/><rect x="16" y="244" width="6.5" height="6.5" fill="#51200b"/><rect x="22" y="244" width="6.5" height="6.5" fill="#4e1d0a"/><rect x="28" y="244" width="6.5" height="6.5" fill="#4c1a08"/><rect x="34" y="244" width="6.5" height="6.5" fill="#4a1707"/><rect x="40" y="244" width="6.5" height="6.5" fill="#471406"/><rect x="46" y="244" width="6.5" height="6.5" fill="#451105"/><rect x="52" y="244" width="6.5" height="6.5" fill="#420e03"/><rect x="58" y="244" width="6.5" height="6.5" fill="#400b02"/><rect x="64" y="244" width="6.5" height="6.5" fill="#3d0901"/><rect x="70" y="244" width="6.5" height="6.5" fill="#3b0700"/><rect x="76" y="244" width="6.5" height="6.5" fill="#390500"/><rect x="82" y="244" width="6.5" height="6.5" fill="#380400"/><rect x="88" y="244" width="6.5" height="6.5" fill="#360400"/><rect x="94" y="244" width="6.5" height="6.5" fill="#350300"/><rect x="100" y="244" width="6.5" height="6.5" fill="#340300"/><rect x="106" y="244" width="6.5" height="6.5" fill="#350400"/><rect x="112" y="244" width="6.5" height="6.5" fill="#350400"/><rect x="118" y="244" width="6.5" height="6.5" fill="#360500"/><rect x="124" y="244" width="6.5" height="6.5" fill="#370500"/><rect x="130" y="244" width="6.5" height="6.5" fill="#380600"/><rect x="136" y="244" width="6.5" height="6.5" fill="#3a0600"/><rect x="142" y="244" width="6.5" height="6.5" fill="#3a0600"/><rect x="148" y="244" width="6.5" height="6.5" fill="#3b0700"/><rect x="154" y="244" width="6.5" height="6.5" fill="#3b0700"/><rect x="160" y="244" width="6.5" height="6.5" fill="#3b0700"/><rect x="166" y="244" width="6.5" height="6.5" fill="#3b0700"/><rect x="172" y="244" width="6.5" height="6.5" fill="#3d0700"/><rect x="178" y="244" width="6.5" height="6.5" fill="#3f0700"/><rect x="184" y="244" width="6.5" height="6.5" fill="#430700"/><rect x="190" y="244" width="6.5" height="6.5" fill="#480700"/><rect x="196" y="244" width="6.5" height="6.5" fill="#4d0700"/><rect x="202" y="244" width="6.5" height="6.5" fill="#520700"/><rect x="208" y="244" width="6.5" height="6.5" fill="#570600"/><rect x="214" y="244" width="6.5" height="6.5" fill="#5b0600"/><rect x="220" y="244" width="6.5" height="6.5" fill="#5e0600"/><rect x="226" y="244" width="6.5" height="6.5" fill="#600600"/><rect x="232" y="244" width="6.5" height="6.5" fill="#620700"/><rect x="238" y="244" width="6.5" height="6.5" fill="#640900"/><rect x="244" y="244" width="6.5" height="6.5" fill="#670d00"/><rect x="250" y="244" width="6.5" height="6.5" fill="#6c1200"/><rect x="256" y="244" width="6.5" height="6.5" fill="#721802"/><rect x="262" y="244" width="6.5" height="6.5" fill="#7a1f05"/><rect x="268" y="244" width="6.5" height="6.5" fill="#832709"/><rect x="274" y="244" width="6.5" height="6.5" fill="#8c2e0d"/><rect x="280" y="244" width="6.5" height="6.5" fill="#963611"/><rect x="286" y="244" width="6.5" height="6.5" fill="#9f3e16"/><rect x="292" y="244" width="6.5" height="6.5" fill="#a7451a"/><rect x="298" y="244" width="6.5" height="6.5" fill="#ae4b1e"/><rect x="304" y="244" width="6.5" height="6.5" fill="#b55121"/><rect x="310" y="244" width="6.5" height="6.5" fill="#bb5624"/><rect x="316" y="244" width="6.5" height="6.5" fill="#c05c28"/><rect x="322" y="244" width="6.5" height="6.5" fill="#c5612b"/><rect x="10" y="250" width="6.5" height="6.5" fill="#51220b"/><rect x="16" y="250" width="6.5" height="6.5" fill="#4f1f0a"/><rect x="22" y="250" width="6.5" height="6.5" fill="#4d1c09"/><rect x="28" y="250" width="6.5" height="6.5" fill="#4b1908"/><rect x="34" y="250" width="6.5" height="6.5" fill="#481707"/><rect x="40" y="250" width="6.5" height="6.5" fill="#461406"/><rect x="46" y="250" width="6.5" height="6.5" fill="#441105"/><rect x="52" y="250" width="6.5" height="6.5" fill="#420e03"/><rect x="58" y="250" width="6.5" height="6.5" fill="#400c02"/><rect x="64" y="250" width="6.5" height="6.5" fill="#3e0901"/><rect x="70" y="250" width="6.5" height="6.5" fill="#3c0800"/><rect x="76" y="250" width="6.5" height="6.5" fill="#3a0600"/><rect x="82" y="250" width="6.5" height="6.5" fill="#380500"/><rect x="88" y="250" width="6.5" height="6.5" fill="#370400"/><rect x="94" y="250" width="6.5" height="6.5" fill="#360400"/><rect x="100" y="250" width="6.5" height="6.5" fill="#350400"/><rect x="106" y="250" width="6.5" height="6.5" fill="#350400"/><rect x="112" y="250" width="6.5" height="6.5" fill="#360400"/><rect x="118" y="250" width="6.5" height="6.5" fill="#370500"/><rect x="124" y="250" width="6.5" height="6.5" fill="#370500"/><rect x="130" y="250" width="6.5" height="6.5" fill="#380600"/><rect x="136" y="250" width="6.5" height="6.5" fill="#390600"/><rect x="142" y="250" width="6.5" height="6.5" fill="#3a0600"/><rect x="148" y="250" width="6.5" height="6.5" fill="#3b0700"/><rect x="154" y="250" width="6.5" height="6.5" fill="#3b0700"/><rect x="160" y="250" width="6.5" height="6.5" fill="#3c0700"/><rect x="166" y="250" width="6.5" height="6.5" fill="#3d0700"/><rect x="172" y="250" width="6.5" height="6.5" fill="#3f0800"/><rect x="178" y="250" width="6.5" height="6.5" fill="#420800"/><rect x="184" y="250" width="6.5" height="6.5" fill="#450800"/><rect x="190" y="250" width="6.5" height="6.5" fill="#4a0800"/><rect x="196" y="250" width="6.5" height="6.5" fill="#4f0800"/><rect x="202" y="250" width="6.5" height="6.5" fill="#540800"/><rect x="208" y="250" width="6.5" height="6.5" fill="#580800"/><rect x="214" y="250" width="6.5" height="6.5" fill="#5b0700"/><rect x="220" y="250" width="6.5" height="6.5" fill="#5d0700"/><rect x="226" y="250" width="6.5" height="6.5" fill="#5e0700"/><rect x="232" y="250" width="6.5" height="6.5" fill="#5f0800"/><rect x="238" y="250" width="6.5" height="6.5" fill="#610900"/><rect x="244" y="250" width="6.5" height="6.5" fill="#630c00"/><rect x="250" y="250" width="6.5" height="6.5" fill="#671100"/><rect x="256" y="250" width="6.5" height="6.5" fill="#6e1703"/><rect x="262" y="250" width="6.5" height="6.5" fill="#771e06"/><rect x="268" y="250" width="6.5" height="6.5" fill="#80260a"/><rect x="274" y="250" width="6.5" height="6.5" fill="#892e0e"/><rect x="280" y="250" width="6.5" height="6.5" fill="#933612"/><rect x="286" y="250" width="6.5" height="6.5" fill="#9c3d16"/><rect x="292" y="250" width="6.5" height="6.5" fill="#a5441a"/><rect x="298" y="250" width="6.5" height="6.5" fill="#ac4a1e"/><rect x="304" y="250" width="6.5" height="6.5" fill="#b35022"/><rect x="310" y="250" width="6.5" height="6.5" fill="#b95625"/><rect x="316" y="250" width="6.5" height="6.5" fill="#bf5b29"/><rect x="322" y="250" width="6.5" height="6.5" fill="#c4612c"/><rect x="10" y="256" width="6.5" height="6.5" fill="#50210b"/><rect x="16" y="256" width="6.5" height="6.5" fill="#4e1e0a"/><rect x="22" y="256" width="6.5" height="6.5" fill="#4c1b09"/><rect x="28" y="256" width="6.5" height="6.5" fill="#4a1908"/><rect x="34" y="256" width="6.5" height="6.5" fill="#471607"/><rect x="40" y="256" width="6.5" height="6.5" fill="#451306"/><rect x="46" y="256" width="6.5" height="6.5" fill="#431104"/><rect x="52" y="256" width="6.5" height="6.5" fill="#410e03"/><rect x="58" y="256" width="6.5" height="6.5" fill="#3f0c02"/><rect x="64" y="256" width="6.5" height="6.5" fill="#3e0a01"/><rect x="70" y="256" width="6.5" height="6.5" fill="#3c0801"/><rect x="76" y="256" width="6.5" height="6.5" fill="#3a0700"/><rect x="82" y="256" width="6.5" height="6.5" fill="#390500"/><rect x="88" y="256" width="6.5" height="6.5" fill="#380500"/><rect x="94" y="256" width="6.5" height="6.5" fill="#370400"/><rect x="100" y="256" width="6.5" height="6.5" fill="#360400"/><rect x="106" y="256" width="6.5" height="6.5" fill="#360400"/><rect x="112" y="256" width="6.5" height="6.5" fill="#360400"/><rect x="118" y="256" width="6.5" height="6.5" fill="#370500"/><rect x="124" y="256" width="6.5" height="6.5" fill="#370500"/><rect x="130" y="256" width="6.5" height="6.5" fill="#380600"/><rect x="136" y="256" width="6.5" height="6.5" fill="#390600"/><rect x="142" y="256" width="6.5" height="6.5" fill="#3a0600"/><rect x="148" y="256" width="6.5" height="6.5" fill="#3a0700"/><rect x="154" y="256" width="6.5" height="6.5" fill="#3b0700"/><rect x="160" y="256" width="6.5" height="6.5" fill="#3c0700"/><rect x="166" y="256" width="6.5" height="6.5" fill="#3e0800"/><rect x="172" y="256" width="6.5" height="6.5" fill="#400800"/><rect x="178" y="256" width="6.5" height="6.5" fill="#440800"/><rect x="184" y="256" width="6.5" height="6.5" fill="#480900"/><rect x="190" y="256" width="6.5" height="6.5" fill="#4c0900"/><rect x="196" y="256" width="6.5" height="6.5" fill="#510a00"/><rect x="202" y="256" width="6.5" height="6.5" fill="#550a00"/><rect x="208" y="256" width="6.5" height="6.5" fill="#590a00"/><rect x="214" y="256" width="6.5" height="6.5" fill="#5b0900"/><rect x="220" y="256" width="6.5" height="6.5" fill="#5c0900"/><rect x="226" y="256" width="6.5" height="6.5" fill="#5d0900"/><rect x="232" y="256" width="6.5" height="6.5" fill="#5e0900"/><rect x="238" y="256" width="6.5" height="6.5" fill="#5f0b00"/><rect x="244" y="256" width="6.5" height="6.5" fill="#610d00"/><rect x="250" y="256" width="6.5" height="6.5" fill="#651201"/><rect x="256" y="256" width="6.5" height="6.5" fill="#6c1804"/><rect x="262" y="256" width="6.5" height="6.5" fill="#751e07"/><rect x="268" y="256" width="6.5" height="6.5" fill="#7e260b"/><rect x="274" y="256" width="6.5" height="6.5" fill="#872d0f"/><rect x="280" y="256" width="6.5" height="6.5" fill="#903513"/><rect x="286" y="256" width="6.5" height="6.5" fill="#993c17"/><rect x="292" y="256" width="6.5" height="6.5" fill="#a2431b"/><rect x="298" y="256" width="6.5" height="6.5" fill="#aa4a1f"/><rect x="304" y="256" width="6.5" height="6.5" fill="#b15022"/><rect x="310" y="256" width="6.5" height="6.5" fill="#b75526"/><rect x="316" y="256" width="6.5" height="6.5" fill="#bd5b29"/><rect x="322" y="256" width="6.5" height="6.5" fill="#c3602d"/><rect x="10" y="262" width="6.5" height="6.5" fill="#4e200b"/><rect x="16" y="262" width="6.5" height="6.5" fill="#4c1d0a"/><rect x="22" y="262" width="6.5" height="6.5" fill="#4a1b09"/><rect x="28" y="262" width="6.5" height="6.5" fill="#491808"/><rect x="34" y="262" width="6.5" height="6.5" fill="#471606"/><rect x="40" y="262" width="6.5" height="6.5" fill="#451305"/><rect x="46" y="262" width="6.5" height="6.5" fill="#431104"/><rect x="52" y="262" width="6.5" height="6.5" fill="#410e03"/><rect x="58" y="262" width="6.5" height="6.5" fill="#3f0c02"/><rect x="64" y="262" width="6.5" height="6.5" fill="#3e0a02"/><rect x="70" y="262" width="6.5" height="6.5" fill="#3c0901"/><rect x="76" y="262" width="6.5" height="6.5" fill="#3b0700"/><rect x="82" y="262" width="6.5" height="6.5" fill="#390600"/><rect x="88" y="262" width="6.5" height="6.5" fill="#380500"/><rect x="94" y="262" width="6.5" height="6.5" fill="#370500"/><rect x="100" y="262" width="6.5" height="6.5" fill="#370400"/><rect x="106" y="262" width="6.5" height="6.5" fill="#360400"/><rect x="112" y="262" width="6.5" height="6.5" fill="#360400"/><rect x="118" y="262" width="6.5" height="6.5" fill="#370500"/><rect x="124" y="262" width="6.5" height="6.5" fill="#370500"/><rect x="130" y="262" width="6.5" height="6.5" fill="#380600"/><rect x="136" y="262" width="6.5" height="6.5" fill="#390600"/><rect x="142" y="262" width="6.5" height="6.5" fill="#390600"/><rect x="148" y="262" width="6.5" height="6.5" fill="#3a0700"/><rect x="154" y="262" width="6.5" height="6.5" fill="#3b0700"/><rect x="160" y="262" width="6.5" height="6.5" fill="#3c0800"/><rect x="166" y="262" width="6.5" height="6.5" fill="#3e0800"/><rect x="172" y="262" width="6.5" height="6.5" fill="#410900"/><rect x="178" y="262" width="6.5" height="6.5" fill="#450900"/><rect x="184" y="262" width="6.5" height="6.5" fill="#490a00"/><rect x="190" y="262" width="6.5" height="6.5" fill="#4e0a00"/><rect x="196" y="262" width="6.5" height="6.5" fill="#520b00"/><rect x="202" y="262" width="6.5" height="6.5" fill="#570b00"/><rect x="208" y="262" width="6.5" height="6.5" fill="#5a0b00"/><rect x="214" y="262" width="6.5" height="6.5" fill="#5c0b00"/><rect x="220" y="262" width="6.5" height="6.5" fill="#5c0b00"/><rect x="226" y="262" width="6.5" height="6.5" fill="#5d0b00"/><rect x="232" y="262" width="6.5" height="6.5" fill="#5d0b00"/><rect x="238" y="262" width="6.5" height="6.5" fill="#5f0d00"/><rect x="244" y="262" width="6.5" height="6.5" fill="#610f01"/><rect x="250" y="262" width="6.5" height="6.5" fill="#651302"/><rect x="256" y="262" width="6.5" height="6.5" fill="#6c1905"/><rect x="262" y="262" width="6.5" height="6.5" fill="#741f08"/><rect x="268" y="262" width="6.5" height="6.5" fill="#7c260c"/><rect x="274" y="262" width="6.5" height="6.5" fill="#852d0f"/><rect x="280" y="262" width="6.5" height="6.5" fill="#8e3413"/><rect x="286" y="262" width="6.5" height="6.5" fill="#973c17"/><rect x="292" y="262" width="6.5" height="6.5" fill="#9f421b"/><rect x="298" y="262" width="6.5" height="6.5" fill="#a7491f"/><rect x="304" y="262" width="6.5" height="6.5" fill="#af4f23"/><rect x="310" y="262" width="6.5" height="6.5" fill="#b55526"/><rect x="316" y="262" width="6.5" height="6.5" fill="#bb5b2a"/><rect x="322" y="262" width="6.5" height="6.5" fill="#c1602d"/><rect x="10" y="268" width="6.5" height="6.5" fill="#4d1f0a"/><rect x="16" y="268" width="6.5" height="6.5" fill="#4b1c09"/><rect x="22" y="268" width="6.5" height="6.5" fill="#491a08"/><rect x="28" y="268" width="6.5" height="6.5" fill="#481807"/><rect x="34" y="268" width="6.5" height="6.5" fill="#461506"/><rect x="40" y="268" width="6.5" height="6.5" fill="#441305"/><rect x="46" y="268" width="6.5" height="6.5" fill="#421104"/><rect x="52" y="268" width="6.5" height="6.5" fill="#410f03"/><rect x="58" y="268" width="6.5" height="6.5" fill="#3f0d03"/><rect x="64" y="268" width="6.5" height="6.5" fill="#3d0b02"/><rect x="70" y="268" width="6.5" height="6.5" fill="#3c0901"/><rect x="76" y="268" width="6.5" height="6.5" fill="#3b0801"/><rect x="82" y="268" width="6.5" height="6.5" fill="#390700"/><rect x="88" y="268" width="6.5" height="6.5" fill="#380600"/><rect x="94" y="268" width="6.5" height="6.5" fill="#380500"/><rect x="100" y="268" width="6.5" height="6.5" fill="#370500"/><rect x="106" y="268" width="6.5" height="6.5" fill="#370500"/><rect x="112" y="268" width="6.5" height="6.5" fill="#370500"/><rect x="118" y="268" width="6.5" height="6.5" fill="#370500"/><rect x="124" y="268" width="6.5" height="6.5" fill="#370500"/><rect x="130" y="268" width="6.5" height="6.5" fill="#380600"/><rect x="136" y="268" width="6.5" height="6.5" fill="#380600"/><rect x="142" y="268" width="6.5" height="6.5" fill="#390700"/><rect x="148" y="268" width="6.5" height="6.5" fill="#3a0700"/><rect x="154" y="268" width="6.5" height="6.5" fill="#3b0700"/><rect x="160" y="268" width="6.5" height="6.5" fill="#3d0800"/><rect x="166" y="268" width="6.5" height="6.5" fill="#3f0800"/><rect x="172" y="268" width="6.5" height="6.5" fill="#420900"/><rect x="178" y="268" width="6.5" height="6.5" fill="#460a00"/><rect x="184" y="268" width="6.5" height="6.5" fill="#4a0b00"/><rect x="190" y="268" width="6.5" height="6.5" fill="#4e0b00"/><rect x="196" y="268" width="6.5" height="6.5" fill="#530c00"/><rect x="202" y="268" width="6.5" height="6.5" fill="#570c00"/><rect x="208" y="268" width="6.5" height="6.5" fill="#5a0d00"/><rect x="214" y="268" width="6.5" height="6.5" fill="#5b0d00"/><rect x="220" y="268" width="6.5" height="6.5" fill="#5c0c00"/><rect x="226" y="268" width="6.5" height="6.5" fill="#5d0d00"/><rect x="232" y="268" width="6.5" height="6.5" fill="#5e0d00"/><rect x="238" y="268" width="6.5" height="6.5" fill="#5f0f01"/><rect x="244" y="268" width="6.5" height="6.5" fill="#621202"/><rect x="250" y="268" width="6.5" height="6.5" fill="#661504"/><rect x="256" y="268" width="6.5" height="6.5" fill="#6c1a06"/><rect x="262" y="268" width="6.5" height="6.5" fill="#732009"/><rect x="268" y="268" width="6.5" height="6.5" fill="#7b270d"/><rect x="274" y="268" width="6.5" height="6.5" fill="#842e10"/><rect x="280" y="268" width="6.5" height="6.5" fill="#8d3414"/><rect x="286" y="268" width="6.5" height="6.5" fill="#953b18"/><rect x="292" y="268" width="6.5" height="6.5" fill="#9d421c"/><rect x="298" y="268" width="6.5" height="6.5" fill="#a54820"/><rect x="304" y="268" width="6.5" height="6.5" fill="#ac4e23"/><rect x="310" y="268" width="6.5" height="6.5" fill="#b35427"/><rect x="316" y="268" width="6.5" height="6.5" fill="#ba5a2a"/><rect x="322" y="268" width="6.5" height="6.5" fill="#c0602e"/><rect x="10" y="274" width="6.5" height="6.5" fill="#4c1e0a"/><rect x="16" y="274" width="6.5" height="6.5" fill="#4a1c09"/><rect x="22" y="274" width="6.5" height="6.5" fill="#491a08"/><rect x="28" y="274" width="6.5" height="6.5" fill="#471707"/><rect x="34" y="274" width="6.5" height="6.5" fill="#451506"/><rect x="40" y="274" width="6.5" height="6.5" fill="#441305"/><rect x="46" y="274" width="6.5" height="6.5" fill="#421104"/><rect x="52" y="274" width="6.5" height="6.5" fill="#400f04"/><rect x="58" y="274" width="6.5" height="6.5" fill="#3f0d03"/><rect x="64" y="274" width="6.5" height="6.5" fill="#3d0b02"/><rect x="70" y="274" width="6.5" height="6.5" fill="#3c0a01"/><rect x="76" y="274" width="6.5" height="6.5" fill="#3b0801"/><rect x="82" y="274" width="6.5" height="6.5" fill="#3a0700"/><rect x="88" y="274" width="6.5" height="6.5" fill="#390600"/><rect x="94" y="274" width="6.5" height="6.5" fill="#380600"/><rect x="100" y="274" width="6.5" height="6.5" fill="#370500"/><rect x="106" y="274" width="6.5" height="6.5" fill="#370500"/><rect x="112" y="274" width="6.5" height="6.5" fill="#370500"/><rect x="118" y="274" width="6.5" height="6.5" fill="#370500"/><rect x="124" y="274" width="6.5" height="6.5" fill="#380600"/><rect x="130" y="274" width="6.5" height="6.5" fill="#380600"/><rect x="136" y="274" width="6.5" height="6.5" fill="#390600"/><rect x="142" y="274" width="6.5" height="6.5" fill="#390700"/><rect x="148" y="274" width="6.5" height="6.5" fill="#3a0700"/><rect x="154" y="274" width="6.5" height="6.5" fill="#3c0800"/><rect x="160" y="274" width="6.5" height="6.5" fill="#3d0800"/><rect x="166" y="274" width="6.5" height="6.5" fill="#400900"/><rect x="172" y="274" width="6.5" height="6.5" fill="#430a00"/><rect x="178" y="274" width="6.5" height="6.5" fill="#470b00"/><rect x="184" y="274" width="6.5" height="6.5" fill="#4b0b00"/><rect x="190" y="274" width="6.5" height="6.5" fill="#4f0c00"/><rect x="196" y="274" width="6.5" height="6.5" fill="#530d00"/><rect x="202" y="274" width="6.5" height="6.5" fill="#560d00"/><rect x="208" y="274" width="6.5" height="6.5" fill="#590e00"/><rect x="214" y="274" width="6.5" height="6.5" fill="#5b0e00"/><rect x="220" y="274" width="6.5" height="6.5" fill="#5c0e00"/><rect x="226" y="274" width="6.5" height="6.5" fill="#5d0f01"/><rect x="232" y="274" width="6.5" height="6.5" fill="#5f1001"/><rect x="238" y="274" width="6.5" height="6.5" fill="#601102"/><rect x="244" y="274" width="6.5" height="6.5" fill="#631403"/><rect x="250" y="274" width="6.5" height="6.5" fill="#681805"/><rect x="256" y="274" width="6.5" height="6.5" fill="#6d1c08"/><rect x="262" y="274" width="6.5" height="6.5" fill="#74220b"/><rect x="268" y="274" width="6.5" height="6.5" fill="#7b280e"/><rect x="274" y="274" width="6.5" height="6.5" fill="#832e11"/><rect x="280" y="274" width="6.5" height="6.5" fill="#8b3515"/><rect x="286" y="274" width="6.5" height="6.5" fill="#943b19"/><rect x="292" y="274" width="6.5" height="6.5" fill="#9c421c"/><rect x="298" y="274" width="6.5" height="6.5" fill="#a34820"/><rect x="304" y="274" width="6.5" height="6.5" fill="#aa4e24"/><rect x="310" y="274" width="6.5" height="6.5" fill="#b15427"/><rect x="316" y="274" width="6.5" height="6.5" fill="#b85a2b"/><rect x="322" y="274" width="6.5" height="6.5" fill="#be5f2e"/><rect x="10" y="280" width="6.5" height="6.5" fill="#4b1d0a"/><rect x="16" y="280" width="6.5" height="6.5" fill="#491b09"/><rect x="22" y="280" width="6.5" height="6.5" fill="#481908"/><rect x="28" y="280" width="6.5" height="6.5" fill="#461707"/><rect x="34" y="280" width="6.5" height="6.5" fill="#451506"/><rect x="40" y="280" width="6.5" height="6.5" fill="#431305"/><rect x="46" y="280" width="6.5" height="6.5" fill="#411105"/><rect x="52" y="280" width="6.5" height="6.5" fill="#400f04"/><rect x="58" y="280" width="6.5" height="6.5" fill="#3f0d03"/><rect x="64" y="280" width="6.5" height="6.5" fill="#3d0c02"/><rect x="70" y="280" width="6.5" height="6.5" fill="#3c0a02"/><rect x="76" y="280" width="6.5" height="6.5" fill="#3b0901"/><rect x="82" y="280" width="6.5" height="6.5" fill="#3a0801"/><rect x="88" y="280" width="6.5" height="6.5" fill="#390700"/><rect x="94" y="280" width="6.5" height="6.5" fill="#380600"/><rect x="100" y="280" width="6.5" height="6.5" fill="#380600"/><rect x="106" y="280" width="6.5" height="6.5" fill="#370600"/><rect x="112" y="280" width="6.5" height="6.5" fill="#370600"/><rect x="118" y="280" width="6.5" height="6.5" fill="#380600"/><rect x="124" y="280" width="6.5" height="6.5" fill="#380600"/><rect x="130" y="280" width="6.5" height="6.5" fill="#380600"/><rect x="136" y="280" width="6.5" height="6.5" fill="#390700"/><rect x="142" y="280" width="6.5" height="6.5" fill="#3a0700"/><rect x="148" y="280" width="6.5" height="6.5" fill="#3b0800"/><rect x="154" y="280" width="6.5" height="6.5" fill="#3c0800"/><rect x="160" y="280" width="6.5" height="6.5" fill="#3f0900"/><rect x="166" y="280" width="6.5" height="6.5" fill="#410a00"/><rect x="172" y="280" width="6.5" height="6.5" fill="#440a00"/><rect x="178" y="280" width="6.5" height="6.5" fill="#480b00"/><rect x="184" y="280" width="6.5" height="6.5" fill="#4b0c00"/><rect x="190" y="280" width="6.5" height="6.5" fill="#4f0d01"/><rect x="196" y="280" width="6.5" height="6.5" fill="#530e01"/><rect x="202" y="280" width="6.5" height="6.5" fill="#560e01"/><rect x="208" y="280" width="6.5" height="6.5" fill="#590f01"/><rect x="214" y="280" width="6.5" height="6.5" fill="#5b0f01"/><rect x="220" y="280" width="6.5" height="6.5" fill="#5c1001"/><rect x="226" y="280" width="6.5" height="6.5" fill="#5e1102"/><rect x="232" y="280" width="6.5" height="6.5" fill="#5f1203"/><rect x="238" y="280" width="6.5" height="6.5" fill="#621404"/><rect x="244" y="280" width="6.5" height="6.5" fill="#651605"/><rect x="250" y="280" width="6.5" height="6.5" fill="#691a07"/><rect x="256" y="280" width="6.5" height="6.5" fill="#6e1e09"/><rect x="262" y="280" width="6.5" height="6.5" fill="#74230c"/><rect x="268" y="280" width="6.5" height="6.5" fill="#7b290f"/><rect x="274" y="280" width="6.5" height="6.5" fill="#832f12"/><rect x="280" y="280" width="6.5" height="6.5" fill="#8b3516"/><rect x="286" y="280" width="6.5" height="6.5" fill="#923b19"/><rect x="292" y="280" width="6.5" height="6.5" fill="#9a421d"/><rect x="298" y="280" width="6.5" height="6.5" fill="#a24821"/><rect x="304" y="280" width="6.5" height="6.5" fill="#a94e24"/><rect x="310" y="280" width="6.5" height="6.5" fill="#b05428"/><rect x="316" y="280" width="6.5" height="6.5" fill="#b6592b"/><rect x="322" y="280" width="6.5" height="6.5" fill="#bc5f2f"/><rect x="10" y="286" width="6.5" height="6.5" fill="#4a1d0a"/><rect x="16" y="286" width="6.5" height="6.5" fill="#491b09"/><rect x="22" y="286" width="6.5" height="6.5" fill="#471908"/><rect x="28" y="286" width="6.5" height="6.5" fill="#461707"/><rect x="34" y="286" width="6.5" height="6.5" fill="#441506"/><rect x="40" y="286" width="6.5" height="6.5" fill="#431305"/><rect x="46" y="286" width="6.5" height="6.5" fill="#411105"/><rect x="52" y="286" width="6.5" height="6.5" fill="#400f04"/><rect x="58" y="286" width="6.5" height="6.5" fill="#3f0e03"/><rect x="64" y="286" width="6.5" height="6.5" fill="#3d0c03"/><rect x="70" y="286" width="6.5" height="6.5" fill="#3c0b02"/><rect x="76" y="286" width="6.5" height="6.5" fill="#3b0902"/><rect x="82" y="286" width="6.5" height="6.5" fill="#3a0801"/><rect x="88" y="286" width="6.5" height="6.5" fill="#390801"/><rect x="94" y="286" width="6.5" height="6.5" fill="#390701"/><rect x="100" y="286" width="6.5" height="6.5" fill="#380700"/><rect x="106" y="286" width="6.5" height="6.5" fill="#380600"/><rect x="112" y="286" width="6.5" height="6.5" fill="#380600"/><rect x="118" y="286" width="6.5" height="6.5" fill="#380600"/><rect x="124" y="286" width="6.5" height="6.5" fill="#380700"/><rect x="130" y="286" width="6.5" height="6.5" fill="#390700"/><rect x="136" y="286" width="6.5" height="6.5" fill="#3a0700"/><rect x="142" y="286" width="6.5" height="6.5" fill="#3b0800"/><rect x="148" y="286" width="6.5" height="6.5" fill="#3c0800"/><rect x="154" y="286" width="6.5" height="6.5" fill="#3e0900"/><rect x="160" y="286" width="6.5" height="6.5" fill="#400a00"/><rect x="166" y="286" width="6.5" height="6.5" fill="#420a00"/><rect x="172" y="286" width="6.5" height="6.5" fill="#450b01"/><rect x="178" y="286" width="6.5" height="6.5" fill="#480c01"/><rect x="184" y="286" width="6.5" height="6.5" fill="#4c0d01"/><rect x="190" y="286" width="6.5" height="6.5" fill="#4f0e01"/><rect x="196" y="286" width="6.5" height="6.5" fill="#530f01"/><rect x="202" y="286" width="6.5" height="6.5" fill="#560f01"/><rect x="208" y="286" width="6.5" height="6.5" fill="#581002"/><rect x="214" y="286" width="6.5" height="6.5" fill="#5b1102"/><rect x="220" y="286" width="6.5" height="6.5" fill="#5d1102"/><rect x="226" y="286" width="6.5" height="6.5" fill="#5e1303"/><rect x="232" y="286" width="6.5" height="6.5" fill="#601404"/><rect x="238" y="286" width="6.5" height="6.5" fill="#631605"/><rect x="244" y="286" width="6.5" height="6.5" fill="#661906"/><rect x="250" y="286" width="6.5" height="6.5" fill="#6a1c08"/><rect x="256" y="286" width="6.5" height="6.5" fill="#6f200b"/><rect x="262" y="286" width="6.5" height="6.5" fill="#75250d"/><rect x="268" y="286" width="6.5" height="6.5" fill="#7c2a10"/><rect x="274" y="286" width="6.5" height="6.5" fill="#833013"/><rect x="280" y="286" width="6.5" height="6.5" fill="#8a3617"/><rect x="286" y="286" width="6.5" height="6.5" fill="#923c1a"/><rect x="292" y="286" width="6.5" height="6.5" fill="#99421e"/><rect x="298" y="286" width="6.5" height="6.5" fill="#a04821"/><rect x="304" y="286" width="6.5" height="6.5" fill="#a74e25"/><rect x="310" y="286" width="6.5" height="6.5" fill="#ae5328"/><rect x="316" y="286" width="6.5" height="6.5" fill="#b5592c"/><rect x="322" y="286" width="6.5" height="6.5" fill="#bb5e2f"/></g>
<g filter="url(#bA2)"><line x1="92" y1="118" x2="122" y2="28" stroke="#8a4428" stroke-width="17" stroke-linecap="round" stroke-opacity="0.16"/><line x1="120" y1="130" x2="150" y2="32" stroke="#8a4428" stroke-width="17" stroke-linecap="round" stroke-opacity="0.16"/><line x1="140" y1="150" x2="168" y2="50" stroke="#8a4428" stroke-width="16" stroke-linecap="round" stroke-opacity="0.16"/><line x1="156" y1="158" x2="186" y2="90" stroke="#8a4428" stroke-width="14" stroke-linecap="round" stroke-opacity="0.16"/><line x1="70" y1="130" x2="97" y2="42" stroke="#8a4428" stroke-width="15" stroke-linecap="round" stroke-opacity="0.16"/><line x1="104" y1="140" x2="134" y2="40" stroke="#8a4428" stroke-width="14" stroke-linecap="round" stroke-opacity="0.16"/><line x1="36" y1="92" x2="66" y2="40" stroke="#8a4428" stroke-width="14" stroke-linecap="round" stroke-opacity="0.16"/><line x1="52" y1="120" x2="88" y2="56" stroke="#8a4428" stroke-width="14" stroke-linecap="round" stroke-opacity="0.16"/><line x1="166" y1="122" x2="190" y2="62" stroke="#8a4428" stroke-width="13" stroke-linecap="round" stroke-opacity="0.16"/><line x1="124" y1="34" x2="160" y2="10" stroke="#8a4428" stroke-width="14" stroke-linecap="round" stroke-opacity="0.16"/><line x1="150" y1="30" x2="186" y2="12" stroke="#8a4428" stroke-width="13" stroke-linecap="round" stroke-opacity="0.16"/><line x1="86" y1="72" x2="114" y2="22" stroke="#8a4428" stroke-width="13" stroke-linecap="round" stroke-opacity="0.16"/><line x1="93.5" y1="114" x2="121" y2="34" stroke="#f0c0a0" stroke-width="6.8181818181818175" stroke-linecap="round" stroke-opacity="0.2"/><line x1="121.5" y1="126" x2="149" y2="38" stroke="#f0c0a0" stroke-width="6.8181818181818175" stroke-linecap="round" stroke-opacity="0.2"/><line x1="141.5" y1="146" x2="167" y2="56" stroke="#f0c0a0" stroke-width="6.363636363636363" stroke-linecap="round" stroke-opacity="0.2"/><line x1="157.5" y1="154" x2="185" y2="96" stroke="#f0c0a0" stroke-width="5.454545454545454" stroke-linecap="round" stroke-opacity="0.2"/><line x1="71.5" y1="126" x2="96" y2="48" stroke="#f0c0a0" stroke-width="5.909090909090908" stroke-linecap="round" stroke-opacity="0.2"/><line x1="105.5" y1="136" x2="133" y2="46" stroke="#f0c0a0" stroke-width="5.454545454545454" stroke-linecap="round" stroke-opacity="0.2"/><line x1="37.5" y1="88" x2="65" y2="46" stroke="#f0c0a0" stroke-width="5.454545454545454" stroke-linecap="round" stroke-opacity="0.2"/><line x1="53.5" y1="116" x2="87" y2="62" stroke="#f0c0a0" stroke-width="5.454545454545454" stroke-linecap="round" stroke-opacity="0.2"/><line x1="167.5" y1="118" x2="189" y2="68" stroke="#f0c0a0" stroke-width="5.0" stroke-linecap="round" stroke-opacity="0.2"/><line x1="125.5" y1="30" x2="159" y2="16" stroke="#f0c0a0" stroke-width="5.454545454545454" stroke-linecap="round" stroke-opacity="0.2"/><line x1="151.5" y1="26" x2="185" y2="18" stroke="#f0c0a0" stroke-width="5.0" stroke-linecap="round" stroke-opacity="0.2"/><line x1="87.5" y1="68" x2="113" y2="28" stroke="#f0c0a0" stroke-width="5.0" stroke-linecap="round" stroke-opacity="0.2"/></g>
<path d="M206,6 Q201,30 190,46" stroke="#3e2418" stroke-width="2.6" fill="none" filter="url(#bA1)" opacity="0.55"/>
<path d="M220,6 Q214,36 201,56" stroke="#4a2a1e" stroke-width="2" fill="none" filter="url(#bA1)" opacity="0.45"/>
<path d="M72,244 Q112,232 142,275" stroke="#95452a" stroke-width="3" fill="none" filter="url(#bA2)" opacity="0.6"/>
<ellipse cx="50" cy="114" rx="7" ry="9" fill="#e8c4b0" filter="url(#bA2)"/>
<rect x="10" y="-20" width="320" height="310" fill="url(#vigA)"/>
</g></g>
<text x="354.6" y="16.1" font-size="22.5" font-weight="bold" fill="#000">B</text>
<defs>
<clipPath id="clipB"><rect x="392" y="4.4" width="230" height="279.6"/></clipPath>
<clipPath id="clipL"><polygon points="486.2,17.3 499.9,19.9 520.5,23.0 538.6,33.2 553.8,45.2 559.2,64.3 547.5,85.5 531.6,100.8 501.5,95.0 484.6,89.0 462.4,88.7 450.7,81.7 439.6,85.9 426.3,96.6 416.7,80.8 415.2,62.7 429.4,48.4 442.1,53.8 458.0,33.5"/></clipPath>
<clipPath id="clip3"><polygon points="598.2,140.3 600.4,154.6 607.1,176.8 611.9,183.2 615.0,196.8 610.9,219.7 596.0,214.3 583.3,214.3 579.2,204.4 554.4,194.3 542.7,191.1 538.9,179.0 552.2,173.7 569.7,173.7 590.3,173.0 591.9,162.6 582.4,152.1"/></clipPath>
<clipPath id="clip4"><polygon points="573.5,220.3 576.6,227.9 573.5,240.3 572.2,256.1 566.5,268.2 560.8,260.0 550.0,279.3 542.7,262.5 542.7,243.5 543.6,233.3 550.6,225.1"/></clipPath>
<clipPath id="clip2"><polygon points="569.7,26.8 580.8,33.2 586.2,52.2 595.0,71.6 596.0,89.7 588.7,103.0 586.5,82.7 569.7,68.1 562.7,35.7"/></clipPath>
<filter id="bB1" x="-20%" y="-20%" width="140%" height="140%" color-interpolation-filters="sRGB"><feGaussianBlur stdDeviation="1"/></filter>
<filter id="bB2" x="-30%" y="-30%" width="160%" height="160%" color-interpolation-filters="sRGB"><feGaussianBlur stdDeviation="2"/></filter>
<filter id="bB4" x="-50%" y="-50%" width="200%" height="200%" color-interpolation-filters="sRGB"><feGaussianBlur stdDeviation="4"/></filter>
<filter id="bB8" x="-50%" y="-50%" width="200%" height="200%" color-interpolation-filters="sRGB"><feGaussianBlur stdDeviation="8"/></filter>
<filter id="noiseB" x="0" y="0" width="100%" height="100%">
<feTurbulence type="fractalNoise" baseFrequency="0.5" numOctaves="2" seed="3"/>
<feColorMatrix type="matrix" values="0 0 0 0 1  0 0 0 0 1  0 0 0 0 1  1.6 0 0 0 -0.7" />
</filter>
<filter id="noiseD" x="0" y="0" width="100%" height="100%">
<feTurbulence type="fractalNoise" baseFrequency="0.5" numOctaves="2" seed="11"/>
<feColorMatrix type="matrix" values="0 0 0 0 0  0 0 0 0 0  0 0 0 0 0  1.6 0 0 0 -0.7" />
</filter>
<filter id="blobW" x="0" y="0" width="100%" height="100%">
<feTurbulence type="fractalNoise" baseFrequency="0.22" numOctaves="2" seed="5"/>
<feColorMatrix type="matrix" values="0 0 0 0 1  0 0 0 0 1  0 0 0 0 1  4.5 0 0 0 -2.2" />
</filter>
<filter id="blobK" x="0" y="0" width="100%" height="100%">
<feTurbulence type="fractalNoise" baseFrequency="0.22" numOctaves="2" seed="9"/>
<feColorMatrix type="matrix" values="0 0 0 0 0  0 0 0 0 0  0 0 0 0 0  4.5 0 0 0 -2.2" />
</filter>
<filter id="mottle" x="0" y="0" width="100%" height="100%">
<feTurbulence type="fractalNoise" baseFrequency="0.09" numOctaves="3" seed="21"/>
<feColorMatrix type="matrix" values="0 0 0 0 1  0 0 0 0 1  0 0 0 0 1  3.0 0 0 0 -1.55" />
</filter>
</defs>
<g clip-path="url(#clipB)">
<rect x="392" y="4" width="230" height="280" fill="#474747"/>
<!-- upper area -->
<path d="M398,4 L480,4 L480,14 L440,45 L410,70 Z" fill="#5c5c5c" filter="url(#bB8)"/>
<path d="M490,4 L600,4 L598,30 L560,40 L520,20 Z" fill="#353535" filter="url(#bB4)"/>
<ellipse cx="428" cy="28" rx="14" ry="20" fill="#686868" filter="url(#bB8)"/>
<!-- left band -->
<linearGradient id="bandG" x1="0" y1="0" x2="0" y2="1"><stop offset="0" stop-color="#5a5a5a"/><stop offset="0.5" stop-color="#505050"/><stop offset="1" stop-color="#3e3e3e"/></linearGradient>
<path d="M394,4 L430,4 L431,90 L432,168 L441,207 L449,284 L418,284 Z" fill="url(#bandG)" filter="url(#bB2)"/>
<!-- left dark strip -->
<path d="M392,4 L396,4 L397,110 C399,135 405,155 410,170 C413,185 416,210 419,246 L421,284 L392,284 Z" fill="#1b1b1b" filter="url(#bB2)"/>
<!-- right strip -->
<path d="M596,4 L622,4 L622,284 L598,284 L600,180 L594,100 Z" fill="#555555" filter="url(#bB2)"/>
<path d="M607,4 L608,110 L611,200 L613,284" stroke="#262626" stroke-width="2.2" fill="none" filter="url(#bB1)"/>
<!-- femur -->
<path d="M438,96 C445,92 520,96 548,86 C570,80 590,100 595,125 C598,150 590,165 575,166 C560,168 535,160 525,152 C515,150 505,158 496,158 C480,165 460,170 447,160 C438,140 436,115 438,96 Z" fill="#303030" stroke="#1e1e1e" stroke-width="2.5" filter="url(#bB2)"/>
<!-- notch -->
<path d="M492,118 L516,114 L522,150 L512,166 L494,162 Z" fill="#4a4a4a" filter="url(#bB2)"/>
<ellipse cx="502" cy="128" rx="5" ry="6" fill="#262626" filter="url(#bB2)"/>
<path d="M496,140 Q505,132 514,138 L512,150 Q503,146 497,152 Z" fill="#7a7a7a" filter="url(#bB1)"/>
<!-- bright zone under lesion -->
<ellipse cx="465" cy="97" rx="26" ry="6" fill="#7c7c7c" filter="url(#bB4)"/>
<ellipse cx="425" cy="112" rx="4" ry="14" fill="#8a8a8a" filter="url(#bB2)"/>
<path d="M433,96 L436,160 L444,230 L450,262" stroke="#1a1a1a" stroke-width="2.6" fill="none" filter="url(#bB1)"/>
<path d="M441,172 L445,225 L449,250" stroke="#8a8a8a" stroke-width="3" fill="none" filter="url(#bB1)"/>
<!-- tibia -->
<path d="M450,176 C470,182 520,175 545,182 L575,210 L590,284 L452,284 Z" fill="#2b2b2b" filter="url(#bB4)"/>
<path d="M455,250 L530,250 L545,284 L450,284 Z" fill="#3e3e3e" filter="url(#bB8)"/>
<path d="M580,214 L610,214 L614,284 L582,284 Z" fill="#767676" filter="url(#bB4)"/>
<!-- menisci -->
<path d="M444,162 Q472,176 498,160 Q496,174 472,179 Q452,176 444,162 Z" fill="#c8c8c8" filter="url(#bB1)"/>
<path d="M523,155 Q546,172 586,170 Q572,178 548,174 Q530,168 523,155 Z" fill="#cccccc" filter="url(#bB1)"/>
<!-- lesion -->
<polygon points="486.2,17.3 499.9,19.9 520.5,23.0 538.6,33.2 553.8,45.2 559.2,64.3 547.5,85.5 531.6,100.8 501.5,95.0 484.6,89.0 462.4,88.7 450.7,81.7 439.6,85.9 426.3,96.6 416.7,80.8 415.2,62.7 429.4,48.4 442.1,53.8 458.0,33.5" fill="#3a3a3a" filter="url(#bB1)"/>
<path d="M432,62 L445,52 L458,44 L470,30 L487,26 L505,29 L522,36 L537,47 L549,62 L550,76 L541,88 L526,93 L504,88 L482,83 L462,81 L446,79 L432,76 Z" fill="#1b1b1b" filter="url(#bB4)"/>
<g clip-path="url(#clipL)">
<rect x="410" y="15" width="155" height="90" filter="url(#mottle)" opacity="0.22"/>
<ellipse cx="428" cy="82" rx="8" ry="8" fill="#8a8a8a" filter="url(#bB2)"/>
<ellipse cx="420" cy="70" rx="5" ry="8" fill="#6a6a6a" filter="url(#bB2)"/>
<ellipse cx="530" cy="95" rx="5" ry="4" fill="#7a7a7a" filter="url(#bB1)"/>
<ellipse cx="487" cy="88" rx="4" ry="3" fill="#6a6a6a" filter="url(#bB1)"/>
<ellipse cx="510" cy="62" rx="8" ry="14" fill="#3c3c3c" filter="url(#bB4)"/>
</g>
<!-- poly2 -->
<polygon points="569.7,26.8 580.8,33.2 586.2,52.2 595.0,71.6 596.0,89.7 588.7,103.0 586.5,82.7 569.7,68.1 562.7,35.7" fill="#505050" filter="url(#bB1)"/>
<ellipse cx="578" cy="48" rx="4" ry="10" fill="#d8d8d8" filter="url(#bB1)"/>
<ellipse cx="584" cy="74" rx="6" ry="6" fill="#d0d0d0" filter="url(#bB1)"/>
<ellipse cx="571" cy="42" rx="4" ry="6" fill="#2a2a2a" filter="url(#bB1)"/>
<!-- poly3 -->
<polygon points="598.2,140.3 600.4,154.6 607.1,176.8 611.9,183.2 615.0,196.8 610.9,219.7 596.0,214.3 583.3,214.3 579.2,204.4 554.4,194.3 542.7,191.1 538.9,179.0 552.2,173.7 569.7,173.7 590.3,173.0 591.9,162.6 582.4,152.1" fill="#585858" filter="url(#bB1)"/>
<ellipse cx="595" cy="196" rx="9" ry="12" fill="#282828" filter="url(#bB2)"/>
<ellipse cx="606" cy="206" rx="4" ry="5" fill="#9a9a9a" filter="url(#bB1)"/>
<ellipse cx="560" cy="184" rx="10" ry="5" fill="#707070" filter="url(#bB2)"/>
<!-- poly4 -->
<polygon points="573.5,220.3 576.6,227.9 573.5,240.3 572.2,256.1 566.5,268.2 560.8,260.0 550.0,279.3 542.7,262.5 542.7,243.5 543.6,233.3 550.6,225.1" fill="#545454" filter="url(#bB1)"/>
<ellipse cx="563" cy="244" rx="4" ry="5" fill="#b4b4b4" filter="url(#bB1)"/>
<ellipse cx="552" cy="264" rx="4" ry="4" fill="#a0a0a0" filter="url(#bB1)"/>
<ellipse cx="557" cy="238" rx="4" ry="3" fill="#2a2a2a" filter="url(#bB1)"/>
<g clip-path="url(#clip3)"><rect x="536" y="138" width="82" height="84" filter="url(#blobW)" opacity="0.42"/><rect x="536" y="138" width="82" height="84" filter="url(#blobK)" opacity="0.5"/></g>
<g clip-path="url(#clip4)"><rect x="540" y="218" width="40" height="64" filter="url(#blobW)" opacity="0.5"/><rect x="540" y="218" width="40" height="64" filter="url(#blobK)" opacity="0.4"/></g>
<rect x="392" y="4" width="230" height="280" filter="url(#blobW)" opacity="0.1"/>
<rect x="392" y="4" width="230" height="280" filter="url(#blobK)" opacity="0.12"/>
<!-- noise -->
<rect x="392" y="4" width="230" height="280" filter="url(#noiseB)" opacity="0.16"/>
<rect x="392" y="4" width="230" height="280" filter="url(#noiseD)" opacity="0.16"/>
</g>
<polygon points="486.2,17.3 499.9,19.9 520.5,23.0 538.6,33.2 553.8,45.2 559.2,64.3 547.5,85.5 531.6,100.8 501.5,95.0 484.6,89.0 462.4,88.7 450.7,81.7 439.6,85.9 426.3,96.6 416.7,80.8 415.2,62.7 429.4,48.4 442.1,53.8 458.0,33.5" fill="none" stroke="#1d9a1d" stroke-width="1.3" stroke-linejoin="round"/>
<circle cx="486.2" cy="17.3" r="2.1" fill="#1d9a1d"/>
<circle cx="499.9" cy="19.9" r="2.1" fill="#1d9a1d"/>
<circle cx="520.5" cy="23.0" r="2.1" fill="#1d9a1d"/>
<circle cx="538.6" cy="33.2" r="2.1" fill="#1d9a1d"/>
<circle cx="553.8" cy="45.2" r="2.1" fill="#1d9a1d"/>
<circle cx="559.2" cy="64.3" r="2.1" fill="#1d9a1d"/>
<circle cx="547.5" cy="85.5" r="2.1" fill="#1d9a1d"/>
<circle cx="531.6" cy="100.8" r="2.1" fill="#1d9a1d"/>
<circle cx="501.5" cy="95.0" r="2.1" fill="#1d9a1d"/>
<circle cx="484.6" cy="89.0" r="2.1" fill="#1d9a1d"/>
<circle cx="462.4" cy="88.7" r="2.1" fill="#1d9a1d"/>
<circle cx="450.7" cy="81.7" r="2.1" fill="#1d9a1d"/>
<circle cx="439.6" cy="85.9" r="2.1" fill="#1d9a1d"/>
<circle cx="426.3" cy="96.6" r="2.1" fill="#1d9a1d"/>
<circle cx="416.7" cy="80.8" r="2.1" fill="#1d9a1d"/>
<circle cx="415.2" cy="62.7" r="2.1" fill="#1d9a1d"/>
<circle cx="429.4" cy="48.4" r="2.1" fill="#1d9a1d"/>
<circle cx="442.1" cy="53.8" r="2.1" fill="#1d9a1d"/>
<circle cx="458.0" cy="33.5" r="2.1" fill="#1d9a1d"/>
<polygon points="569.7,26.8 580.8,33.2 586.2,52.2 595.0,71.6 596.0,89.7 588.7,103.0 586.5,82.7 569.7,68.1 562.7,35.7" fill="none" stroke="#1d9a1d" stroke-width="1.3" stroke-linejoin="round"/>
<circle cx="569.7" cy="26.8" r="2.1" fill="#1d9a1d"/>
<circle cx="580.8" cy="33.2" r="2.1" fill="#1d9a1d"/>
<circle cx="586.2" cy="52.2" r="2.1" fill="#1d9a1d"/>
<circle cx="595.0" cy="71.6" r="2.1" fill="#1d9a1d"/>
<circle cx="596.0" cy="89.7" r="2.1" fill="#1d9a1d"/>
<circle cx="588.7" cy="103.0" r="2.1" fill="#1d9a1d"/>
<circle cx="586.5" cy="82.7" r="2.1" fill="#1d9a1d"/>
<circle cx="569.7" cy="68.1" r="2.1" fill="#1d9a1d"/>
<circle cx="562.7" cy="35.7" r="2.1" fill="#1d9a1d"/>
<polygon points="598.2,140.3 600.4,154.6 607.1,176.8 611.9,183.2 615.0,196.8 610.9,219.7 596.0,214.3 583.3,214.3 579.2,204.4 554.4,194.3 542.7,191.1 538.9,179.0 552.2,173.7 569.7,173.7 590.3,173.0 591.9,162.6 582.4,152.1" fill="none" stroke="#1d9a1d" stroke-width="1.3" stroke-linejoin="round"/>
<circle cx="598.2" cy="140.3" r="2.1" fill="#1d9a1d"/>
<circle cx="600.4" cy="154.6" r="2.1" fill="#1d9a1d"/>
<circle cx="607.1" cy="176.8" r="2.1" fill="#1d9a1d"/>
<circle cx="611.9" cy="183.2" r="2.1" fill="#1d9a1d"/>
<circle cx="615.0" cy="196.8" r="2.1" fill="#1d9a1d"/>
<circle cx="610.9" cy="219.7" r="2.1" fill="#1d9a1d"/>
<circle cx="596.0" cy="214.3" r="2.1" fill="#1d9a1d"/>
<circle cx="583.3" cy="214.3" r="2.1" fill="#1d9a1d"/>
<circle cx="579.2" cy="204.4" r="2.1" fill="#1d9a1d"/>
<circle cx="554.4" cy="194.3" r="2.1" fill="#1d9a1d"/>
<circle cx="542.7" cy="191.1" r="2.1" fill="#1d9a1d"/>
<circle cx="538.9" cy="179.0" r="2.1" fill="#1d9a1d"/>
<circle cx="552.2" cy="173.7" r="2.1" fill="#1d9a1d"/>
<circle cx="569.7" cy="173.7" r="2.1" fill="#1d9a1d"/>
<circle cx="590.3" cy="173.0" r="2.1" fill="#1d9a1d"/>
<circle cx="591.9" cy="162.6" r="2.1" fill="#1d9a1d"/>
<circle cx="582.4" cy="152.1" r="2.1" fill="#1d9a1d"/>
<polygon points="573.5,220.3 576.6,227.9 573.5,240.3 572.2,256.1 566.5,268.2 560.8,260.0 550.0,279.3 542.7,262.5 542.7,243.5 543.6,233.3 550.6,225.1" fill="none" stroke="#1d9a1d" stroke-width="1.3" stroke-linejoin="round"/>
<circle cx="573.5" cy="220.3" r="2.1" fill="#1d9a1d"/>
<circle cx="576.6" cy="227.9" r="2.1" fill="#1d9a1d"/>
<circle cx="573.5" cy="240.3" r="2.1" fill="#1d9a1d"/>
<circle cx="572.2" cy="256.1" r="2.1" fill="#1d9a1d"/>
<circle cx="566.5" cy="268.2" r="2.1" fill="#1d9a1d"/>
<circle cx="560.8" cy="260.0" r="2.1" fill="#1d9a1d"/>
<circle cx="550.0" cy="279.3" r="2.1" fill="#1d9a1d"/>
<circle cx="542.7" cy="262.5" r="2.1" fill="#1d9a1d"/>
<circle cx="542.7" cy="243.5" r="2.1" fill="#1d9a1d"/>
<circle cx="543.6" cy="233.3" r="2.1" fill="#1d9a1d"/>
<circle cx="550.6" cy="225.1" r="2.1" fill="#1d9a1d"/>
<text x="7.0" y="327.2" font-size="22.5" font-weight="bold" fill="#000">C</text>
<line x1="107.20" y1="534.41" x2="103.78" y2="376.36" stroke="#c4c4c4" stroke-width="0.9"/>
<line x1="139.37" y1="535.03" x2="137.62" y2="375.92" stroke="#c4c4c4" stroke-width="0.9"/>
<line x1="171.97" y1="535.66" x2="171.93" y2="375.46" stroke="#c4c4c4" stroke-width="0.9"/>
<line x1="205.01" y1="536.30" x2="206.73" y2="375.01" stroke="#c4c4c4" stroke-width="0.9"/>
<line x1="238.49" y1="536.95" x2="242.03" y2="374.54" stroke="#c4c4c4" stroke-width="0.9"/>
<line x1="91.61" y1="380.36" x2="256.87" y2="378.31" stroke="#c4c4c4" stroke-width="0.9"/>
<line x1="92.60" y1="419.28" x2="255.81" y2="418.57" stroke="#c4c4c4" stroke-width="0.9"/>
<line x1="93.57" y1="457.26" x2="254.77" y2="457.82" stroke="#c4c4c4" stroke-width="0.9"/>
<line x1="94.51" y1="494.34" x2="253.75" y2="496.11" stroke="#c4c4c4" stroke-width="0.9"/>
<line x1="95.43" y1="530.54" x2="252.76" y2="533.46" stroke="#c4c4c4" stroke-width="0.9"/>
<line x1="38.63" y1="586.37" x2="27.47" y2="338.87" stroke="#c4c4c4" stroke-width="0.9"/>
<line x1="51.94" y1="574.16" x2="42.79" y2="347.88" stroke="#c4c4c4" stroke-width="0.9"/>
<line x1="63.21" y1="563.82" x2="55.59" y2="355.41" stroke="#c4c4c4" stroke-width="0.9"/>
<line x1="72.87" y1="554.96" x2="66.45" y2="361.79" stroke="#c4c4c4" stroke-width="0.9"/>
<line x1="81.25" y1="547.28" x2="75.78" y2="367.28" stroke="#c4c4c4" stroke-width="0.9"/>
<line x1="88.58" y1="540.56" x2="83.88" y2="372.04" stroke="#c4c4c4" stroke-width="0.9"/>
<line x1="95.05" y1="534.63" x2="90.98" y2="376.21" stroke="#c4c4c4" stroke-width="0.9"/>
<line x1="26.23" y1="344.22" x2="91.61" y2="380.36" stroke="#c4c4c4" stroke-width="0.9"/>
<line x1="29.10" y1="407.15" x2="92.60" y2="419.28" stroke="#c4c4c4" stroke-width="0.9"/>
<line x1="31.85" y1="467.66" x2="93.57" y2="457.26" stroke="#c4c4c4" stroke-width="0.9"/>
<line x1="34.51" y1="525.88" x2="94.51" y2="494.34" stroke="#c4c4c4" stroke-width="0.9"/>
<line x1="37.06" y1="581.96" x2="95.43" y2="530.54" stroke="#c4c4c4" stroke-width="0.9"/>
<line x1="107.20" y1="534.41" x2="55.37" y2="588.13" stroke="#c4c4c4" stroke-width="0.9"/>
<line x1="139.37" y1="535.03" x2="105.41" y2="589.66" stroke="#c4c4c4" stroke-width="0.9"/>
<line x1="171.97" y1="535.66" x2="156.51" y2="591.23" stroke="#c4c4c4" stroke-width="0.9"/>
<line x1="205.01" y1="536.30" x2="208.69" y2="592.83" stroke="#c4c4c4" stroke-width="0.9"/>
<line x1="238.49" y1="536.95" x2="261.98" y2="594.47" stroke="#c4c4c4" stroke-width="0.9"/>
<line x1="38.63" y1="586.37" x2="283.94" y2="593.84" stroke="#c4c4c4" stroke-width="0.9"/>
<line x1="51.94" y1="574.16" x2="276.52" y2="580.41" stroke="#c4c4c4" stroke-width="0.9"/>
<line x1="63.21" y1="563.82" x2="270.29" y2="569.13" stroke="#c4c4c4" stroke-width="0.9"/>
<line x1="72.87" y1="554.96" x2="264.98" y2="559.52" stroke="#c4c4c4" stroke-width="0.9"/>
<line x1="81.25" y1="547.28" x2="260.41" y2="551.24" stroke="#c4c4c4" stroke-width="0.9"/>
<line x1="88.58" y1="540.56" x2="256.42" y2="544.03" stroke="#c4c4c4" stroke-width="0.9"/>
<line x1="95.05" y1="534.63" x2="252.92" y2="537.69" stroke="#c4c4c4" stroke-width="0.9"/>
<circle cx="112.6" cy="378.0" r="5.8" fill="#1f77b4" fill-opacity="0.82"/>
<circle cx="145.6" cy="373.6" r="5.8" fill="#1f77b4" fill-opacity="0.82"/>
<circle cx="120.55" cy="420.8" r="5.8" fill="#1f77b4" fill-opacity="0.82"/>
<circle cx="127.4" cy="421.4" r="5.8" fill="#1f77b4" fill-opacity="0.82"/>
<circle cx="117.5" cy="450.5" r="5.8" fill="#1f77b4" fill-opacity="0.82"/>
<circle cx="108.6" cy="472.5" r="5.8" fill="#1f77b4" fill-opacity="0.82"/>
<circle cx="99.4" cy="489.9" r="5.8" fill="#1f77b4" fill-opacity="0.82"/>
<circle cx="137.2" cy="507" r="5.8" fill="#1f77b4" fill-opacity="0.82"/>
<circle cx="117.2" cy="538.4" r="5.8" fill="#1f77b4" fill-opacity="0.82"/>
<circle cx="114.4" cy="541.9" r="5.8" fill="#1f77b4" fill-opacity="0.82"/>
<circle cx="200.7" cy="404.1" r="5.8" fill="#ff7f0e" fill-opacity="0.82"/>
<circle cx="190.4" cy="423.8" r="5.8" fill="#ff7f0e" fill-opacity="0.82"/>
<circle cx="223.7" cy="441.4" r="5.8" fill="#ff7f0e" fill-opacity="0.82"/>
<circle cx="212.2" cy="453.3" r="5.8" fill="#ff7f0e" fill-opacity="0.82"/>
<circle cx="226.5" cy="457.2" r="5.8" fill="#ff7f0e" fill-opacity="0.82"/>
<circle cx="214.9" cy="461.5" r="5.8" fill="#ff7f0e" fill-opacity="0.82"/>
<circle cx="181" cy="480.7" r="5.8" fill="#ff7f0e" fill-opacity="0.82"/>
<circle cx="223.9" cy="488.9" r="5.8" fill="#ff7f0e" fill-opacity="0.82"/>
<circle cx="216.4" cy="504.4" r="5.8" fill="#ff7f0e" fill-opacity="0.82"/>
<circle cx="221.6" cy="521.3" r="5.8" fill="#ff7f0e" fill-opacity="0.82"/>
<text x="167" y="335.7" font-size="10.8" fill="#444" text-anchor="middle">PCA</text>
<circle cx="292.4" cy="340.6" r="6.3" fill="#1f77b4" fill-opacity="0.82"/>
<circle cx="292.4" cy="355.6" r="6.3" fill="#ff7f0e" fill-opacity="0.82"/>
<text x="303.6" y="345.2" font-size="13.6" fill="#444">C</text>
<text x="304.4" y="360.2" font-size="13.6" fill="#444">P</text>
<text transform="translate(48.99,594.75) rotate(-46.0)" text-anchor="middle" dy="2.87" font-size="8.2" fill="#444">20</text>
<text transform="translate(100.56,597.48) rotate(-58.1)" text-anchor="middle" dy="2.87" font-size="8.2" fill="#444">10</text>
<text transform="translate(154.04,600.09) rotate(-74.5)" text-anchor="middle" dy="2.87" font-size="8.2" fill="#444">0</text>
<text transform="translate(209.28,602.01) rotate(86.3)" text-anchor="middle" dy="2.87" font-size="8.2" fill="#444">−10</text>
<text transform="translate(265.46,602.99) rotate(67.8)" text-anchor="middle" dy="2.87" font-size="8.2" fill="#444">−20</text>
<text transform="translate(265.42,537.94) rotate(1.1)" text-anchor="middle" dy="2.87" font-size="8.2" fill="#444">−15</text>
<text transform="translate(270.12,544.31) rotate(1.2)" text-anchor="middle" dy="2.87" font-size="8.2" fill="#444">−10</text>
<text transform="translate(275.30,551.57) rotate(1.3)" text-anchor="middle" dy="2.87" font-size="8.2" fill="#444">−5</text>
<text transform="translate(281.08,559.90) rotate(1.4)" text-anchor="middle" dy="2.87" font-size="8.2" fill="#444">0</text>
<text transform="translate(287.58,569.57) rotate(1.5)" text-anchor="middle" dy="2.87" font-size="8.2" fill="#444">5</text>
<text transform="translate(295.01,580.92) rotate(1.6)" text-anchor="middle" dy="2.87" font-size="8.2" fill="#444">10</text>
<text transform="translate(303.63,594.44) rotate(1.7)" text-anchor="middle" dy="2.87" font-size="8.2" fill="#444">15</text>
<text transform="translate(18.88,340.16) rotate(28.9)" text-anchor="middle" dy="2.87" font-size="8.2" fill="#444">10</text>
<text transform="translate(20.85,405.57) rotate(10.8)" text-anchor="middle" dy="2.87" font-size="8.2" fill="#444">5</text>
<text transform="translate(23.57,469.05) rotate(-9.6)" text-anchor="middle" dy="2.87" font-size="8.2" fill="#444">0</text>
<text transform="translate(27.07,529.79) rotate(-27.7)" text-anchor="middle" dy="2.87" font-size="8.2" fill="#444">−5</text>
<text transform="translate(30.76,587.51) rotate(-41.4)" text-anchor="middle" dy="2.87" font-size="8.2" fill="#444">−10</text>
<text x="150.9" y="614.6" font-size="9.8" fill="#444" text-anchor="middle">PC1(38.3%)</text>
<text transform="translate(305,561) rotate(62)" font-size="9.8" fill="#444" text-anchor="middle" dy="3.4">PC2(12.4%)</text>
<text transform="translate(10.5,472) rotate(90)" font-size="9.8" fill="#444" text-anchor="middle" dy="3.4">PC3(6.93%)</text>
<text x="348" y="327.1" font-size="22.5" font-weight="bold" fill="#000">D</text>
<path d="M379.30,317.4V622.70M379.3,317.40H684.60M394.56,317.4V622.70M379.3,332.66H684.60M409.83,317.4V622.70M379.3,347.93H684.60M425.10,317.4V622.70M379.3,363.19H684.60M440.36,317.4V622.70M379.3,378.46H684.60M455.62,317.4V622.70M379.3,393.72H684.60M470.89,317.4V622.70M379.3,408.99H684.60M486.16,317.4V622.70M379.3,424.25H684.60M501.42,317.4V622.70M379.3,439.52H684.60M516.68,317.4V622.70M379.3,454.78H684.60M531.95,317.4V622.70M379.3,470.05H684.60M547.22,317.4V622.70M379.3,485.31H684.60M562.48,317.4V622.70M379.3,500.58H684.60M577.75,317.4V622.70M379.3,515.85H684.60M593.01,317.4V622.70M379.3,531.11H684.60M608.28,317.4V622.70M379.3,546.38H684.60M623.54,317.4V622.70M379.3,561.64H684.60M638.81,317.4V622.70M379.3,576.90H684.60M654.07,317.4V622.70M379.3,592.17H684.60M669.34,317.4V622.70M379.3,607.43H684.60M684.60,317.4V622.70M379.3,622.70H684.60" stroke="#c8c8c8" stroke-width="0.9" fill="none"/>
<circle cx="386.93" cy="325.03" r="7.25" fill="#e34a33"/>
<text x="386.93" y="327.53" font-size="6.2" fill="#fff" fill-opacity="0.8" text-anchor="middle">***</text>
<circle cx="402.20" cy="325.03" r="6.92" fill="#e34a33"/>
<text x="402.20" y="327.53" font-size="6.2" fill="#fff" fill-opacity="0.8" text-anchor="middle">***</text>
<circle cx="417.46" cy="325.03" r="7.03" fill="#e34a33"/>
<text x="417.46" y="327.53" font-size="6.2" fill="#fff" fill-opacity="0.8" text-anchor="middle">***</text>
<circle cx="432.73" cy="325.03" r="6.84" fill="#e34a33"/>
<text x="432.73" y="327.53" font-size="6.2" fill="#fff" fill-opacity="0.8" text-anchor="middle">***</text>
<circle cx="447.99" cy="325.03" r="6.95" fill="#e34a33"/>
<text x="447.99" y="327.53" font-size="6.2" fill="#fff" fill-opacity="0.8" text-anchor="middle">***</text>
<circle cx="463.26" cy="325.03" r="6.95" fill="#e34a33"/>
<text x="463.26" y="327.53" font-size="6.2" fill="#fff" fill-opacity="0.8" text-anchor="middle">***</text>
<circle cx="478.52" cy="325.03" r="6.84" fill="#e34a33"/>
<text x="478.52" y="327.53" font-size="6.2" fill="#fff" fill-opacity="0.8" text-anchor="middle">***</text>
<circle cx="493.79" cy="325.03" r="6.76" fill="#e34a33"/>
<text x="493.79" y="327.53" font-size="6.2" fill="#fff" fill-opacity="0.8" text-anchor="middle">***</text>
<circle cx="509.05" cy="325.03" r="6.36" fill="#e34a33"/>
<text x="509.05" y="327.53" font-size="6.2" fill="#fff" fill-opacity="0.8" text-anchor="middle">***</text>
<circle cx="524.32" cy="325.03" r="6.48" fill="#e34a33"/>
<text x="524.32" y="327.53" font-size="6.2" fill="#fff" fill-opacity="0.8" text-anchor="middle">***</text>
<circle cx="539.58" cy="325.03" r="3.77" fill="#f28a6a"/>
<text x="539.58" y="327.53" font-size="6.2" fill="#fff" fill-opacity="0.8" text-anchor="middle">***</text>
<circle cx="554.85" cy="325.03" r="3.40" fill="#f28a6a"/>
<text x="554.85" y="327.53" font-size="6.2" fill="#fff" fill-opacity="0.8" text-anchor="middle">***</text>
<circle cx="570.11" cy="325.03" r="3.24" fill="#f28a6a"/>
<text x="570.11" y="327.53" font-size="6.2" fill="#fff" fill-opacity="0.8" text-anchor="middle">***</text>
<circle cx="585.38" cy="325.03" r="3.24" fill="#f28a6a"/>
<text x="585.38" y="327.53" font-size="6.2" fill="#fff" fill-opacity="0.8" text-anchor="middle">***</text>
<circle cx="600.64" cy="325.03" r="3.40" fill="#f28a6a"/>
<text x="600.64" y="327.53" font-size="6.2" fill="#fff" fill-opacity="0.8" text-anchor="middle">***</text>
<circle cx="615.91" cy="325.03" r="2.99" fill="#c9c3a8"/>
<text x="615.91" y="327.53" font-size="6.2" fill="#fff" fill-opacity="0.8" text-anchor="middle">***</text>
<circle cx="631.17" cy="325.03" r="3.16" fill="#c9c3a8"/>
<text x="631.17" y="327.53" font-size="6.2" fill="#fff" fill-opacity="0.8" text-anchor="middle">***</text>
<circle cx="646.44" cy="325.03" r="3.70" fill="#f28a6a"/>
<text x="646.44" y="327.53" font-size="6.2" fill="#fff" fill-opacity="0.8" text-anchor="middle">***</text>
<circle cx="661.70" cy="325.03" r="3.32" fill="#f28a6a"/>
<text x="661.70" y="327.53" font-size="6.2" fill="#fff" fill-opacity="0.8" text-anchor="middle">***</text>
<circle cx="676.97" cy="325.03" r="3.24" fill="#c9c3a8"/>
<text x="676.97" y="327.53" font-size="6.2" fill="#fff" fill-opacity="0.8" text-anchor="middle">***</text>
<text x="386.93" y="342.10" font-size="5.2" font-weight="bold" fill="#e0402a" text-anchor="middle">0.91</text>
<circle cx="402.20" cy="340.30" r="7.25" fill="#e34a33"/>
<text x="402.20" y="342.80" font-size="6.2" fill="#fff" fill-opacity="0.8" text-anchor="middle">***</text>
<circle cx="417.46" cy="340.30" r="6.80" fill="#e34a33"/>
<text x="417.46" y="342.80" font-size="6.2" fill="#fff" fill-opacity="0.8" text-anchor="middle">***</text>
<circle cx="432.73" cy="340.30" r="6.76" fill="#e34a33"/>
<text x="432.73" y="342.80" font-size="6.2" fill="#fff" fill-opacity="0.8" text-anchor="middle">***</text>
<circle cx="447.99" cy="340.30" r="6.95" fill="#e34a33"/>
<text x="447.99" y="342.80" font-size="6.2" fill="#fff" fill-opacity="0.8" text-anchor="middle">***</text>
<circle cx="463.26" cy="340.30" r="6.95" fill="#e34a33"/>
<text x="463.26" y="342.80" font-size="6.2" fill="#fff" fill-opacity="0.8" text-anchor="middle">***</text>
<circle cx="478.52" cy="340.30" r="6.95" fill="#e34a33"/>
<text x="478.52" y="342.80" font-size="6.2" fill="#fff" fill-opacity="0.8" text-anchor="middle">***</text>
<circle cx="493.79" cy="340.30" r="6.68" fill="#e34a33"/>
<text x="493.79" y="342.80" font-size="6.2" fill="#fff" fill-opacity="0.8" text-anchor="middle">***</text>
<circle cx="509.05" cy="340.30" r="6.44" fill="#e34a33"/>
<text x="509.05" y="342.80" font-size="6.2" fill="#fff" fill-opacity="0.8" text-anchor="middle">***</text>
<circle cx="524.32" cy="340.30" r="6.36" fill="#e34a33"/>
<text x="524.32" y="342.80" font-size="6.2" fill="#fff" fill-opacity="0.8" text-anchor="middle">***</text>
<circle cx="539.58" cy="340.30" r="3.77" fill="#f28a6a"/>
<text x="539.58" y="342.80" font-size="6.2" fill="#fff" fill-opacity="0.8" text-anchor="middle">***</text>
<circle cx="554.85" cy="340.30" r="3.32" fill="#f28a6a"/>
<text x="554.85" y="342.80" font-size="6.2" fill="#fff" fill-opacity="0.8" text-anchor="middle">***</text>
<circle cx="570.11" cy="340.30" r="2.99" fill="#c9c3a8"/>
<text x="570.11" y="342.80" font-size="6.2" fill="#fff" fill-opacity="0.8" text-anchor="middle">***</text>
<circle cx="585.38" cy="340.30" r="3.08" fill="#c9c3a8"/>
<text x="585.38" y="342.80" font-size="6.2" fill="#fff" fill-opacity="0.8" text-anchor="middle">***</text>
<circle cx="600.64" cy="340.30" r="3.24" fill="#c9c3a8"/>
<text x="600.64" y="342.80" font-size="6.2" fill="#fff" fill-opacity="0.8" text-anchor="middle">***</text>
<circle cx="615.91" cy="340.30" r="2.90" fill="#c9c3a8"/>
<text x="615.91" y="342.80" font-size="6.2" fill="#fff" fill-opacity="0.8" text-anchor="middle">***</text>
<circle cx="631.17" cy="340.30" r="3.08" fill="#c9c3a8"/>
<text x="631.17" y="342.80" font-size="6.2" fill="#fff" fill-opacity="0.8" text-anchor="middle">***</text>
<circle cx="646.44" cy="340.30" r="3.62" fill="#f28a6a"/>
<text x="646.44" y="342.80" font-size="6.2" fill="#fff" fill-opacity="0.8" text-anchor="middle">***</text>
<circle cx="661.70" cy="340.30" r="3.16" fill="#c9c3a8"/>
<text x="661.70" y="342.80" font-size="6.2" fill="#fff" fill-opacity="0.8" text-anchor="middle">***</text>
<circle cx="676.97" cy="340.30" r="3.16" fill="#c9c3a8"/>
<text x="676.97" y="342.80" font-size="6.2" fill="#fff" fill-opacity="0.8" text-anchor="middle">***</text>
<text x="386.93" y="357.36" font-size="5.2" font-weight="bold" fill="#e0402a" text-anchor="middle">0.94</text>
<text x="402.20" y="357.36" font-size="5.2" font-weight="bold" fill="#e0402a" text-anchor="middle">0.88</text>
<circle cx="417.46" cy="355.56" r="7.25" fill="#e34a33"/>
<text x="417.46" y="358.06" font-size="6.2" fill="#fff" fill-opacity="0.8" text-anchor="middle">***</text>
<circle cx="432.73" cy="355.56" r="6.80" fill="#e34a33"/>
<text x="432.73" y="358.06" font-size="6.2" fill="#fff" fill-opacity="0.8" text-anchor="middle">***</text>
<circle cx="447.99" cy="355.56" r="6.88" fill="#e34a33"/>
<text x="447.99" y="358.06" font-size="6.2" fill="#fff" fill-opacity="0.8" text-anchor="middle">***</text>
<circle cx="463.26" cy="355.56" r="6.99" fill="#e34a33"/>
<text x="463.26" y="358.06" font-size="6.2" fill="#fff" fill-opacity="0.8" text-anchor="middle">***</text>
<circle cx="478.52" cy="355.56" r="6.80" fill="#e34a33"/>
<text x="478.52" y="358.06" font-size="6.2" fill="#fff" fill-opacity="0.8" text-anchor="middle">***</text>
<circle cx="493.79" cy="355.56" r="6.76" fill="#e34a33"/>
<text x="493.79" y="358.06" font-size="6.2" fill="#fff" fill-opacity="0.8" text-anchor="middle">***</text>
<circle cx="509.05" cy="355.56" r="6.44" fill="#e34a33"/>
<text x="509.05" y="358.06" font-size="6.2" fill="#fff" fill-opacity="0.8" text-anchor="middle">***</text>
<circle cx="524.32" cy="355.56" r="6.53" fill="#e34a33"/>
<text x="524.32" y="358.06" font-size="6.2" fill="#fff" fill-opacity="0.8" text-anchor="middle">***</text>
<circle cx="539.58" cy="355.56" r="3.84" fill="#f28a6a"/>
<text x="539.58" y="358.06" font-size="6.2" fill="#fff" fill-opacity="0.8" text-anchor="middle">***</text>
<circle cx="554.85" cy="355.56" r="3.62" fill="#f28a6a"/>
<text x="554.85" y="358.06" font-size="6.2" fill="#fff" fill-opacity="0.8" text-anchor="middle">***</text>
<circle cx="570.11" cy="355.56" r="3.48" fill="#f28a6a"/>
<text x="570.11" y="358.06" font-size="6.2" fill="#fff" fill-opacity="0.8" text-anchor="middle">***</text>
<circle cx="585.38" cy="355.56" r="3.62" fill="#f28a6a"/>
<text x="585.38" y="358.06" font-size="6.2" fill="#fff" fill-opacity="0.8" text-anchor="middle">***</text>
<circle cx="600.64" cy="355.56" r="3.70" fill="#f28a6a"/>
<text x="600.64" y="358.06" font-size="6.2" fill="#fff" fill-opacity="0.8" text-anchor="middle">***</text>
<circle cx="615.91" cy="355.56" r="3.32" fill="#f28a6a"/>
<text x="615.91" y="358.06" font-size="6.2" fill="#fff" fill-opacity="0.8" text-anchor="middle">***</text>
<circle cx="631.17" cy="355.56" r="3.48" fill="#f28a6a"/>
<text x="631.17" y="358.06" font-size="6.2" fill="#fff" fill-opacity="0.8" text-anchor="middle">***</text>
<circle cx="646.44" cy="355.56" r="3.70" fill="#f28a6a"/>
<text x="646.44" y="358.06" font-size="6.2" fill="#fff" fill-opacity="0.8" text-anchor="middle">***</text>
<circle cx="661.70" cy="355.56" r="3.55" fill="#f28a6a"/>
<text x="661.70" y="358.06" font-size="6.2" fill="#fff" fill-opacity="0.8" text-anchor="middle">***</text>
<circle cx="676.97" cy="355.56" r="3.55" fill="#f28a6a"/>
<text x="676.97" y="358.06" font-size="6.2" fill="#fff" fill-opacity="0.8" text-anchor="middle">***</text>
<text x="386.93" y="372.63" font-size="5.2" font-weight="bold" fill="#e0402a" text-anchor="middle">0.89</text>
<text x="402.20" y="372.63" font-size="5.2" font-weight="bold" fill="#e0402a" text-anchor="middle">0.87</text>
<text x="417.46" y="372.63" font-size="5.2" font-weight="bold" fill="#e0402a" text-anchor="middle">0.88</text>
<circle cx="432.73" cy="370.83" r="7.25" fill="#e34a33"/>
<text x="432.73" y="373.33" font-size="6.2" fill="#fff" fill-opacity="0.8" text-anchor="middle">***</text>
<circle cx="447.99" cy="370.83" r="6.88" fill="#e34a33"/>
<text x="447.99" y="373.33" font-size="6.2" fill="#fff" fill-opacity="0.8" text-anchor="middle">***</text>
<circle cx="463.26" cy="370.83" r="6.88" fill="#e34a33"/>
<text x="463.26" y="373.33" font-size="6.2" fill="#fff" fill-opacity="0.8" text-anchor="middle">***</text>
<circle cx="478.52" cy="370.83" r="6.76" fill="#e34a33"/>
<text x="478.52" y="373.33" font-size="6.2" fill="#fff" fill-opacity="0.8" text-anchor="middle">***</text>
<circle cx="493.79" cy="370.83" r="6.84" fill="#e34a33"/>
<text x="493.79" y="373.33" font-size="6.2" fill="#fff" fill-opacity="0.8" text-anchor="middle">***</text>
<circle cx="509.05" cy="370.83" r="6.48" fill="#e34a33"/>
<text x="509.05" y="373.33" font-size="6.2" fill="#fff" fill-opacity="0.8" text-anchor="middle">***</text>
<circle cx="524.32" cy="370.83" r="6.80" fill="#e34a33"/>
<text x="524.32" y="373.33" font-size="6.2" fill="#fff" fill-opacity="0.8" text-anchor="middle">***</text>
<circle cx="539.58" cy="370.83" r="3.62" fill="#f28a6a"/>
<text x="539.58" y="373.33" font-size="6.2" fill="#fff" fill-opacity="0.8" text-anchor="middle">***</text>
<circle cx="554.85" cy="370.83" r="3.55" fill="#f28a6a"/>
<text x="554.85" y="373.33" font-size="6.2" fill="#fff" fill-opacity="0.8" text-anchor="middle">***</text>
<circle cx="570.11" cy="370.83" r="3.32" fill="#f28a6a"/>
<text x="570.11" y="373.33" font-size="6.2" fill="#fff" fill-opacity="0.8" text-anchor="middle">***</text>
<circle cx="585.38" cy="370.83" r="3.62" fill="#f28a6a"/>
<text x="585.38" y="373.33" font-size="6.2" fill="#fff" fill-opacity="0.8" text-anchor="middle">***</text>
<circle cx="600.64" cy="370.83" r="3.55" fill="#f28a6a"/>
<text x="600.64" y="373.33" font-size="6.2" fill="#fff" fill-opacity="0.8" text-anchor="middle">***</text>
<circle cx="615.91" cy="370.83" r="3.40" fill="#f28a6a"/>
<text x="615.91" y="373.33" font-size="6.2" fill="#fff" fill-opacity="0.8" text-anchor="middle">***</text>
<circle cx="631.17" cy="370.83" r="3.32" fill="#f28a6a"/>
<text x="631.17" y="373.33" font-size="6.2" fill="#fff" fill-opacity="0.8" text-anchor="middle">***</text>
<circle cx="646.44" cy="370.83" r="3.70" fill="#f28a6a"/>
<text x="646.44" y="373.33" font-size="6.2" fill="#fff" fill-opacity="0.8" text-anchor="middle">***</text>
<circle cx="661.70" cy="370.83" r="3.32" fill="#f28a6a"/>
<text x="661.70" y="373.33" font-size="6.2" fill="#fff" fill-opacity="0.8" text-anchor="middle">***</text>
<circle cx="676.97" cy="370.83" r="3.48" fill="#f28a6a"/>
<text x="676.97" y="373.33" font-size="6.2" fill="#fff" fill-opacity="0.8" text-anchor="middle">***</text>
<text x="386.93" y="387.89" font-size="5.2" font-weight="bold" fill="#e0402a" text-anchor="middle">0.92</text>
<text x="402.20" y="387.89" font-size="5.2" font-weight="bold" fill="#e0402a" text-anchor="middle">0.92</text>
<text x="417.46" y="387.89" font-size="5.2" font-weight="bold" fill="#e0402a" text-anchor="middle">0.90</text>
<text x="432.73" y="387.89" font-size="5.2" font-weight="bold" fill="#e0402a" text-anchor="middle">0.90</text>
<circle cx="447.99" cy="386.09" r="7.25" fill="#e34a33"/>
<text x="447.99" y="388.59" font-size="6.2" fill="#fff" fill-opacity="0.8" text-anchor="middle">***</text>
<circle cx="463.26" cy="386.09" r="7.14" fill="#e34a33"/>
<text x="463.26" y="388.59" font-size="6.2" fill="#fff" fill-opacity="0.8" text-anchor="middle">***</text>
<circle cx="478.52" cy="386.09" r="6.99" fill="#e34a33"/>
<text x="478.52" y="388.59" font-size="6.2" fill="#fff" fill-opacity="0.8" text-anchor="middle">***</text>
<circle cx="493.79" cy="386.09" r="6.72" fill="#e34a33"/>
<text x="493.79" y="388.59" font-size="6.2" fill="#fff" fill-opacity="0.8" text-anchor="middle">***</text>
<circle cx="509.05" cy="386.09" r="6.44" fill="#e34a33"/>
<text x="509.05" y="388.59" font-size="6.2" fill="#fff" fill-opacity="0.8" text-anchor="middle">***</text>
<circle cx="524.32" cy="386.09" r="6.53" fill="#e34a33"/>
<text x="524.32" y="388.59" font-size="6.2" fill="#fff" fill-opacity="0.8" text-anchor="middle">***</text>
<circle cx="539.58" cy="386.09" r="3.97" fill="#f28a6a"/>
<text x="539.58" y="388.59" font-size="6.2" fill="#fff" fill-opacity="0.8" text-anchor="middle">***</text>
<circle cx="554.85" cy="386.09" r="3.40" fill="#f28a6a"/>
<text x="554.85" y="388.59" font-size="6.2" fill="#fff" fill-opacity="0.8" text-anchor="middle">***</text>
<circle cx="570.11" cy="386.09" r="3.16" fill="#c9c3a8"/>
<text x="570.11" y="388.59" font-size="6.2" fill="#fff" fill-opacity="0.8" text-anchor="middle">***</text>
<circle cx="585.38" cy="386.09" r="3.32" fill="#f28a6a"/>
<text x="585.38" y="388.59" font-size="6.2" fill="#fff" fill-opacity="0.8" text-anchor="middle">***</text>
<circle cx="600.64" cy="386.09" r="3.48" fill="#f28a6a"/>
<text x="600.64" y="388.59" font-size="6.2" fill="#fff" fill-opacity="0.8" text-anchor="middle">***</text>
<circle cx="615.91" cy="386.09" r="3.08" fill="#c9c3a8"/>
<text x="615.91" y="388.59" font-size="6.2" fill="#fff" fill-opacity="0.8" text-anchor="middle">***</text>
<circle cx="631.17" cy="386.09" r="3.16" fill="#c9c3a8"/>
<text x="631.17" y="388.59" font-size="6.2" fill="#fff" fill-opacity="0.8" text-anchor="middle">***</text>
<circle cx="646.44" cy="386.09" r="3.62" fill="#f28a6a"/>
<text x="646.44" y="388.59" font-size="6.2" fill="#fff" fill-opacity="0.8" text-anchor="middle">***</text>
<circle cx="661.70" cy="386.09" r="3.32" fill="#f28a6a"/>
<text x="661.70" y="388.59" font-size="6.2" fill="#fff" fill-opacity="0.8" text-anchor="middle">***</text>
<circle cx="676.97" cy="386.09" r="3.32" fill="#f28a6a"/>
<text x="676.97" y="388.59" font-size="6.2" fill="#fff" fill-opacity="0.8" text-anchor="middle">***</text>
<text x="386.93" y="403.16" font-size="5.2" font-weight="bold" fill="#e0402a" text-anchor="middle">0.92</text>
<text x="402.20" y="403.16" font-size="5.2" font-weight="bold" fill="#e0402a" text-anchor="middle">0.92</text>
<text x="417.46" y="403.16" font-size="5.2" font-weight="bold" fill="#e0402a" text-anchor="middle">0.93</text>
<text x="432.73" y="403.16" font-size="5.2" font-weight="bold" fill="#e0402a" text-anchor="middle">0.90</text>
<text x="447.99" y="403.16" font-size="5.2" font-weight="bold" fill="#e0402a" text-anchor="middle">0.97</text>
<circle cx="463.26" cy="401.36" r="7.25" fill="#e34a33"/>
<text x="463.26" y="403.86" font-size="6.2" fill="#fff" fill-opacity="0.8" text-anchor="middle">***</text>
<circle cx="478.52" cy="401.36" r="6.99" fill="#e34a33"/>
<text x="478.52" y="403.86" font-size="6.2" fill="#fff" fill-opacity="0.8" text-anchor="middle">***</text>
<circle cx="493.79" cy="401.36" r="6.76" fill="#e34a33"/>
<text x="493.79" y="403.86" font-size="6.2" fill="#fff" fill-opacity="0.8" text-anchor="middle">***</text>
<circle cx="509.05" cy="401.36" r="6.57" fill="#e34a33"/>
<text x="509.05" y="403.86" font-size="6.2" fill="#fff" fill-opacity="0.8" text-anchor="middle">***</text>
<circle cx="524.32" cy="401.36" r="6.53" fill="#e34a33"/>
<text x="524.32" y="403.86" font-size="6.2" fill="#fff" fill-opacity="0.8" text-anchor="middle">***</text>
<circle cx="539.58" cy="401.36" r="3.84" fill="#f28a6a"/>
<text x="539.58" y="403.86" font-size="6.2" fill="#fff" fill-opacity="0.8" text-anchor="middle">***</text>
<circle cx="554.85" cy="401.36" r="3.48" fill="#f28a6a"/>
<text x="554.85" y="403.86" font-size="6.2" fill="#fff" fill-opacity="0.8" text-anchor="middle">***</text>
<circle cx="570.11" cy="401.36" r="3.32" fill="#f28a6a"/>
<text x="570.11" y="403.86" font-size="6.2" fill="#fff" fill-opacity="0.8" text-anchor="middle">***</text>
<circle cx="585.38" cy="401.36" r="3.32" fill="#f28a6a"/>
<text x="585.38" y="403.86" font-size="6.2" fill="#fff" fill-opacity="0.8" text-anchor="middle">***</text>
<circle cx="600.64" cy="401.36" r="3.55" fill="#f28a6a"/>
<text x="600.64" y="403.86" font-size="6.2" fill="#fff" fill-opacity="0.8" text-anchor="middle">***</text>
<circle cx="615.91" cy="401.36" r="3.16" fill="#c9c3a8"/>
<text x="615.91" y="403.86" font-size="6.2" fill="#fff" fill-opacity="0.8" text-anchor="middle">***</text>
<circle cx="631.17" cy="401.36" r="3.24" fill="#f28a6a"/>
<text x="631.17" y="403.86" font-size="6.2" fill="#fff" fill-opacity="0.8" text-anchor="middle">***</text>
<circle cx="646.44" cy="401.36" r="3.84" fill="#f28a6a"/>
<text x="646.44" y="403.86" font-size="6.2" fill="#fff" fill-opacity="0.8" text-anchor="middle">***</text>
<circle cx="661.70" cy="401.36" r="3.40" fill="#f28a6a"/>
<text x="661.70" y="403.86" font-size="6.2" fill="#fff" fill-opacity="0.8" text-anchor="middle">***</text>
<circle cx="676.97" cy="401.36" r="3.40" fill="#f28a6a"/>
<text x="676.97" y="403.86" font-size="6.2" fill="#fff" fill-opacity="0.8" text-anchor="middle">***</text>
<text x="386.93" y="418.42" font-size="5.2" font-weight="bold" fill="#e0402a" text-anchor="middle">0.89</text>
<text x="402.20" y="418.42" font-size="5.2" font-weight="bold" fill="#e0402a" text-anchor="middle">0.92</text>
<text x="417.46" y="418.42" font-size="5.2" font-weight="bold" fill="#e0402a" text-anchor="middle">0.88</text>
<text x="432.73" y="418.42" font-size="5.2" font-weight="bold" fill="#e0402a" text-anchor="middle">0.87</text>
<text x="447.99" y="418.42" font-size="5.2" font-weight="bold" fill="#e0402a" text-anchor="middle">0.93</text>
<text x="463.26" y="418.42" font-size="5.2" font-weight="bold" fill="#e0402a" text-anchor="middle">0.93</text>
<circle cx="478.52" cy="416.62" r="7.25" fill="#e34a33"/>
<text x="478.52" y="419.12" font-size="6.2" fill="#fff" fill-opacity="0.8" text-anchor="middle">***</text>
<circle cx="493.79" cy="416.62" r="6.72" fill="#e34a33"/>
<text x="493.79" y="419.12" font-size="6.2" fill="#fff" fill-opacity="0.8" text-anchor="middle">***</text>
<circle cx="509.05" cy="416.62" r="6.36" fill="#e34a33"/>
<text x="509.05" y="419.12" font-size="6.2" fill="#fff" fill-opacity="0.8" text-anchor="middle">***</text>
<circle cx="524.32" cy="416.62" r="6.40" fill="#e34a33"/>
<text x="524.32" y="419.12" font-size="6.2" fill="#fff" fill-opacity="0.8" text-anchor="middle">***</text>
<circle cx="539.58" cy="416.62" r="4.04" fill="#f28a6a"/>
<text x="539.58" y="419.12" font-size="6.2" fill="#fff" fill-opacity="0.8" text-anchor="middle">***</text>
<circle cx="554.85" cy="416.62" r="3.48" fill="#f28a6a"/>
<text x="554.85" y="419.12" font-size="6.2" fill="#fff" fill-opacity="0.8" text-anchor="middle">***</text>
<circle cx="570.11" cy="416.62" r="3.24" fill="#f28a6a"/>
<text x="570.11" y="419.12" font-size="6.2" fill="#fff" fill-opacity="0.8" text-anchor="middle">***</text>
<circle cx="585.38" cy="416.62" r="3.32" fill="#f28a6a"/>
<text x="585.38" y="419.12" font-size="6.2" fill="#fff" fill-opacity="0.8" text-anchor="middle">***</text>
<circle cx="600.64" cy="416.62" r="3.48" fill="#f28a6a"/>
<text x="600.64" y="419.12" font-size="6.2" fill="#fff" fill-opacity="0.8" text-anchor="middle">***</text>
<circle cx="615.91" cy="416.62" r="3.16" fill="#c9c3a8"/>
<text x="615.91" y="419.12" font-size="6.2" fill="#fff" fill-opacity="0.8" text-anchor="middle">***</text>
<circle cx="631.17" cy="416.62" r="3.32" fill="#f28a6a"/>
<text x="631.17" y="419.12" font-size="6.2" fill="#fff" fill-opacity="0.8" text-anchor="middle">***</text>
<circle cx="646.44" cy="416.62" r="3.84" fill="#f28a6a"/>
<text x="646.44" y="419.12" font-size="6.2" fill="#fff" fill-opacity="0.8" text-anchor="middle">***</text>
<circle cx="661.70" cy="416.62" r="3.40" fill="#f28a6a"/>
<text x="661.70" y="419.12" font-size="6.2" fill="#fff" fill-opacity="0.8" text-anchor="middle">***</text>
<circle cx="676.97" cy="416.62" r="3.40" fill="#f28a6a"/>
<text x="676.97" y="419.12" font-size="6.2" fill="#fff" fill-opacity="0.8" text-anchor="middle">***</text>
<text x="386.93" y="433.69" font-size="5.2" font-weight="bold" fill="#e0402a" text-anchor="middle">0.87</text>
<text x="402.20" y="433.69" font-size="5.2" font-weight="bold" fill="#e0402a" text-anchor="middle">0.85</text>
<text x="417.46" y="433.69" font-size="5.2" font-weight="bold" fill="#e0402a" text-anchor="middle">0.87</text>
<text x="432.73" y="433.69" font-size="5.2" font-weight="bold" fill="#e0402a" text-anchor="middle">0.89</text>
<text x="447.99" y="433.69" font-size="5.2" font-weight="bold" fill="#e0402a" text-anchor="middle">0.86</text>
<text x="463.26" y="433.69" font-size="5.2" font-weight="bold" fill="#e0402a" text-anchor="middle">0.87</text>
<text x="478.52" y="433.69" font-size="5.2" font-weight="bold" fill="#e0402a" text-anchor="middle">0.86</text>
<circle cx="493.79" cy="431.89" r="7.25" fill="#e34a33"/>
<text x="493.79" y="434.39" font-size="6.2" fill="#fff" fill-opacity="0.8" text-anchor="middle">***</text>
<circle cx="509.05" cy="431.89" r="6.76" fill="#e34a33"/>
<text x="509.05" y="434.39" font-size="6.2" fill="#fff" fill-opacity="0.8" text-anchor="middle">***</text>
<circle cx="524.32" cy="431.89" r="6.64" fill="#e34a33"/>
<text x="524.32" y="434.39" font-size="6.2" fill="#fff" fill-opacity="0.8" text-anchor="middle">***</text>
<circle cx="539.58" cy="431.89" r="3.97" fill="#f28a6a"/>
<text x="539.58" y="434.39" font-size="6.2" fill="#fff" fill-opacity="0.8" text-anchor="middle">***</text>
<circle cx="554.85" cy="431.89" r="3.77" fill="#f28a6a"/>
<text x="554.85" y="434.39" font-size="6.2" fill="#fff" fill-opacity="0.8" text-anchor="middle">***</text>
<circle cx="570.11" cy="431.89" r="3.55" fill="#f28a6a"/>
<text x="570.11" y="434.39" font-size="6.2" fill="#fff" fill-opacity="0.8" text-anchor="middle">***</text>
<circle cx="585.38" cy="431.89" r="3.70" fill="#f28a6a"/>
<text x="585.38" y="434.39" font-size="6.2" fill="#fff" fill-opacity="0.8" text-anchor="middle">***</text>
<circle cx="600.64" cy="431.89" r="3.77" fill="#f28a6a"/>
<text x="600.64" y="434.39" font-size="6.2" fill="#fff" fill-opacity="0.8" text-anchor="middle">***</text>
<circle cx="615.91" cy="431.89" r="3.48" fill="#f28a6a"/>
<text x="615.91" y="434.39" font-size="6.2" fill="#fff" fill-opacity="0.8" text-anchor="middle">***</text>
<circle cx="631.17" cy="431.89" r="3.48" fill="#f28a6a"/>
<text x="631.17" y="434.39" font-size="6.2" fill="#fff" fill-opacity="0.8" text-anchor="middle">***</text>
<circle cx="646.44" cy="431.89" r="3.84" fill="#f28a6a"/>
<text x="646.44" y="434.39" font-size="6.2" fill="#fff" fill-opacity="0.8" text-anchor="middle">***</text>
<circle cx="661.70" cy="431.89" r="3.62" fill="#f28a6a"/>
<text x="661.70" y="434.39" font-size="6.2" fill="#fff" fill-opacity="0.8" text-anchor="middle">***</text>
<circle cx="676.97" cy="431.89" r="3.70" fill="#f28a6a"/>
<text x="676.97" y="434.39" font-size="6.2" fill="#fff" fill-opacity="0.8" text-anchor="middle">***</text>
<text x="386.93" y="448.95" font-size="5.2" font-weight="bold" fill="#e0402a" text-anchor="middle">0.77</text>
<text x="402.20" y="448.95" font-size="5.2" font-weight="bold" fill="#e0402a" text-anchor="middle">0.79</text>
<text x="417.46" y="448.95" font-size="5.2" font-weight="bold" fill="#e0402a" text-anchor="middle">0.79</text>
<text x="432.73" y="448.95" font-size="5.2" font-weight="bold" fill="#e0402a" text-anchor="middle">0.80</text>
<text x="447.99" y="448.95" font-size="5.2" font-weight="bold" fill="#e0402a" text-anchor="middle">0.79</text>
<text x="463.26" y="448.95" font-size="5.2" font-weight="bold" fill="#e0402a" text-anchor="middle">0.82</text>
<text x="478.52" y="448.95" font-size="5.2" font-weight="bold" fill="#e0402a" text-anchor="middle">0.77</text>
<text x="493.79" y="448.95" font-size="5.2" font-weight="bold" fill="#e0402a" text-anchor="middle">0.87</text>
<circle cx="509.05" cy="447.15" r="7.25" fill="#e34a33"/>
<text x="509.05" y="449.65" font-size="6.2" fill="#fff" fill-opacity="0.8" text-anchor="middle">***</text>
<circle cx="524.32" cy="447.15" r="6.44" fill="#e34a33"/>
<text x="524.32" y="449.65" font-size="6.2" fill="#fff" fill-opacity="0.8" text-anchor="middle">***</text>
<circle cx="539.58" cy="447.15" r="4.23" fill="#f28a6a"/>
<text x="539.58" y="449.65" font-size="6.2" fill="#fff" fill-opacity="0.8" text-anchor="middle">***</text>
<circle cx="554.85" cy="447.15" r="3.84" fill="#f28a6a"/>
<text x="554.85" y="449.65" font-size="6.2" fill="#fff" fill-opacity="0.8" text-anchor="middle">***</text>
<circle cx="570.11" cy="447.15" r="3.62" fill="#f28a6a"/>
<text x="570.11" y="449.65" font-size="6.2" fill="#fff" fill-opacity="0.8" text-anchor="middle">***</text>
<circle cx="585.38" cy="447.15" r="3.70" fill="#f28a6a"/>
<text x="585.38" y="449.65" font-size="6.2" fill="#fff" fill-opacity="0.8" text-anchor="middle">***</text>
<circle cx="600.64" cy="447.15" r="3.90" fill="#f28a6a"/>
<text x="600.64" y="449.65" font-size="6.2" fill="#fff" fill-opacity="0.8" text-anchor="middle">***</text>
<circle cx="615.91" cy="447.15" r="3.55" fill="#f28a6a"/>
<text x="615.91" y="449.65" font-size="6.2" fill="#fff" fill-opacity="0.8" text-anchor="middle">***</text>
<circle cx="631.17" cy="447.15" r="3.77" fill="#f28a6a"/>
<text x="631.17" y="449.65" font-size="6.2" fill="#fff" fill-opacity="0.8" text-anchor="middle">***</text>
<circle cx="646.44" cy="447.15" r="4.04" fill="#f28a6a"/>
<text x="646.44" y="449.65" font-size="6.2" fill="#fff" fill-opacity="0.8" text-anchor="middle">***</text>
<circle cx="661.70" cy="447.15" r="3.84" fill="#f28a6a"/>
<text x="661.70" y="449.65" font-size="6.2" fill="#fff" fill-opacity="0.8" text-anchor="middle">***</text>
<circle cx="676.97" cy="447.15" r="3.90" fill="#f28a6a"/>
<text x="676.97" y="449.65" font-size="6.2" fill="#fff" fill-opacity="0.8" text-anchor="middle">***</text>
<text x="386.93" y="464.22" font-size="5.2" font-weight="bold" fill="#e0402a" text-anchor="middle">0.80</text>
<text x="402.20" y="464.22" font-size="5.2" font-weight="bold" fill="#e0402a" text-anchor="middle">0.77</text>
<text x="417.46" y="464.22" font-size="5.2" font-weight="bold" fill="#e0402a" text-anchor="middle">0.81</text>
<text x="432.73" y="464.22" font-size="5.2" font-weight="bold" fill="#e0402a" text-anchor="middle">0.88</text>
<text x="447.99" y="464.22" font-size="5.2" font-weight="bold" fill="#e0402a" text-anchor="middle">0.81</text>
<text x="463.26" y="464.22" font-size="5.2" font-weight="bold" fill="#e0402a" text-anchor="middle">0.81</text>
<text x="478.52" y="464.22" font-size="5.2" font-weight="bold" fill="#e0402a" text-anchor="middle">0.78</text>
<text x="493.79" y="464.22" font-size="5.2" font-weight="bold" fill="#e0402a" text-anchor="middle">0.84</text>
<text x="509.05" y="464.22" font-size="5.2" font-weight="bold" fill="#e0402a" text-anchor="middle">0.79</text>
<circle cx="524.32" cy="462.42" r="7.25" fill="#e34a33"/>
<text x="524.32" y="464.92" font-size="6.2" fill="#fff" fill-opacity="0.8" text-anchor="middle">***</text>
<circle cx="539.58" cy="462.42" r="3.84" fill="#f28a6a"/>
<text x="539.58" y="464.92" font-size="6.2" fill="#fff" fill-opacity="0.8" text-anchor="middle">***</text>
<circle cx="554.85" cy="462.42" r="3.70" fill="#f28a6a"/>
<text x="554.85" y="464.92" font-size="6.2" fill="#fff" fill-opacity="0.8" text-anchor="middle">***</text>
<circle cx="570.11" cy="462.42" r="3.55" fill="#f28a6a"/>
<text x="570.11" y="464.92" font-size="6.2" fill="#fff" fill-opacity="0.8" text-anchor="middle">***</text>
<circle cx="585.38" cy="462.42" r="3.70" fill="#f28a6a"/>
<text x="585.38" y="464.92" font-size="6.2" fill="#fff" fill-opacity="0.8" text-anchor="middle">***</text>
<circle cx="600.64" cy="462.42" r="3.90" fill="#f28a6a"/>
<text x="600.64" y="464.92" font-size="6.2" fill="#fff" fill-opacity="0.8" text-anchor="middle">***</text>
<circle cx="615.91" cy="462.42" r="3.48" fill="#f28a6a"/>
<text x="615.91" y="464.92" font-size="6.2" fill="#fff" fill-opacity="0.8" text-anchor="middle">***</text>
<circle cx="631.17" cy="462.42" r="3.55" fill="#f28a6a"/>
<text x="631.17" y="464.92" font-size="6.2" fill="#fff" fill-opacity="0.8" text-anchor="middle">***</text>
<circle cx="646.44" cy="462.42" r="3.84" fill="#f28a6a"/>
<text x="646.44" y="464.92" font-size="6.2" fill="#fff" fill-opacity="0.8" text-anchor="middle">***</text>
<circle cx="661.70" cy="462.42" r="3.62" fill="#f28a6a"/>
<text x="661.70" y="464.92" font-size="6.2" fill="#fff" fill-opacity="0.8" text-anchor="middle">***</text>
<circle cx="676.97" cy="462.42" r="3.77" fill="#f28a6a"/>
<text x="676.97" y="464.92" font-size="6.2" fill="#fff" fill-opacity="0.8" text-anchor="middle">***</text>
<text x="386.93" y="479.48" font-size="5.2" font-weight="bold" fill="#f39570" text-anchor="middle">0.27</text>
<text x="402.20" y="479.48" font-size="5.2" font-weight="bold" fill="#f39570" text-anchor="middle">0.27</text>
<text x="417.46" y="479.48" font-size="5.2" font-weight="bold" fill="#f39570" text-anchor="middle">0.28</text>
<text x="432.73" y="479.48" font-size="5.2" font-weight="bold" fill="#f39570" text-anchor="middle">0.25</text>
<text x="447.99" y="479.48" font-size="5.2" font-weight="bold" fill="#f39570" text-anchor="middle">0.30</text>
<text x="463.26" y="479.48" font-size="5.2" font-weight="bold" fill="#f39570" text-anchor="middle">0.28</text>
<text x="478.52" y="479.48" font-size="5.2" font-weight="bold" fill="#f39570" text-anchor="middle">0.31</text>
<text x="493.79" y="479.48" font-size="5.2" font-weight="bold" fill="#f39570" text-anchor="middle">0.30</text>
<text x="509.05" y="479.48" font-size="5.2" font-weight="bold" fill="#f39570" text-anchor="middle">0.34</text>
<text x="524.32" y="479.48" font-size="5.2" font-weight="bold" fill="#f39570" text-anchor="middle">0.28</text>
<circle cx="539.58" cy="477.68" r="7.25" fill="#e34a33"/>
<text x="539.58" y="480.18" font-size="6.2" fill="#fff" fill-opacity="0.8" text-anchor="middle">***</text>
<circle cx="554.85" cy="477.68" r="5.98" fill="#e34a33"/>
<text x="554.85" y="480.18" font-size="6.2" fill="#fff" fill-opacity="0.8" text-anchor="middle">***</text>
<circle cx="570.11" cy="477.68" r="5.75" fill="#e34a33"/>
<text x="570.11" y="480.18" font-size="6.2" fill="#fff" fill-opacity="0.8" text-anchor="middle">***</text>
<circle cx="585.38" cy="477.68" r="5.71" fill="#e34a33"/>
<text x="585.38" y="480.18" font-size="6.2" fill="#fff" fill-opacity="0.8" text-anchor="middle">***</text>
<circle cx="600.64" cy="477.68" r="5.89" fill="#e34a33"/>
<text x="600.64" y="480.18" font-size="6.2" fill="#fff" fill-opacity="0.8" text-anchor="middle">***</text>
<circle cx="615.91" cy="477.68" r="6.15" fill="#e34a33"/>
<text x="615.91" y="480.18" font-size="6.2" fill="#fff" fill-opacity="0.8" text-anchor="middle">***</text>
<circle cx="631.17" cy="477.68" r="6.11" fill="#e34a33"/>
<text x="631.17" y="480.18" font-size="6.2" fill="#fff" fill-opacity="0.8" text-anchor="middle">***</text>
<circle cx="646.44" cy="477.68" r="6.15" fill="#e34a33"/>
<text x="646.44" y="480.18" font-size="6.2" fill="#fff" fill-opacity="0.8" text-anchor="middle">***</text>
<circle cx="661.70" cy="477.68" r="6.15" fill="#e34a33"/>
<text x="661.70" y="480.18" font-size="6.2" fill="#fff" fill-opacity="0.8" text-anchor="middle">***</text>
<circle cx="676.97" cy="477.68" r="6.15" fill="#e34a33"/>
<text x="676.97" y="480.18" font-size="6.2" fill="#fff" fill-opacity="0.8" text-anchor="middle">***</text>
<text x="386.93" y="494.75" font-size="5.2" font-weight="bold" fill="#f39570" text-anchor="middle">0.22</text>
<text x="402.20" y="494.75" font-size="5.2" font-weight="bold" fill="#f39570" text-anchor="middle">0.21</text>
<text x="417.46" y="494.75" font-size="5.2" font-weight="bold" fill="#f39570" text-anchor="middle">0.25</text>
<text x="432.73" y="494.75" font-size="5.2" font-weight="bold" fill="#f39570" text-anchor="middle">0.24</text>
<text x="447.99" y="494.75" font-size="5.2" font-weight="bold" fill="#f39570" text-anchor="middle">0.22</text>
<text x="463.26" y="494.75" font-size="5.2" font-weight="bold" fill="#f39570" text-anchor="middle">0.23</text>
<text x="478.52" y="494.75" font-size="5.2" font-weight="bold" fill="#f39570" text-anchor="middle">0.23</text>
<text x="493.79" y="494.75" font-size="5.2" font-weight="bold" fill="#f39570" text-anchor="middle">0.27</text>
<text x="509.05" y="494.75" font-size="5.2" font-weight="bold" fill="#f39570" text-anchor="middle">0.28</text>
<text x="524.32" y="494.75" font-size="5.2" font-weight="bold" fill="#f39570" text-anchor="middle">0.26</text>
<text x="539.58" y="494.75" font-size="5.2" font-weight="bold" fill="#e0402a" text-anchor="middle">0.68</text>
<circle cx="554.85" cy="492.95" r="7.25" fill="#e34a33"/>
<text x="554.85" y="495.45" font-size="6.2" fill="#fff" fill-opacity="0.8" text-anchor="middle">***</text>
<circle cx="570.11" cy="492.95" r="6.80" fill="#e34a33"/>
<text x="570.11" y="495.45" font-size="6.2" fill="#fff" fill-opacity="0.8" text-anchor="middle">***</text>
<circle cx="585.38" cy="492.95" r="6.88" fill="#e34a33"/>
<text x="585.38" y="495.45" font-size="6.2" fill="#fff" fill-opacity="0.8" text-anchor="middle">***</text>
<circle cx="600.64" cy="492.95" r="6.84" fill="#e34a33"/>
<text x="600.64" y="495.45" font-size="6.2" fill="#fff" fill-opacity="0.8" text-anchor="middle">***</text>
<circle cx="615.91" cy="492.95" r="6.84" fill="#e34a33"/>
<text x="615.91" y="495.45" font-size="6.2" fill="#fff" fill-opacity="0.8" text-anchor="middle">***</text>
<circle cx="631.17" cy="492.95" r="6.99" fill="#e34a33"/>
<text x="631.17" y="495.45" font-size="6.2" fill="#fff" fill-opacity="0.8" text-anchor="middle">***</text>
<circle cx="646.44" cy="492.95" r="6.57" fill="#e34a33"/>
<text x="646.44" y="495.45" font-size="6.2" fill="#fff" fill-opacity="0.8" text-anchor="middle">***</text>
<circle cx="661.70" cy="492.95" r="6.92" fill="#e34a33"/>
<text x="661.70" y="495.45" font-size="6.2" fill="#fff" fill-opacity="0.8" text-anchor="middle">***</text>
<circle cx="676.97" cy="492.95" r="6.80" fill="#e34a33"/>
<text x="676.97" y="495.45" font-size="6.2" fill="#fff" fill-opacity="0.8" text-anchor="middle">***</text>
<text x="386.93" y="510.01" font-size="5.2" font-weight="bold" fill="#f39570" text-anchor="middle">0.20</text>
<text x="402.20" y="510.01" font-size="5.2" font-weight="bold" fill="#c2bca0" text-anchor="middle">0.17</text>
<text x="417.46" y="510.01" font-size="5.2" font-weight="bold" fill="#f39570" text-anchor="middle">0.23</text>
<text x="432.73" y="510.01" font-size="5.2" font-weight="bold" fill="#f39570" text-anchor="middle">0.21</text>
<text x="447.99" y="510.01" font-size="5.2" font-weight="bold" fill="#c2bca0" text-anchor="middle">0.19</text>
<text x="463.26" y="510.01" font-size="5.2" font-weight="bold" fill="#f39570" text-anchor="middle">0.21</text>
<text x="478.52" y="510.01" font-size="5.2" font-weight="bold" fill="#f39570" text-anchor="middle">0.20</text>
<text x="493.79" y="510.01" font-size="5.2" font-weight="bold" fill="#f39570" text-anchor="middle">0.24</text>
<text x="509.05" y="510.01" font-size="5.2" font-weight="bold" fill="#f39570" text-anchor="middle">0.25</text>
<text x="524.32" y="510.01" font-size="5.2" font-weight="bold" fill="#f39570" text-anchor="middle">0.24</text>
<text x="539.58" y="510.01" font-size="5.2" font-weight="bold" fill="#e0402a" text-anchor="middle">0.63</text>
<text x="554.85" y="510.01" font-size="5.2" font-weight="bold" fill="#e0402a" text-anchor="middle">0.88</text>
<circle cx="570.11" cy="508.21" r="7.25" fill="#e34a33"/>
<text x="570.11" y="510.71" font-size="6.2" fill="#fff" fill-opacity="0.8" text-anchor="middle">***</text>
<circle cx="585.38" cy="508.21" r="6.53" fill="#e34a33"/>
<text x="585.38" y="510.71" font-size="6.2" fill="#fff" fill-opacity="0.8" text-anchor="middle">***</text>
<circle cx="600.64" cy="508.21" r="6.88" fill="#e34a33"/>
<text x="600.64" y="510.71" font-size="6.2" fill="#fff" fill-opacity="0.8" text-anchor="middle">***</text>
<circle cx="615.91" cy="508.21" r="6.57" fill="#e34a33"/>
<text x="615.91" y="510.71" font-size="6.2" fill="#fff" fill-opacity="0.8" text-anchor="middle">***</text>
<circle cx="631.17" cy="508.21" r="6.76" fill="#e34a33"/>
<text x="631.17" y="510.71" font-size="6.2" fill="#fff" fill-opacity="0.8" text-anchor="middle">***</text>
<circle cx="646.44" cy="508.21" r="6.57" fill="#e34a33"/>
<text x="646.44" y="510.71" font-size="6.2" fill="#fff" fill-opacity="0.8" text-anchor="middle">***</text>
<circle cx="661.70" cy="508.21" r="6.92" fill="#e34a33"/>
<text x="661.70" y="510.71" font-size="6.2" fill="#fff" fill-opacity="0.8" text-anchor="middle">***</text>
<circle cx="676.97" cy="508.21" r="6.76" fill="#e34a33"/>
<text x="676.97" y="510.71" font-size="6.2" fill="#fff" fill-opacity="0.8" text-anchor="middle">***</text>
<text x="386.93" y="525.28" font-size="5.2" font-weight="bold" fill="#f39570" text-anchor="middle">0.20</text>
<text x="402.20" y="525.28" font-size="5.2" font-weight="bold" fill="#c2bca0" text-anchor="middle">0.18</text>
<text x="417.46" y="525.28" font-size="5.2" font-weight="bold" fill="#f39570" text-anchor="middle">0.25</text>
<text x="432.73" y="525.28" font-size="5.2" font-weight="bold" fill="#f39570" text-anchor="middle">0.25</text>
<text x="447.99" y="525.28" font-size="5.2" font-weight="bold" fill="#f39570" text-anchor="middle">0.21</text>
<text x="463.26" y="525.28" font-size="5.2" font-weight="bold" fill="#f39570" text-anchor="middle">0.21</text>
<text x="478.52" y="525.28" font-size="5.2" font-weight="bold" fill="#f39570" text-anchor="middle">0.21</text>
<text x="493.79" y="525.28" font-size="5.2" font-weight="bold" fill="#f39570" text-anchor="middle">0.26</text>
<text x="509.05" y="525.28" font-size="5.2" font-weight="bold" fill="#f39570" text-anchor="middle">0.26</text>
<text x="524.32" y="525.28" font-size="5.2" font-weight="bold" fill="#f39570" text-anchor="middle">0.26</text>
<text x="539.58" y="525.28" font-size="5.2" font-weight="bold" fill="#e0402a" text-anchor="middle">0.62</text>
<text x="554.85" y="525.28" font-size="5.2" font-weight="bold" fill="#e0402a" text-anchor="middle">0.90</text>
<text x="570.11" y="525.28" font-size="5.2" font-weight="bold" fill="#e0402a" text-anchor="middle">0.81</text>
<circle cx="585.38" cy="523.48" r="7.25" fill="#e34a33"/>
<text x="585.38" y="525.98" font-size="6.2" fill="#fff" fill-opacity="0.8" text-anchor="middle">***</text>
<circle cx="600.64" cy="523.48" r="6.76" fill="#e34a33"/>
<text x="600.64" y="525.98" font-size="6.2" fill="#fff" fill-opacity="0.8" text-anchor="middle">***</text>
<circle cx="615.91" cy="523.48" r="6.72" fill="#e34a33"/>
<text x="615.91" y="525.98" font-size="6.2" fill="#fff" fill-opacity="0.8" text-anchor="middle">***</text>
<circle cx="631.17" cy="523.48" r="6.72" fill="#e34a33"/>
<text x="631.17" y="525.98" font-size="6.2" fill="#fff" fill-opacity="0.8" text-anchor="middle">***</text>
<circle cx="646.44" cy="523.48" r="6.44" fill="#e34a33"/>
<text x="646.44" y="525.98" font-size="6.2" fill="#fff" fill-opacity="0.8" text-anchor="middle">***</text>
<circle cx="661.70" cy="523.48" r="6.68" fill="#e34a33"/>
<text x="661.70" y="525.98" font-size="6.2" fill="#fff" fill-opacity="0.8" text-anchor="middle">***</text>
<circle cx="676.97" cy="523.48" r="6.68" fill="#e34a33"/>
<text x="676.97" y="525.98" font-size="6.2" fill="#fff" fill-opacity="0.8" text-anchor="middle">***</text>
<text x="386.93" y="540.54" font-size="5.2" font-weight="bold" fill="#f39570" text-anchor="middle">0.22</text>
<text x="402.20" y="540.54" font-size="5.2" font-weight="bold" fill="#c2bca0" text-anchor="middle">0.20</text>
<text x="417.46" y="540.54" font-size="5.2" font-weight="bold" fill="#f39570" text-anchor="middle">0.26</text>
<text x="432.73" y="540.54" font-size="5.2" font-weight="bold" fill="#f39570" text-anchor="middle">0.24</text>
<text x="447.99" y="540.54" font-size="5.2" font-weight="bold" fill="#f39570" text-anchor="middle">0.23</text>
<text x="463.26" y="540.54" font-size="5.2" font-weight="bold" fill="#f39570" text-anchor="middle">0.24</text>
<text x="478.52" y="540.54" font-size="5.2" font-weight="bold" fill="#f39570" text-anchor="middle">0.23</text>
<text x="493.79" y="540.54" font-size="5.2" font-weight="bold" fill="#f39570" text-anchor="middle">0.27</text>
<text x="509.05" y="540.54" font-size="5.2" font-weight="bold" fill="#f39570" text-anchor="middle">0.29</text>
<text x="524.32" y="540.54" font-size="5.2" font-weight="bold" fill="#f39570" text-anchor="middle">0.29</text>
<text x="539.58" y="540.54" font-size="5.2" font-weight="bold" fill="#e0402a" text-anchor="middle">0.66</text>
<text x="554.85" y="540.54" font-size="5.2" font-weight="bold" fill="#e0402a" text-anchor="middle">0.89</text>
<text x="570.11" y="540.54" font-size="5.2" font-weight="bold" fill="#e0402a" text-anchor="middle">0.90</text>
<text x="585.38" y="540.54" font-size="5.2" font-weight="bold" fill="#e0402a" text-anchor="middle">0.87</text>
<circle cx="600.64" cy="538.74" r="7.25" fill="#e34a33"/>
<text x="600.64" y="541.24" font-size="6.2" fill="#fff" fill-opacity="0.8" text-anchor="middle">***</text>
<circle cx="615.91" cy="538.74" r="6.64" fill="#e34a33"/>
<text x="615.91" y="541.24" font-size="6.2" fill="#fff" fill-opacity="0.8" text-anchor="middle">***</text>
<circle cx="631.17" cy="538.74" r="6.76" fill="#e34a33"/>
<text x="631.17" y="541.24" font-size="6.2" fill="#fff" fill-opacity="0.8" text-anchor="middle">***</text>
<circle cx="646.44" cy="538.74" r="6.24" fill="#e34a33"/>
<text x="646.44" y="541.24" font-size="6.2" fill="#fff" fill-opacity="0.8" text-anchor="middle">***</text>
<circle cx="661.70" cy="538.74" r="6.99" fill="#e34a33"/>
<text x="661.70" y="541.24" font-size="6.2" fill="#fff" fill-opacity="0.8" text-anchor="middle">***</text>
<circle cx="676.97" cy="538.74" r="6.76" fill="#e34a33"/>
<text x="676.97" y="541.24" font-size="6.2" fill="#fff" fill-opacity="0.8" text-anchor="middle">***</text>
<text x="386.93" y="555.81" font-size="5.2" font-weight="bold" fill="#c2bca0" text-anchor="middle">0.17</text>
<text x="402.20" y="555.81" font-size="5.2" font-weight="bold" fill="#c2bca0" text-anchor="middle">0.16</text>
<text x="417.46" y="555.81" font-size="5.2" font-weight="bold" fill="#f39570" text-anchor="middle">0.21</text>
<text x="432.73" y="555.81" font-size="5.2" font-weight="bold" fill="#f39570" text-anchor="middle">0.22</text>
<text x="447.99" y="555.81" font-size="5.2" font-weight="bold" fill="#c2bca0" text-anchor="middle">0.18</text>
<text x="463.26" y="555.81" font-size="5.2" font-weight="bold" fill="#c2bca0" text-anchor="middle">0.19</text>
<text x="478.52" y="555.81" font-size="5.2" font-weight="bold" fill="#c2bca0" text-anchor="middle">0.19</text>
<text x="493.79" y="555.81" font-size="5.2" font-weight="bold" fill="#f39570" text-anchor="middle">0.23</text>
<text x="509.05" y="555.81" font-size="5.2" font-weight="bold" fill="#f39570" text-anchor="middle">0.24</text>
<text x="524.32" y="555.81" font-size="5.2" font-weight="bold" fill="#f39570" text-anchor="middle">0.23</text>
<text x="539.58" y="555.81" font-size="5.2" font-weight="bold" fill="#e0402a" text-anchor="middle">0.72</text>
<text x="554.85" y="555.81" font-size="5.2" font-weight="bold" fill="#e0402a" text-anchor="middle">0.89</text>
<text x="570.11" y="555.81" font-size="5.2" font-weight="bold" fill="#e0402a" text-anchor="middle">0.82</text>
<text x="585.38" y="555.81" font-size="5.2" font-weight="bold" fill="#e0402a" text-anchor="middle">0.86</text>
<text x="600.64" y="555.81" font-size="5.2" font-weight="bold" fill="#e0402a" text-anchor="middle">0.84</text>
<circle cx="615.91" cy="554.01" r="7.25" fill="#e34a33"/>
<text x="615.91" y="556.51" font-size="6.2" fill="#fff" fill-opacity="0.8" text-anchor="middle">***</text>
<circle cx="631.17" cy="554.01" r="6.76" fill="#e34a33"/>
<text x="631.17" y="556.51" font-size="6.2" fill="#fff" fill-opacity="0.8" text-anchor="middle">***</text>
<circle cx="646.44" cy="554.01" r="6.24" fill="#e34a33"/>
<text x="646.44" y="556.51" font-size="6.2" fill="#fff" fill-opacity="0.8" text-anchor="middle">***</text>
<circle cx="661.70" cy="554.01" r="6.76" fill="#e34a33"/>
<text x="661.70" y="556.51" font-size="6.2" fill="#fff" fill-opacity="0.8" text-anchor="middle">***</text>
<circle cx="676.97" cy="554.01" r="6.68" fill="#e34a33"/>
<text x="676.97" y="556.51" font-size="6.2" fill="#fff" fill-opacity="0.8" text-anchor="middle">***</text>
<text x="386.93" y="571.07" font-size="5.2" font-weight="bold" fill="#c2bca0" text-anchor="middle">0.19</text>
<text x="402.20" y="571.07" font-size="5.2" font-weight="bold" fill="#c2bca0" text-anchor="middle">0.18</text>
<text x="417.46" y="571.07" font-size="5.2" font-weight="bold" fill="#f39570" text-anchor="middle">0.23</text>
<text x="432.73" y="571.07" font-size="5.2" font-weight="bold" fill="#f39570" text-anchor="middle">0.21</text>
<text x="447.99" y="571.07" font-size="5.2" font-weight="bold" fill="#c2bca0" text-anchor="middle">0.19</text>
<text x="463.26" y="571.07" font-size="5.2" font-weight="bold" fill="#f39570" text-anchor="middle">0.20</text>
<text x="478.52" y="571.07" font-size="5.2" font-weight="bold" fill="#f39570" text-anchor="middle">0.21</text>
<text x="493.79" y="571.07" font-size="5.2" font-weight="bold" fill="#f39570" text-anchor="middle">0.23</text>
<text x="509.05" y="571.07" font-size="5.2" font-weight="bold" fill="#f39570" text-anchor="middle">0.27</text>
<text x="524.32" y="571.07" font-size="5.2" font-weight="bold" fill="#f39570" text-anchor="middle">0.24</text>
<text x="539.58" y="571.07" font-size="5.2" font-weight="bold" fill="#e0402a" text-anchor="middle">0.71</text>
<text x="554.85" y="571.07" font-size="5.2" font-weight="bold" fill="#e0402a" text-anchor="middle">0.93</text>
<text x="570.11" y="571.07" font-size="5.2" font-weight="bold" fill="#e0402a" text-anchor="middle">0.87</text>
<text x="585.38" y="571.07" font-size="5.2" font-weight="bold" fill="#e0402a" text-anchor="middle">0.86</text>
<text x="600.64" y="571.07" font-size="5.2" font-weight="bold" fill="#e0402a" text-anchor="middle">0.87</text>
<text x="615.91" y="571.07" font-size="5.2" font-weight="bold" fill="#e0402a" text-anchor="middle">0.87</text>
<circle cx="631.17" cy="569.27" r="7.25" fill="#e34a33"/>
<text x="631.17" y="571.77" font-size="6.2" fill="#fff" fill-opacity="0.8" text-anchor="middle">***</text>
<circle cx="646.44" cy="569.27" r="6.48" fill="#e34a33"/>
<text x="646.44" y="571.77" font-size="6.2" fill="#fff" fill-opacity="0.8" text-anchor="middle">***</text>
<circle cx="661.70" cy="569.27" r="6.95" fill="#e34a33"/>
<text x="661.70" y="571.77" font-size="6.2" fill="#fff" fill-opacity="0.8" text-anchor="middle">***</text>
<circle cx="676.97" cy="569.27" r="6.88" fill="#e34a33"/>
<text x="676.97" y="571.77" font-size="6.2" fill="#fff" fill-opacity="0.8" text-anchor="middle">***</text>
<text x="386.93" y="586.34" font-size="5.2" font-weight="bold" fill="#f39570" text-anchor="middle">0.26</text>
<text x="402.20" y="586.34" font-size="5.2" font-weight="bold" fill="#f39570" text-anchor="middle">0.25</text>
<text x="417.46" y="586.34" font-size="5.2" font-weight="bold" fill="#f39570" text-anchor="middle">0.26</text>
<text x="432.73" y="586.34" font-size="5.2" font-weight="bold" fill="#f39570" text-anchor="middle">0.26</text>
<text x="447.99" y="586.34" font-size="5.2" font-weight="bold" fill="#f39570" text-anchor="middle">0.25</text>
<text x="463.26" y="586.34" font-size="5.2" font-weight="bold" fill="#f39570" text-anchor="middle">0.28</text>
<text x="478.52" y="586.34" font-size="5.2" font-weight="bold" fill="#f39570" text-anchor="middle">0.28</text>
<text x="493.79" y="586.34" font-size="5.2" font-weight="bold" fill="#f39570" text-anchor="middle">0.28</text>
<text x="509.05" y="586.34" font-size="5.2" font-weight="bold" fill="#f39570" text-anchor="middle">0.31</text>
<text x="524.32" y="586.34" font-size="5.2" font-weight="bold" fill="#f39570" text-anchor="middle">0.28</text>
<text x="539.58" y="586.34" font-size="5.2" font-weight="bold" fill="#e0402a" text-anchor="middle">0.72</text>
<text x="554.85" y="586.34" font-size="5.2" font-weight="bold" fill="#e0402a" text-anchor="middle">0.82</text>
<text x="570.11" y="586.34" font-size="5.2" font-weight="bold" fill="#e0402a" text-anchor="middle">0.82</text>
<text x="585.38" y="586.34" font-size="5.2" font-weight="bold" fill="#e0402a" text-anchor="middle">0.79</text>
<text x="600.64" y="586.34" font-size="5.2" font-weight="bold" fill="#e0402a" text-anchor="middle">0.74</text>
<text x="615.91" y="586.34" font-size="5.2" font-weight="bold" fill="#e0402a" text-anchor="middle">0.74</text>
<text x="631.17" y="586.34" font-size="5.2" font-weight="bold" fill="#e0402a" text-anchor="middle">0.80</text>
<circle cx="646.44" cy="584.54" r="7.25" fill="#e34a33"/>
<text x="646.44" y="587.04" font-size="6.2" fill="#fff" fill-opacity="0.8" text-anchor="middle">***</text>
<circle cx="661.70" cy="584.54" r="6.53" fill="#e34a33"/>
<text x="661.70" y="587.04" font-size="6.2" fill="#fff" fill-opacity="0.8" text-anchor="middle">***</text>
<circle cx="676.97" cy="584.54" r="6.40" fill="#e34a33"/>
<text x="676.97" y="587.04" font-size="6.2" fill="#fff" fill-opacity="0.8" text-anchor="middle">***</text>
<text x="386.93" y="601.60" font-size="5.2" font-weight="bold" fill="#f39570" text-anchor="middle">0.21</text>
<text x="402.20" y="601.60" font-size="5.2" font-weight="bold" fill="#c2bca0" text-anchor="middle">0.19</text>
<text x="417.46" y="601.60" font-size="5.2" font-weight="bold" fill="#f39570" text-anchor="middle">0.24</text>
<text x="432.73" y="601.60" font-size="5.2" font-weight="bold" fill="#f39570" text-anchor="middle">0.21</text>
<text x="447.99" y="601.60" font-size="5.2" font-weight="bold" fill="#f39570" text-anchor="middle">0.21</text>
<text x="463.26" y="601.60" font-size="5.2" font-weight="bold" fill="#f39570" text-anchor="middle">0.22</text>
<text x="478.52" y="601.60" font-size="5.2" font-weight="bold" fill="#f39570" text-anchor="middle">0.22</text>
<text x="493.79" y="601.60" font-size="5.2" font-weight="bold" fill="#f39570" text-anchor="middle">0.25</text>
<text x="509.05" y="601.60" font-size="5.2" font-weight="bold" fill="#f39570" text-anchor="middle">0.28</text>
<text x="524.32" y="601.60" font-size="5.2" font-weight="bold" fill="#f39570" text-anchor="middle">0.25</text>
<text x="539.58" y="601.60" font-size="5.2" font-weight="bold" fill="#e0402a" text-anchor="middle">0.72</text>
<text x="554.85" y="601.60" font-size="5.2" font-weight="bold" fill="#e0402a" text-anchor="middle">0.91</text>
<text x="570.11" y="601.60" font-size="5.2" font-weight="bold" fill="#e0402a" text-anchor="middle">0.91</text>
<text x="585.38" y="601.60" font-size="5.2" font-weight="bold" fill="#e0402a" text-anchor="middle">0.85</text>
<text x="600.64" y="601.60" font-size="5.2" font-weight="bold" fill="#e0402a" text-anchor="middle">0.93</text>
<text x="615.91" y="601.60" font-size="5.2" font-weight="bold" fill="#e0402a" text-anchor="middle">0.87</text>
<text x="631.17" y="601.60" font-size="5.2" font-weight="bold" fill="#e0402a" text-anchor="middle">0.92</text>
<text x="646.44" y="601.60" font-size="5.2" font-weight="bold" fill="#e0402a" text-anchor="middle">0.81</text>
<circle cx="661.70" cy="599.80" r="7.25" fill="#e34a33"/>
<text x="661.70" y="602.30" font-size="6.2" fill="#fff" fill-opacity="0.8" text-anchor="middle">***</text>
<circle cx="676.97" cy="599.80" r="6.84" fill="#e34a33"/>
<text x="676.97" y="602.30" font-size="6.2" fill="#fff" fill-opacity="0.8" text-anchor="middle">***</text>
<text x="386.93" y="616.87" font-size="5.2" font-weight="bold" fill="#c2bca0" text-anchor="middle">0.20</text>
<text x="402.20" y="616.87" font-size="5.2" font-weight="bold" fill="#c2bca0" text-anchor="middle">0.19</text>
<text x="417.46" y="616.87" font-size="5.2" font-weight="bold" fill="#f39570" text-anchor="middle">0.24</text>
<text x="432.73" y="616.87" font-size="5.2" font-weight="bold" fill="#f39570" text-anchor="middle">0.23</text>
<text x="447.99" y="616.87" font-size="5.2" font-weight="bold" fill="#f39570" text-anchor="middle">0.21</text>
<text x="463.26" y="616.87" font-size="5.2" font-weight="bold" fill="#f39570" text-anchor="middle">0.22</text>
<text x="478.52" y="616.87" font-size="5.2" font-weight="bold" fill="#f39570" text-anchor="middle">0.22</text>
<text x="493.79" y="616.87" font-size="5.2" font-weight="bold" fill="#f39570" text-anchor="middle">0.26</text>
<text x="509.05" y="616.87" font-size="5.2" font-weight="bold" fill="#f39570" text-anchor="middle">0.29</text>
<text x="524.32" y="616.87" font-size="5.2" font-weight="bold" fill="#f39570" text-anchor="middle">0.27</text>
<text x="539.58" y="616.87" font-size="5.2" font-weight="bold" fill="#e0402a" text-anchor="middle">0.72</text>
<text x="554.85" y="616.87" font-size="5.2" font-weight="bold" fill="#e0402a" text-anchor="middle">0.88</text>
<text x="570.11" y="616.87" font-size="5.2" font-weight="bold" fill="#e0402a" text-anchor="middle">0.87</text>
<text x="585.38" y="616.87" font-size="5.2" font-weight="bold" fill="#e0402a" text-anchor="middle">0.85</text>
<text x="600.64" y="616.87" font-size="5.2" font-weight="bold" fill="#e0402a" text-anchor="middle">0.87</text>
<text x="615.91" y="616.87" font-size="5.2" font-weight="bold" fill="#e0402a" text-anchor="middle">0.85</text>
<text x="631.17" y="616.87" font-size="5.2" font-weight="bold" fill="#e0402a" text-anchor="middle">0.90</text>
<text x="646.44" y="616.87" font-size="5.2" font-weight="bold" fill="#e0402a" text-anchor="middle">0.78</text>
<text x="661.70" y="616.87" font-size="5.2" font-weight="bold" fill="#e0402a" text-anchor="middle">0.89</text>
<circle cx="676.97" cy="615.07" r="7.25" fill="#e34a33"/>
<text x="676.97" y="617.57" font-size="6.2" fill="#fff" fill-opacity="0.8" text-anchor="middle">***</text>
<text x="377.6" y="327.33" font-size="6.4" fill="#3d7cc4" text-anchor="end">C1</text>
<text transform="translate(389.13,315) rotate(-90)" font-size="6.4" fill="#3d7cc4">C1</text>
<text x="377.6" y="342.60" font-size="6.4" fill="#3d7cc4" text-anchor="end">C2</text>
<text transform="translate(404.40,315) rotate(-90)" font-size="6.4" fill="#3d7cc4">C2</text>
<text x="377.6" y="357.86" font-size="6.4" fill="#3d7cc4" text-anchor="end">C3</text>
<text transform="translate(419.66,315) rotate(-90)" font-size="6.4" fill="#3d7cc4">C3</text>
<text x="377.6" y="373.13" font-size="6.4" fill="#3d7cc4" text-anchor="end">C4</text>
<text transform="translate(434.93,315) rotate(-90)" font-size="6.4" fill="#3d7cc4">C4</text>
<text x="377.6" y="388.39" font-size="6.4" fill="#3d7cc4" text-anchor="end">C5</text>
<text transform="translate(450.19,315) rotate(-90)" font-size="6.4" fill="#3d7cc4">C5</text>
<text x="377.6" y="403.66" font-size="6.4" fill="#3d7cc4" text-anchor="end">C6</text>
<text transform="translate(465.46,315) rotate(-90)" font-size="6.4" fill="#3d7cc4">C6</text>
<text x="377.6" y="418.92" font-size="6.4" fill="#3d7cc4" text-anchor="end">C7</text>
<text transform="translate(480.72,315) rotate(-90)" font-size="6.4" fill="#3d7cc4">C7</text>
<text x="377.6" y="434.19" font-size="6.4" fill="#3d7cc4" text-anchor="end">C8</text>
<text transform="translate(495.99,315) rotate(-90)" font-size="6.4" fill="#3d7cc4">C8</text>
<text x="377.6" y="449.45" font-size="6.4" fill="#3d7cc4" text-anchor="end">C9</text>
<text transform="translate(511.25,315) rotate(-90)" font-size="6.4" fill="#3d7cc4">C9</text>
<text x="377.6" y="464.72" font-size="6.4" fill="#3d7cc4" text-anchor="end">C10</text>
<text transform="translate(526.52,315) rotate(-90)" font-size="6.4" fill="#3d7cc4">C10</text>
<text x="377.6" y="479.98" font-size="6.4" fill="#f5892c" text-anchor="end">P1</text>
<text transform="translate(541.78,315) rotate(-90)" font-size="6.4" fill="#f5892c">P1</text>
<text x="377.6" y="495.25" font-size="6.4" fill="#f5892c" text-anchor="end">P2</text>
<text transform="translate(557.05,315) rotate(-90)" font-size="6.4" fill="#f5892c">P2</text>
<text x="377.6" y="510.51" font-size="6.4" fill="#f5892c" text-anchor="end">P3</text>
<text transform="translate(572.31,315) rotate(-90)" font-size="6.4" fill="#f5892c">P3</text>
<text x="377.6" y="525.78" font-size="6.4" fill="#f5892c" text-anchor="end">P4</text>
<text transform="translate(587.58,315) rotate(-90)" font-size="6.4" fill="#f5892c">P4</text>
<text x="377.6" y="541.04" font-size="6.4" fill="#f5892c" text-anchor="end">P5</text>
<text transform="translate(602.84,315) rotate(-90)" font-size="6.4" fill="#f5892c">P5</text>
<text x="377.6" y="556.31" font-size="6.4" fill="#f5892c" text-anchor="end">P6</text>
<text transform="translate(618.11,315) rotate(-90)" font-size="6.4" fill="#f5892c">P6</text>
<text x="377.6" y="571.57" font-size="6.4" fill="#f5892c" text-anchor="end">P7</text>
<text transform="translate(633.37,315) rotate(-90)" font-size="6.4" fill="#f5892c">P7</text>
<text x="377.6" y="586.84" font-size="6.4" fill="#f5892c" text-anchor="end">P8</text>
<text transform="translate(648.64,315) rotate(-90)" font-size="6.4" fill="#f5892c">P8</text>
<text x="377.6" y="602.10" font-size="6.4" fill="#f5892c" text-anchor="end">P9</text>
<text transform="translate(663.90,315) rotate(-90)" font-size="6.4" fill="#f5892c">P9</text>
<text x="377.6" y="617.37" font-size="6.4" fill="#f5892c" text-anchor="end">P10</text>
<text transform="translate(679.17,315) rotate(-90)" font-size="6.4" fill="#f5892c">P10</text>
<rect x="690.2" y="317.5" width="11.6" height="61.10" fill="#e34a33"/>
<rect x="690.2" y="378.6" width="11.6" height="61.00" fill="#f0a07e"/>
<rect x="690.2" y="439.6" width="11.6" height="61.10" fill="#cfc9b0"/>
<rect x="690.2" y="500.7" width="11.6" height="61.10" fill="#1e9ab0"/>
<rect x="690.2" y="561.8" width="11.6" height="61.00" fill="#0b4a8c"/>
<line x1="701.8000000000001" y1="317.5" x2="704.4000000000001" y2="317.5" stroke="#888" stroke-width="0.6"/>
<text x="715.8" y="320.20" font-size="7.6" fill="#222" text-anchor="middle">1</text>
<line x1="701.8000000000001" y1="378.6" x2="704.4000000000001" y2="378.6" stroke="#888" stroke-width="0.6"/>
<text x="715.8" y="381.30" font-size="7.6" fill="#222" text-anchor="middle">0.6</text>
<line x1="701.8000000000001" y1="439.6" x2="704.4000000000001" y2="439.6" stroke="#888" stroke-width="0.6"/>
<text x="715.8" y="442.30" font-size="7.6" fill="#222" text-anchor="middle">0.2</text>
<line x1="701.8000000000001" y1="500.7" x2="704.4000000000001" y2="500.7" stroke="#888" stroke-width="0.6"/>
<text x="715.8" y="503.40" font-size="7.6" fill="#222" text-anchor="middle">−0.2</text>
<line x1="701.8000000000001" y1="561.8" x2="704.4000000000001" y2="561.8" stroke="#888" stroke-width="0.6"/>
<text x="715.8" y="564.50" font-size="7.6" fill="#222" text-anchor="middle">−0.6</text>
<line x1="701.8000000000001" y1="622.8" x2="704.4000000000001" y2="622.8" stroke="#888" stroke-width="0.6"/>
<text x="715.8" y="625.50" font-size="7.6" fill="#222" text-anchor="middle">−1</text>
<text x="6.0" y="653.9" font-size="22.5" font-weight="bold" fill="#000">E</text>
<rect x="91" y="717.91" width="47" height="210.09" fill="#f27b8b"/>
<rect x="138" y="669.89" width="47.6" height="258.11" fill="#6f7db3"/>
<rect x="43.5" y="657.3" width="189.0" height="282.70000000000005" fill="none" stroke="#6a6a6a" stroke-width="0.9"/>
<line x1="41.1" y1="928.00" x2="43.5" y2="928.00" stroke="#333" stroke-width="0.9"/>
<text x="40.1" y="930.90" font-size="8.2" fill="#333" text-anchor="end">0</text>
<line x1="41.1" y1="852.97" x2="43.5" y2="852.97" stroke="#333" stroke-width="0.9"/>
<text x="40.1" y="855.87" font-size="8.2" fill="#333" text-anchor="end">25</text>
<line x1="41.1" y1="777.93" x2="43.5" y2="777.93" stroke="#333" stroke-width="0.9"/>
<text x="40.1" y="780.83" font-size="8.2" fill="#333" text-anchor="end">50</text>
<line x1="41.1" y1="702.90" x2="43.5" y2="702.90" stroke="#333" stroke-width="0.9"/>
<text x="40.1" y="705.80" font-size="8.2" fill="#333" text-anchor="end">75</text>
<line x1="138" y1="940.0" x2="138" y2="942.4" stroke="#333" stroke-width="0.9"/>
<text x="114.5" y="715.31" font-size="8.2" fill="#222" text-anchor="middle">70</text>
<text x="161.8" y="667.29" font-size="8.2" fill="#222" text-anchor="middle">86</text>
<text transform="translate(143,946.5) rotate(-45)" font-size="8.2" fill="#222" text-anchor="end">P−vs−C</text>
<text transform="translate(14.2,799.2) rotate(-90)" font-size="10.8" fill="#111" text-anchor="middle">Number of Significant Differences</text>
<rect x="242" y="794.2" width="8.7" height="8.8" fill="#f27b8b"/>
<rect x="242" y="803" width="8.7" height="8.9" fill="#6f7db3"/>
<text x="254" y="801.6" font-size="7.6" fill="#222">up</text>
<text x="254" y="810.4" font-size="7.6" fill="#222">down</text>
<text x="284.6" y="654.2" font-size="22.5" font-weight="bold" fill="#000">F</text>
<text x="473.2" y="646.8" font-size="12.5" fill="#111" text-anchor="middle">Volcano Plot</text>
<g fill="#c9d4e0"><circle cx="465.8" cy="945.9" r="1.75"/><circle cx="476.9" cy="944.6" r="1.75"/><circle cx="472.7" cy="944.5" r="1.75"/><circle cx="481.9" cy="948.8" r="1.75"/><circle cx="482.9" cy="947.2" r="1.75"/><circle cx="476.9" cy="947.5" r="1.75"/><circle cx="467.4" cy="948.7" r="1.75"/><circle cx="464.4" cy="947.5" r="1.75"/><circle cx="479.3" cy="948.5" r="1.75"/><circle cx="471.3" cy="952.1" r="1.75"/><circle cx="474.0" cy="946.7" r="1.75"/><circle cx="474.9" cy="946.9" r="1.75"/><circle cx="470.2" cy="947.3" r="1.75"/><circle cx="485.2" cy="948.3" r="1.75"/><circle cx="475.0" cy="950.1" r="1.75"/><circle cx="485.1" cy="947.9" r="1.75"/><circle cx="470.5" cy="952.1" r="1.75"/><circle cx="463.5" cy="947.5" r="1.75"/><circle cx="476.9" cy="952.0" r="1.75"/><circle cx="469.0" cy="944.6" r="1.75"/><circle cx="478.9" cy="946.9" r="1.75"/><circle cx="470.2" cy="949.5" r="1.75"/><circle cx="475.4" cy="949.1" r="1.75"/><circle cx="470.4" cy="951.2" r="1.75"/><circle cx="483.8" cy="948.4" r="1.75"/><circle cx="469.8" cy="950.2" r="1.75"/><circle cx="477.1" cy="945.8" r="1.75"/><circle cx="470.0" cy="950.8" r="1.75"/><circle cx="472.7" cy="947.4" r="1.75"/><circle cx="475.4" cy="948.2" r="1.75"/><circle cx="473.5" cy="944.6" r="1.75"/><circle cx="484.5" cy="948.7" r="1.75"/><circle cx="467.2" cy="950.6" r="1.75"/><circle cx="476.2" cy="948.3" r="1.75"/><circle cx="478.6" cy="951.8" r="1.75"/><circle cx="477.1" cy="951.6" r="1.75"/><circle cx="484.5" cy="946.6" r="1.75"/><circle cx="469.3" cy="950.3" r="1.75"/><circle cx="462.6" cy="947.8" r="1.75"/><circle cx="481.9" cy="950.5" r="1.75"/><circle cx="476.9" cy="944.8" r="1.75"/><circle cx="485.3" cy="949.2" r="1.75"/><circle cx="479.6" cy="949.6" r="1.75"/><circle cx="464.3" cy="945.8" r="1.75"/><circle cx="467.1" cy="951.5" r="1.75"/><circle cx="466.8" cy="947.7" r="1.75"/><circle cx="471.4" cy="949.8" r="1.75"/><circle cx="477.8" cy="949.0" r="1.75"/><circle cx="468.8" cy="944.6" r="1.75"/><circle cx="475.0" cy="949.0" r="1.75"/><circle cx="482.6" cy="948.1" r="1.75"/><circle cx="468.4" cy="949.4" r="1.75"/><circle cx="464.1" cy="946.3" r="1.75"/><circle cx="465.7" cy="949.0" r="1.75"/><circle cx="484.7" cy="949.6" r="1.75"/><circle cx="482.1" cy="948.9" r="1.75"/><circle cx="475.9" cy="947.1" r="1.75"/><circle cx="472.1" cy="944.4" r="1.75"/><circle cx="465.9" cy="945.7" r="1.75"/><circle cx="480.0" cy="949.9" r="1.75"/><circle cx="480.3" cy="951.3" r="1.75"/><circle cx="471.2" cy="950.9" r="1.75"/><circle cx="485.0" cy="948.3" r="1.75"/><circle cx="481.8" cy="947.9" r="1.75"/><circle cx="462.9" cy="948.6" r="1.75"/><circle cx="466.8" cy="948.6" r="1.75"/><circle cx="469.6" cy="949.2" r="1.75"/><circle cx="464.6" cy="951.1" r="1.75"/><circle cx="483.1" cy="947.5" r="1.75"/><circle cx="466.2" cy="948.3" r="1.75"/></g>
<g fill="#3a78b6"><circle cx="331.3" cy="825.5" r="1.75"/><circle cx="331.3" cy="834.6" r="1.75"/><circle cx="335.4" cy="838.7" r="1.75"/><circle cx="340.4" cy="846.2" r="1.75"/><circle cx="339.3" cy="880.7" r="1.75"/><circle cx="331.3" cy="893.2" r="1.75"/><circle cx="331.3" cy="902.4" r="1.75"/><circle cx="336.3" cy="906.1" r="1.75"/><circle cx="339.3" cy="906.7" r="1.75"/><circle cx="341.0" cy="909.7" r="1.75"/><circle cx="356.4" cy="910.3" r="1.75"/><circle cx="339.3" cy="915.6" r="1.75"/><circle cx="352.8" cy="914.8" r="1.75"/><circle cx="336.9" cy="919.7" r="1.75"/><circle cx="341.5" cy="920.2" r="1.75"/><circle cx="344.5" cy="919.9" r="1.75"/><circle cx="341.5" cy="921.5" r="1.75"/><circle cx="352.8" cy="920.2" r="1.75"/><circle cx="352.8" cy="923.5" r="1.75"/><circle cx="358.6" cy="921.0" r="1.75"/><circle cx="366.9" cy="923.0" r="1.75"/><circle cx="343.0" cy="926.6" r="1.75"/><circle cx="353.1" cy="927.4" r="1.75"/><circle cx="357.5" cy="926.3" r="1.75"/><circle cx="360.8" cy="925.2" r="1.75"/><circle cx="361.9" cy="926.3" r="1.75"/><circle cx="364.1" cy="927.4" r="1.75"/><circle cx="364.7" cy="929.6" r="1.75"/><circle cx="366.3" cy="930.5" r="1.75"/><circle cx="370.2" cy="931.8" r="1.75"/><circle cx="370.8" cy="933.8" r="1.75"/><circle cx="364.1" cy="932.9" r="1.75"/><circle cx="359.4" cy="934.0" r="1.75"/><circle cx="380.5" cy="927.2" r="1.75"/><circle cx="379.6" cy="934.6" r="1.75"/><circle cx="383.4" cy="933.4" r="1.75"/><circle cx="385.1" cy="936.0" r="1.75"/><circle cx="386.8" cy="936.2" r="1.75"/><circle cx="396.4" cy="937.9" r="1.75"/><circle cx="407.7" cy="941.0" r="1.75"/><circle cx="441.3" cy="921.4" r="1.75"/><circle cx="443.0" cy="923.7" r="1.75"/><circle cx="447.5" cy="922.9" r="1.75"/><circle cx="443.6" cy="929.5" r="1.75"/><circle cx="451.3" cy="932.8" r="1.75"/><circle cx="458.2" cy="913.2" r="1.75"/><circle cx="455.2" cy="919.3" r="1.75"/><circle cx="447.5" cy="922.8" r="1.75"/><circle cx="462.4" cy="924.4" r="1.75"/><circle cx="464.4" cy="924.4" r="1.75"/><circle cx="450.4" cy="929.1" r="1.75"/><circle cx="453.3" cy="929.1" r="1.75"/><circle cx="457.2" cy="929.1" r="1.75"/><circle cx="461.1" cy="930.2" r="1.75"/><circle cx="462.8" cy="929.0" r="1.75"/><circle cx="451.2" cy="933.1" r="1.75"/><circle cx="457.2" cy="934.1" r="1.75"/><circle cx="463.2" cy="935.6" r="1.75"/><circle cx="454.5" cy="938.9" r="1.75"/><circle cx="452.4" cy="943.7" r="1.75"/><circle cx="457.4" cy="939.7" r="1.75"/><circle cx="459.9" cy="938.9" r="1.75"/><circle cx="461.6" cy="940.6" r="1.75"/><circle cx="464.0" cy="939.7" r="1.75"/><circle cx="459.1" cy="942.2" r="1.75"/><circle cx="456.6" cy="942.6" r="1.75"/><circle cx="462.4" cy="942.6" r="1.75"/><circle cx="464.9" cy="942.6" r="1.75"/><circle cx="460.7" cy="937.2" r="1.75"/><circle cx="464.9" cy="937.7" r="1.75"/><circle cx="458.0" cy="944.5" r="1.75"/><circle cx="461.0" cy="945.0" r="1.75"/><circle cx="464.0" cy="944.8" r="1.75"/></g>
<g fill="#85c4ef"><circle cx="466.2" cy="916.5" r="1.75"/><circle cx="466.5" cy="924.5" r="1.75"/><circle cx="468.5" cy="926.0" r="1.75"/><circle cx="470.0" cy="929.0" r="1.75"/><circle cx="467.0" cy="931.0" r="1.75"/><circle cx="469.5" cy="933.0" r="1.75"/><circle cx="471.0" cy="936.0" r="1.75"/><circle cx="467.5" cy="937.0" r="1.75"/><circle cx="469.0" cy="939.5" r="1.75"/><circle cx="471.5" cy="941.0" r="1.75"/><circle cx="467.0" cy="942.5" r="1.75"/><circle cx="470.0" cy="943.5" r="1.75"/><circle cx="466.8" cy="920.0" r="1.75"/><circle cx="468.0" cy="921.5" r="1.75"/><circle cx="466.6" cy="928.0" r="1.75"/><circle cx="472.0" cy="938.5" r="1.75"/><circle cx="468.7" cy="935.5" r="1.75"/><circle cx="469.5" cy="945.0" r="1.75"/><circle cx="467.0" cy="945.5" r="1.75"/></g>
<g fill="#f7b8c8"><circle cx="474.5" cy="913.2" r="1.75"/><circle cx="473.5" cy="921.0" r="1.75"/><circle cx="475.0" cy="924.0" r="1.75"/><circle cx="477.0" cy="926.0" r="1.75"/><circle cx="474.0" cy="928.0" r="1.75"/><circle cx="476.5" cy="930.0" r="1.75"/><circle cx="478.0" cy="932.0" r="1.75"/><circle cx="474.5" cy="934.0" r="1.75"/><circle cx="477.0" cy="936.5" r="1.75"/><circle cx="475.0" cy="939.0" r="1.75"/><circle cx="478.0" cy="941.0" r="1.75"/><circle cx="474.0" cy="942.5" r="1.75"/><circle cx="476.5" cy="943.5" r="1.75"/><circle cx="473.5" cy="937.5" r="1.75"/><circle cx="478.5" cy="922.0" r="1.75"/><circle cx="475.5" cy="945.5" r="1.75"/><circle cx="478.0" cy="945.0" r="1.75"/></g>
<g fill="#f4332b"><circle cx="489.3" cy="906.0" r="1.75"/><circle cx="513.6" cy="907.7" r="1.75"/><circle cx="501.9" cy="914.7" r="1.75"/><circle cx="482.2" cy="915.3" r="1.75"/><circle cx="481.8" cy="917.0" r="1.75"/><circle cx="487.6" cy="920.9" r="1.75"/><circle cx="481.4" cy="924.0" r="1.75"/><circle cx="495.5" cy="922.8" r="1.75"/><circle cx="492.3" cy="925.5" r="1.75"/><circle cx="497.0" cy="925.7" r="1.75"/><circle cx="500.3" cy="927.7" r="1.75"/><circle cx="487.4" cy="928.3" r="1.75"/><circle cx="495.5" cy="929.0" r="1.75"/><circle cx="484.6" cy="931.6" r="1.75"/><circle cx="482.7" cy="934.8" r="1.75"/><circle cx="494.7" cy="935.8" r="1.75"/><circle cx="486.8" cy="936.4" r="1.75"/><circle cx="488.0" cy="938.1" r="1.75"/><circle cx="490.1" cy="939.7" r="1.75"/><circle cx="483.9" cy="939.6" r="1.75"/><circle cx="492.6" cy="941.0" r="1.75"/><circle cx="494.7" cy="940.4" r="1.75"/><circle cx="481.4" cy="942.2" r="1.75"/><circle cx="495.5" cy="942.2" r="1.75"/><circle cx="487.2" cy="942.2" r="1.75"/><circle cx="491.3" cy="942.2" r="1.75"/><circle cx="484.5" cy="944.5" r="1.75"/><circle cx="489.0" cy="944.8" r="1.75"/><circle cx="552.9" cy="939.4" r="1.75"/><circle cx="562.7" cy="936.1" r="1.75"/><circle cx="566.0" cy="932.5" r="1.75"/><circle cx="567.6" cy="933.0" r="1.75"/><circle cx="571.5" cy="936.1" r="1.75"/><circle cx="577.0" cy="934.7" r="1.75"/><circle cx="576.4" cy="925.3" r="1.75"/><circle cx="579.2" cy="929.2" r="1.75"/><circle cx="580.9" cy="928.1" r="1.75"/><circle cx="580.9" cy="930.8" r="1.75"/><circle cx="582.5" cy="914.1" r="1.75"/><circle cx="586.0" cy="922.6" r="1.75"/><circle cx="586.9" cy="925.9" r="1.75"/><circle cx="587.8" cy="911.3" r="1.75"/><circle cx="592.1" cy="922.3" r="1.75"/><circle cx="594.9" cy="919.6" r="1.75"/><circle cx="594.9" cy="910.4" r="1.75"/><circle cx="597.4" cy="912.8" r="1.75"/><circle cx="601.0" cy="919.6" r="1.75"/><circle cx="602.9" cy="907.1" r="1.75"/><circle cx="610.7" cy="898.3" r="1.75"/><circle cx="614.5" cy="906.9" r="1.75"/><circle cx="611.8" cy="911.0" r="1.75"/><circle cx="614.4" cy="888.1" r="1.75"/><circle cx="600.7" cy="919.7" r="1.75"/><circle cx="592.0" cy="922.5" r="1.75"/><circle cx="614.3" cy="806.1" r="1.75"/><circle cx="614.3" cy="817.1" r="1.75"/><circle cx="614.3" cy="821.7" r="1.75"/><circle cx="614.3" cy="832.5" r="1.75"/><circle cx="612.0" cy="841.3" r="1.75"/><circle cx="613.7" cy="849.6" r="1.75"/><circle cx="614.4" cy="851.7" r="1.75"/><circle cx="593.5" cy="857.8" r="1.75"/><circle cx="584.9" cy="869.5" r="1.75"/></g>
<g stroke="#2a2a2a" stroke-width="1.15" stroke-dasharray="3.9,4.217" fill="none"><line x1="466.01" y1="655.5" x2="466.01" y2="965.7" stroke-dashoffset="1.817"/><line x1="479.79" y1="655.5" x2="479.79" y2="965.7" stroke-dashoffset="1.817"/><line x1="317.2" y1="944.50" x2="627.9" y2="944.50"/></g>
<rect x="317.7" y="655.5" width="310.20" height="310.20" fill="none" stroke="#333" stroke-width="1.2"/>
<line x1="315.09999999999997" y1="952.00" x2="317.7" y2="952.00" stroke="#333" stroke-width="1"/>
<text x="312.09999999999997" y="955.00" font-size="8.3" fill="#4d4d4d" text-anchor="end">0</text>
<line x1="315.09999999999997" y1="894.34" x2="317.7" y2="894.34" stroke="#333" stroke-width="1"/>
<text x="312.09999999999997" y="897.34" font-size="8.3" fill="#4d4d4d" text-anchor="end">10</text>
<line x1="315.09999999999997" y1="836.68" x2="317.7" y2="836.68" stroke="#333" stroke-width="1"/>
<text x="312.09999999999997" y="839.68" font-size="8.3" fill="#4d4d4d" text-anchor="end">20</text>
<line x1="315.09999999999997" y1="779.02" x2="317.7" y2="779.02" stroke="#333" stroke-width="1"/>
<text x="312.09999999999997" y="782.02" font-size="8.3" fill="#4d4d4d" text-anchor="end">30</text>
<line x1="315.09999999999997" y1="721.36" x2="317.7" y2="721.36" stroke="#333" stroke-width="1"/>
<text x="312.09999999999997" y="724.36" font-size="8.3" fill="#4d4d4d" text-anchor="end">40</text>
<line x1="315.09999999999997" y1="663.70" x2="317.7" y2="663.70" stroke="#333" stroke-width="1"/>
<text x="312.09999999999997" y="666.70" font-size="8.3" fill="#4d4d4d" text-anchor="end">50</text>
<line x1="355.10" y1="965.7" x2="355.10" y2="968.3000000000001" stroke="#333" stroke-width="1"/>
<text x="355.10" y="977.2" font-size="8.3" fill="#4d4d4d" text-anchor="middle">-10</text>
<line x1="414.00" y1="965.7" x2="414.00" y2="968.3000000000001" stroke="#333" stroke-width="1"/>
<text x="414.00" y="977.2" font-size="8.3" fill="#4d4d4d" text-anchor="middle">-5</text>
<line x1="472.90" y1="965.7" x2="472.90" y2="968.3000000000001" stroke="#333" stroke-width="1"/>
<text x="472.90" y="977.2" font-size="8.3" fill="#4d4d4d" text-anchor="middle">0</text>
<line x1="531.80" y1="965.7" x2="531.80" y2="968.3000000000001" stroke="#333" stroke-width="1"/>
<text x="531.80" y="977.2" font-size="8.3" fill="#4d4d4d" text-anchor="middle">5</text>
<line x1="590.70" y1="965.7" x2="590.70" y2="968.3000000000001" stroke="#333" stroke-width="1"/>
<text x="590.70" y="977.2" font-size="8.3" fill="#4d4d4d" text-anchor="middle">10</text>
<text x="472.7" y="988.8" font-size="10.4" fill="#111" text-anchor="middle">log2(FC)</text>
<text transform="translate(300.2,810.5) rotate(-90)" font-size="10.5" fill="#111" text-anchor="middle">-log10(P-value)</text>
<text x="616.9" y="954" font-size="10.7" fill="#333" text-anchor="end">p-value=0.05</text>
<text x="333.6" y="682.6" font-size="8" letter-spacing="0.2" fill="#111">Sig : 86</text>
<text x="612.1" y="682.6" font-size="8" letter-spacing="0.2" fill="#111" text-anchor="end">Sig : 70</text>
<text x="333.6" y="694.2" font-size="8" letter-spacing="0.2" fill="#111">p &lt; 0.05</text>
<text x="612.1" y="694.2" font-size="8" letter-spacing="0.2" fill="#111" text-anchor="end">p &lt; 0.05</text>
<text x="333.6" y="705.7" font-size="8" letter-spacing="0.2" fill="#111">log2(FC) &lt; -0.585</text>
<text x="612.1" y="705.7" font-size="8" letter-spacing="0.2" fill="#111" text-anchor="end">log2(FC) &gt; 0.585</text>
<text x="333.6" y="717.3" font-size="8" letter-spacing="0.2" fill="#111">Down</text>
<text x="612.1" y="717.3" font-size="8" letter-spacing="0.2" fill="#111" text-anchor="end">Up</text>
<circle cx="649.3" cy="775.1" r="1.6" fill="#3a78b6"/>
<text x="662.6" y="778.0" font-size="7.9" letter-spacing="0.2" fill="#222">Significant Down</text>
<circle cx="649.3" cy="791.5" r="1.6" fill="#85c4ef"/>
<text x="662.6" y="794.4" font-size="7.9" letter-spacing="0.2" fill="#222">Down</text>
<circle cx="649.3" cy="807.9" r="1.6" fill="#c9d4e0"/>
<text x="662.6" y="810.8" font-size="7.9" letter-spacing="0.2" fill="#222">Non-significant</text>
<circle cx="649.3" cy="824.3" r="1.6" fill="#f7b8c8"/>
<text x="662.6" y="827.2" font-size="7.9" letter-spacing="0.2" fill="#222">Up</text>
<circle cx="649.3" cy="840.7" r="1.6" fill="#f4332b"/>
<text x="662.6" y="843.6" font-size="7.9" letter-spacing="0.2" fill="#222">Significant Up</text>
</svg>
</body></html>
